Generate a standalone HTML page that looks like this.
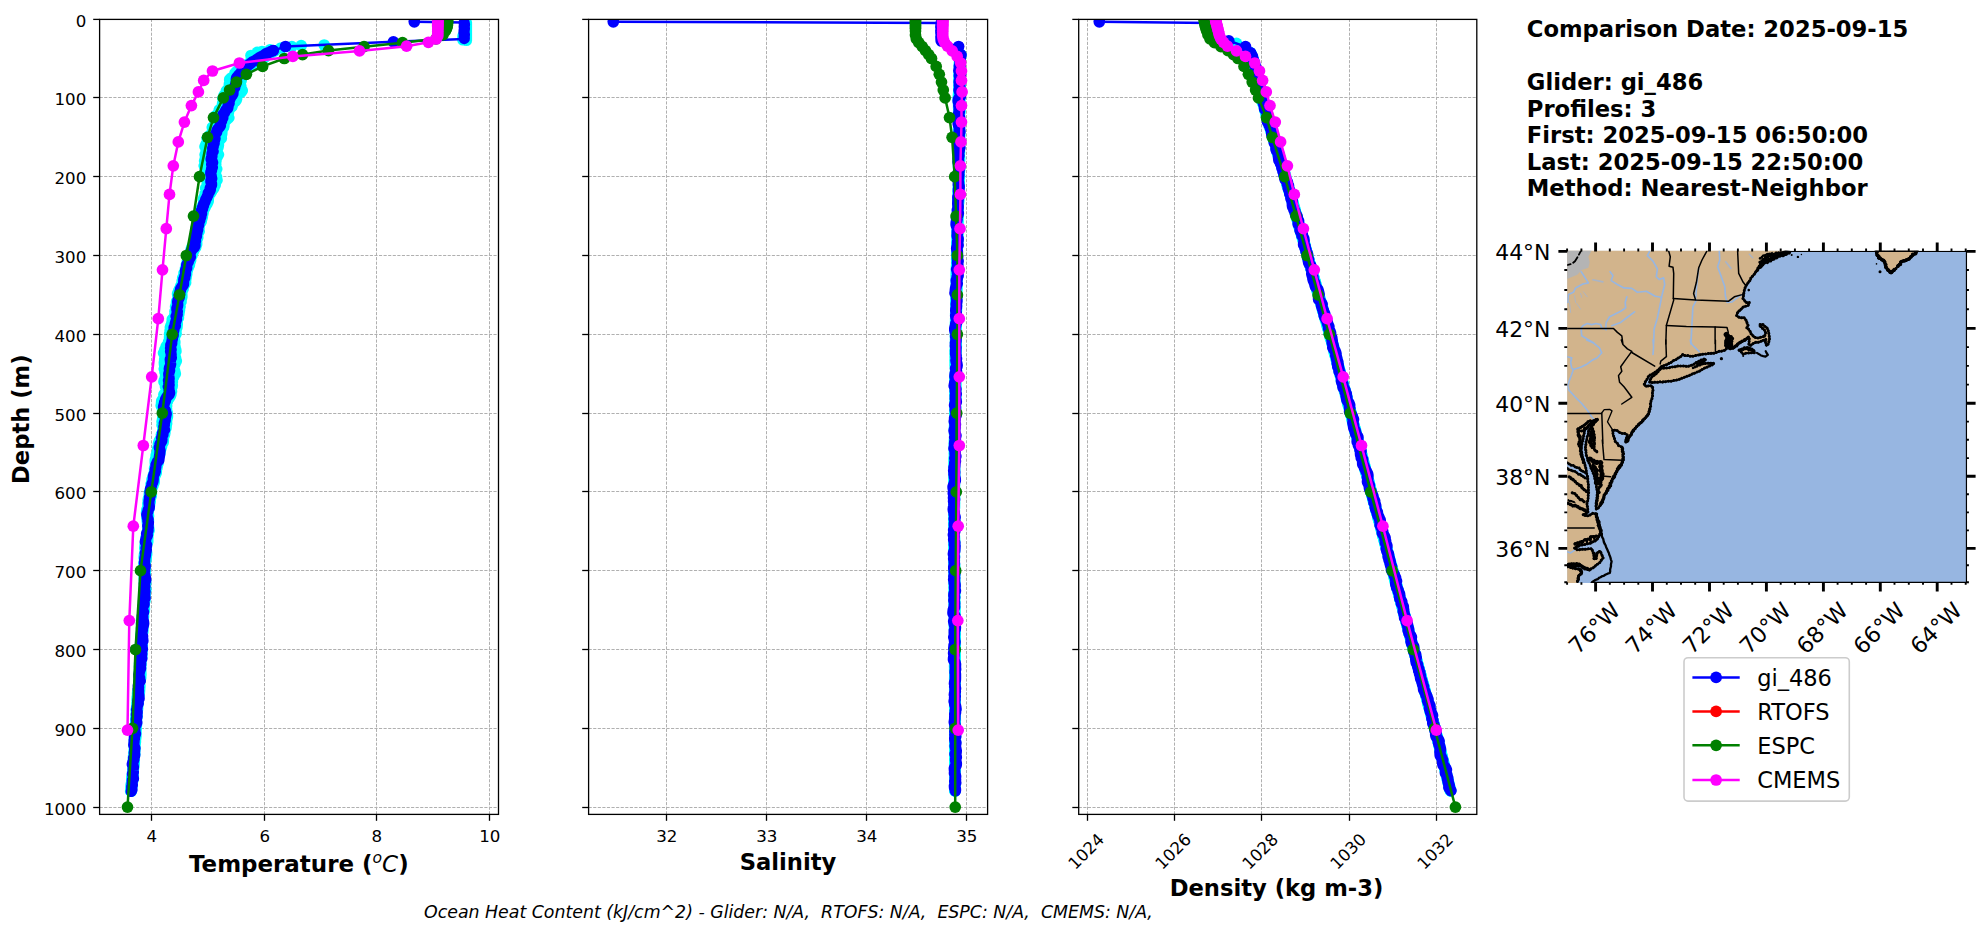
<!DOCTYPE html>
<html lang="en"><head><meta charset="utf-8"><title>Glider vs model profile comparison</title>
<style>html,body{margin:0;padding:0;background:#fff}svg{display:block}text{font-family:'DejaVu Sans','Liberation Sans',sans-serif;fill:#000}</style>
</head><body>
<svg width="1980" height="934" viewBox="0 0 1980 934">
<rect width="1980" height="934" fill="#fff"/>
<defs>
<clipPath id="c0"><rect x="99.6" y="19.4" width="398.9" height="795"/></clipPath>
<clipPath id="c1"><rect x="588.6" y="19.4" width="399" height="795"/></clipPath>
<clipPath id="c2"><rect x="1078.7" y="19.4" width="398.1" height="795"/></clipPath>
<clipPath id="cm"><rect x="1567.2" y="250.7" width="400" height="332.3"/></clipPath>
</defs>
<g stroke="#b0b0b0" stroke-width="1" stroke-dasharray="3.15 1.43" fill="none">
<path d="M99.6 97.5H498.5"/>
<path d="M99.6 176.5H498.5"/>
<path d="M99.6 255.5H498.5"/>
<path d="M99.6 334.5H498.5"/>
<path d="M99.6 413.5H498.5"/>
<path d="M99.6 491.5H498.5"/>
<path d="M99.6 570.5H498.5"/>
<path d="M99.6 649.5H498.5"/>
<path d="M99.6 728.5H498.5"/>
<path d="M99.6 807.5H498.5"/>
<path d="M151.5 814.4V19.4"/>
<path d="M264.5 814.4V19.4"/>
<path d="M376.5 814.4V19.4"/>
<path d="M489.5 814.4V19.4"/>
</g>
<g stroke="#b0b0b0" stroke-width="1" stroke-dasharray="3.15 1.43" fill="none">
<path d="M588.6 97.5H987.6"/>
<path d="M588.6 176.5H987.6"/>
<path d="M588.6 255.5H987.6"/>
<path d="M588.6 334.5H987.6"/>
<path d="M588.6 413.5H987.6"/>
<path d="M588.6 491.5H987.6"/>
<path d="M588.6 570.5H987.6"/>
<path d="M588.6 649.5H987.6"/>
<path d="M588.6 728.5H987.6"/>
<path d="M588.6 807.5H987.6"/>
<path d="M666.5 814.4V19.4"/>
<path d="M766.5 814.4V19.4"/>
<path d="M866.5 814.4V19.4"/>
<path d="M966.5 814.4V19.4"/>
</g>
<g stroke="#b0b0b0" stroke-width="1" stroke-dasharray="3.15 1.43" fill="none">
<path d="M1078.7 97.5H1476.8"/>
<path d="M1078.7 176.5H1476.8"/>
<path d="M1078.7 255.5H1476.8"/>
<path d="M1078.7 334.5H1476.8"/>
<path d="M1078.7 413.5H1476.8"/>
<path d="M1078.7 491.5H1476.8"/>
<path d="M1078.7 570.5H1476.8"/>
<path d="M1078.7 649.5H1476.8"/>
<path d="M1078.7 728.5H1476.8"/>
<path d="M1078.7 807.5H1476.8"/>
<path d="M1087.5 814.4V19.4"/>
<path d="M1174.5 814.4V19.4"/>
<path d="M1261.5 814.4V19.4"/>
<path d="M1349.5 814.4V19.4"/>
<path d="M1436.5 814.4V19.4"/>
</g>
<g clip-path="url(#c0)">
<polyline points="271.9,50.6 267.5,52.2 263.9,53.8 260.2,55.4 259.1,57 255,58.6 252.8,60.2 250.4,61.8 248.6,63.4 245.8,65 243.1,66.6 241.2,68.2 238.2,69.8 236.5,71.4 234.9,73 235.6,74.6 234.1,76.2 231.3,77.8 229.5,79.4 229.6,81 232.1,82.6 229.2,84.2 229.2,85.8 230.4,87.4 228.1,89 226.3,90.6 227.3,92.2 227.2,93.8 223.9,95.4 225.3,97 222.8,98.6 223.6,100.2 223.8,101.8 222.4,103.4 222.3,105 221.9,106.6 221.6,108.2 219.1,109.8 220.1,111.4 219,113 217,114.6 214.8,116.2 216.4,117.8 217.7,119.4 217.9,121 216.8,122.6 216.1,124.2 214.3,125.8 212.1,127.4 213.4,129 213.3,130.6 212.1,132.2 212.3,133.8 209.6,135.4 207.7,137 207,138.6 208.9,140.2 207.9,141.8 206.3,143.4 205.6,145 204.9,146.6 207.1,148.2 208.4,149.8 205.9,151.4 206.4,153 205.1,154.6 206.6,156.2 205.3,157.8 206.3,159.4 204.5,161 205.2,162.6 205.1,164.2 204,165.8 206,167.4 205.6,169 206.3,170.6 204.8,172.2 204.4,173.8 206.1,175.4 205.9,177 207.4,178.6 207.4,180.2 208.3,181.8 207.1,183.4 207,185 207.5,186.6 205.4,188.2 207.1,189.8 205.6,191.4 205.1,193 205.1,194.6 204.5,196.2 203.7,197.8 203.1,199.4 203.6,201 203.8,202.6 203.3,204.2 202.3,205.8 202.1,207.4 200.6,209 200.7,210.6 200.2,212.2 199.8,213.8 199.5,215.4 198.4,217 198.1,218.6 198,220.2 197.5,221.8 197.2,223.4 196.7,225 196.5,226.6 195.9,228.2 196.4,229.8 195.5,231.4 195.7,233 195.3,234.6 195.5,236.2 195.4,237.8 194.7,239.4 195,241 194.8,242.6 193.4,244.2 192.4,245.8 191.6,247.4 191.1,249 190.7,250.6 190.2,252.2 190.2,253.8 189.2,255.4 189.2,257 188.4,258.6 188.1,260.2 187,261.8 187,263.4 186.1,265 186.1,266.6 185.3,268.2 185.3,269.8 185.1,271.4 183.8,273 184,274.6 183.6,276.2 182.5,277.8 182.6,279.4 182,281 182.4,282.6 181.8,284.2 180.6,285.8 180.5,287.4 179.3,289 178.7,290.6 178,292.2 177.4,293.8 177.6,295.4 178.4,297 177.9,298.6 177.2,300.2 176.3,301.8 176.3,303.4 176,305 175.4,306.6 176,308.2 176.1,309.8 174.8,311.4 175,313 174.7,314.6 175.1,316.2 174,317.8 172.1,319.4 172.7,321 171.8,322.6 171.5,324.2 170.7,325.8 170.2,327.4 171,329 169.9,330.6 170.4,332.2 169.4,333.8 169.6,335.4 169.4,337 169.4,338.6 169.2,340.2 168.4,341.8 168.7,343.4 167.2,345 165.9,346.6 166,348.2 164.6,349.8 164.4,351.4 163.4,353 164.5,354.6 164.9,356.2 164.8,357.8 164.5,359.4 164.5,361 164.2,362.6 164.3,364.2 164.6,365.8 166,367.4 164.2,369 165.1,370.6 164.8,372.2 166.1,373.8 166,375.4 165.2,377 165.8,378.6 164.2,380.2 163.8,381.8 164.8,383.4 165.9,385 165.3,386.6 165.8,388.2 166.2,389.8 166.1,391.4 165,393 163.7,394.6 164,396.2 163.9,397.8 162.5,399.4 161.5,401 161.4,402.6 161.3,404.2 161,405.8 162.1,407.4 162.4,409 162.4,410.6 163.7,412.2 164.1,413.8 164.2,415.4 163.4,417 162.5,418.6 162.3,420.2 161.9,421.8 162.7,423.4 161.9,425 162.6,426.6 163.1,428.2 162.6,429.8 162.7,431.4 162.5,433 161.2,434.6 161.1,436.2 160.9,437.8 159.9,439.4 159.1,441 158.5,442.6 158.2,444.2 158.8,445.8 158,447.4 157.5,449 157.6,450.6 157.4,452.2 156.5,453.8 156,455.4 156,457 155.5,458.6 155.1,460.2 155.1,461.8 155.2,463.4 155.4,465 155.1,466.6 154.4,468.2 154.6,469.8 154.4,471.4 154.1,473 153.5,474.6 152.9,476.2 152.8,477.8 151.8,479.4 151.8,481 151.5,482.6 150.9,484.2 151.1,485.8 151,487.4 150.4,489 150.1,490.6 149.4,492.2 149.2,493.8 149.1,495.4 149.1,497 148.3,498.6 148,500.2 148.3,501.8 147.7,503.4 147.8,505 147.9,506.6 147.4,508.2 146.7,509.8 146.5,511.4 146.4,513 146.7,514.6 146.7,516.2 146.7,517.8 146.9,519.4 147.1,521 147.3,522.6 147.5,524.2 147.6,525.8 147.5,527.4 147.7,529 147.5,530.6 147.1,532.2 147.1,533.8 146.4,535.4 146,537 146.2,538.6 146.1,540.2 145.6,541.8 145.3,543.4 145,545 144.8,546.6 144.6,548.2 145,549.8 145.1,551.4 144.7,553 144.3,554.6 144.1,556.2 144,557.8 144.5,559.4 144.2,561 143.9,562.6 143.7,564.2 143.8,565.8 144.1,567.4 144.1,569 143.9,570.6 143.9,572.2 143.9,573.8 143.8,575.4 144.3,577 144,578.6 144.2,580.2 144.4,581.8 144.2,583.4 144.3,585 144.2,586.6 143.9,588.2 144.1,589.8 144,591.4 143.9,593 144.1,594.6 144,596.2 143.7,597.8 143.8,599.4 143.5,601 143.4,602.6 143.5,604.2 143.1,605.8 143,607.4 142.7,609 142.9,610.6 142.6,612.2 142.6,613.8 142.5,615.4 142,617 141.7,618.6 141.4,620.2 141.6,621.8 141.3,623.4 141.6,625 141.7,626.6 141.3,628.2 141.6,629.8 141.4,631.4 141.2,633 140.8,634.6 140.7,636.2 140.6,637.8 141.1,639.4 140.6,641 140.5,642.6 140.4,644.2 140.6,645.8 140.3,647.4 140.7,649 140.8,650.6 140.5,652.2 140,653.8 139.9,655.4 140.1,657 139.9,658.6 140,660.2 139.6,661.8 139.4,663.4 139.5,665 139.3,666.6 139.7,668.2 139.5,669.8 139.4,671.4 139.6,673 139.6,674.6 139.6,676.2 139.2,677.8 139.1,679.4 138.8,681 139,682.6 139,684.2 138.6,685.8 138.7,687.4 138.3,689 138,690.6 137.5,692.2 137.4,693.8 137.5,695.4 137.1,697 137,698.6 136.9,700.2 137.2,701.8 136.7,703.4 136.8,705 136.7,706.6 136.4,708.2 136,709.8 136.2,711.4 136.1,713 136.1,714.6 136,716.2 135.6,717.8 135.8,719.4 135.6,721 135.8,722.6 135.4,724.2 135.1,725.8 135.4,727.4 135.3,729 135.2,730.6 135.1,732.2 135.2,733.8 134.7,735.4 134.6,737 134.4,738.6 134.2,740.2 134.2,741.8 134.3,743.4 134,745 134.2,746.6 134.2,748.2 134.1,749.8 133.9,751.4 133.8,753 133.8,754.6 133.4,756.2 133.3,757.8 133.2,759.4 133.3,761 133,762.6 132.7,764.2 132.5,765.8 132.7,767.4 132.9,769 132.7,770.6 132.4,772.2 132.3,773.8 132,775.4 131.7,777 131.6,778.6 131.6,780.2 131.7,781.8 131.3,783.4 130.9,785 130.9,786.6 131,788.2 130.7,789.8 130.5,791.4" fill="none" stroke="#00ffff" stroke-width="11.2" stroke-linejoin="round" stroke-linecap="round"/>
</g>
<g clip-path="url(#c0)">
<polyline points="275.6,50.6 272.8,52.2 268.3,53.8 267.3,55.4 265.3,57 263.5,58.6 259.3,60.2 255.9,61.8 252.9,63.4 250.6,65 248,66.6 248.2,68.2 246.7,69.8 246.8,71.4 246.5,73 244.6,74.6 242.5,76.2 241.7,77.8 239.8,79.4 241.1,81 239.7,82.6 238.5,84.2 240.8,85.8 240,87.4 241.6,89 242.4,90.6 241.3,92.2 238.7,93.8 236.5,95.4 235.5,97 236.8,98.6 236.4,100.2 234.9,101.8 232.7,103.4 232.5,105 232.1,106.6 230.1,108.2 229.3,109.8 228.7,111.4 228.5,113 228.2,114.6 228,116.2 228.9,117.8 227.1,119.4 225.2,121 224.6,122.6 223.6,124.2 224.1,125.8 223.7,127.4 222.6,129 220.9,130.6 222,132.2 221.9,133.8 221.5,135.4 221.3,137 221.5,138.6 218.7,140.2 217.6,141.8 217.8,143.4 218.6,145 218.3,146.6 217.9,148.2 216.9,149.8 216,151.4 217.5,153 218.6,154.6 217.6,156.2 216.9,157.8 215.3,159.4 216.1,161 215.1,162.6 215.9,164.2 215.2,165.8 215.4,167.4 216.8,169 215.7,170.6 215.8,172.2 215.1,173.8 215.3,175.4 216.7,177 216,178.6 217.1,180.2 215.9,181.8 215.3,183.4 215.4,185 214.4,186.6 214,188.2 212.5,189.8 210.8,191.4 210.4,193 209.2,194.6 208.6,196.2 208.6,197.8 208.4,199.4 208.4,201 207.8,202.6 207,204.2 205.9,205.8 205.2,207.4 204.3,209 203.2,210.6 203.1,212.2 203.1,213.8 202.3,215.4 202.5,217 202,218.6 201.2,220.2 201.4,221.8 200.1,223.4 199.5,225 199.1,226.6 199.2,228.2 198.6,229.8 199.3,231.4 198.2,233 197.9,234.6 197.7,236.2 197.9,237.8 197.1,239.4 196.5,241 196.8,242.6 196.8,244.2 196.1,245.8 195.9,247.4 194.7,249 193.9,250.6 193.2,252.2 192.1,253.8 192.2,255.4 191,257 190.2,258.6 190.8,260.2 190.2,261.8 189.3,263.4 189.6,265 188.6,266.6 188.2,268.2 187.2,269.8 186.6,271.4 186.6,273 186.8,274.6 185.8,276.2 186.1,277.8 185.9,279.4 185.6,281 185.8,282.6 184.9,284.2 183.5,285.8 182.6,287.4 183.3,289 182.2,290.6 181.7,292.2 181.9,293.8 182,295.4 182,297 181.6,298.6 180.8,300.2 181.2,301.8 179.9,303.4 179.4,305 180.2,306.6 179.2,308.2 179.7,309.8 179.4,311.4 179.1,313 178.9,314.6 178.3,316.2 178.6,317.8 177.2,319.4 176.8,321 177.3,322.6 177.4,324.2 177.2,325.8 177.1,327.4 176.2,329 176.2,330.6 176,332.2 176.3,333.8 175.2,335.4 174.7,337 174.5,338.6 174,340.2 175,341.8 174.9,343.4 173.6,345 175.2,346.6 174.9,348.2 175.9,349.8 176.1,351.4 175.1,353 174.2,354.6 174.4,356.2 175.7,357.8 175.9,359.4 176.5,361 175.6,362.6 175,364.2 173.9,365.8 174,367.4 174.1,369 174.7,370.6 175.1,372.2 175.5,373.8 173.8,375.4 173.9,377 172.2,378.6 171.8,380.2 172.5,381.8 171,383.4 172.5,385 172.3,386.6 171.3,388.2 171.2,389.8 171.7,391.4 170.4,393 171.1,394.6 170.4,396.2 169.5,397.8 168,399.4 167.7,401 166.7,402.6 165.9,404.2 166.8,405.8 166.4,407.4 166.7,409 166.6,410.6 167.2,412.2 167.3,413.8 167.6,415.4 167.6,417 167,418.6 166.9,420.2 166.3,421.8 166.8,423.4 166.4,425 166.3,426.6 166.1,428.2 165.3,429.8 164.9,431.4 165,433 164.7,434.6 163.9,436.2 163.2,437.8 163.5,439.4 163.5,441 163.3,442.6 162.2,444.2 161.9,445.8 161.4,447.4 160.9,449 160.4,450.6 160.3,452.2 160,453.8 159,455.4 158.3,457 158,458.6 158.4,460.2 158.5,461.8 158.2,463.4 157.5,465 157.2,466.6 157,468.2 156.2,469.8 156.5,471.4 156.4,473 155.3,474.6 154.7,476.2 154.3,477.8 154.4,479.4 154.4,481 154.3,482.6 153.5,484.2 153.1,485.8 152.3,487.4 151.6,489 151.6,490.6 151.4,492.2 151.5,493.8 151.5,495.4 151.1,497 150.3,498.6 150.2,500.2 150.4,501.8 149.9,503.4 149.7,505 149.4,506.6 149.1,508.2 148.7,509.8 148.3,511.4 148.1,513 148.5,514.6 148.7,516.2 148.2,517.8 148.2,519.4 148,521 148,522.6 148,524.2 148.6,525.8 148.5,527.4 148.9,529 149.2,530.6 148.5,532.2 148.2,533.8 147.7,535.4 147.4,537 147.8,538.6 147.9,540.2 147.9,541.8 147.1,543.4 146.7,545 146.6,546.6 146.1,548.2 146.3,549.8 146.6,551.4 146.8,553 146.8,554.6 146.3,556.2 146.4,557.8 145.9,559.4 145.8,561 145.4,562.6 145.2,564.2 145,565.8 145.1,567.4 145.4,569 145.4,570.6 145.1,572.2 145.1,573.8 145.2,575.4 145,577 145,578.6 145.6,580.2 145.8,581.8 145.8,583.4 145.4,585 145.5,586.6 145.8,588.2 146,589.8 145.6,591.4 145.4,593 145.4,594.6 145,596.2 145.1,597.8 144.6,599.4 144.9,601 144.5,602.6 144.4,604.2 144.5,605.8 144.4,607.4 144.6,609 144.4,610.6 143.9,612.2 143.5,613.8 143.7,615.4 143.7,617 143.2,618.6 143.4,620.2 143.1,621.8 142.8,623.4 142.6,625 142.6,626.6 142.9,628.2 142.8,629.8 142.6,631.4 142.6,633 142.2,634.6 142.4,636.2 142.5,637.8 142.4,639.4 141.9,641 141.9,642.6 142.3,644.2 142.4,645.8 142.4,647.4 142.3,649 142.4,650.6 141.9,652.2 142,653.8 142,655.4 142,657 141.5,658.6 141.4,660.2 140.9,661.8 140.8,663.4 141.1,665 140.7,666.6 140.8,668.2 140.5,669.8 140.9,671.4 141,673 141.1,674.6 140.8,676.2 140.9,677.8 140.3,679.4 140.2,681 139.7,682.6 139.8,684.2 140,685.8 139.9,687.4 139.8,689 139.7,690.6 139.6,692.2 139.3,693.8 139.2,695.4 138.6,697 138.3,698.6 138.4,700.2 138.4,701.8 138.1,703.4 137.9,705 137.7,706.6 137.8,708.2 137.6,709.8 137.3,711.4 137.1,713 137,714.6 137.3,716.2 136.9,717.8 136.5,719.4 136.5,721 136.4,722.6 136.7,724.2 136.5,725.8 136.4,727.4 136.1,729 136,730.6 136,732.2 135.9,733.8 135.8,735.4 136,737 135.8,738.6 135.5,740.2 135.6,741.8 135.2,743.4 134.9,745 134.9,746.6 134.9,748.2 134.9,749.8 134.6,751.4 134.7,753 134.9,754.6 134.5,756.2 134.3,757.8 134.3,759.4 134.3,761 134.4,762.6 134.2,764.2 134,765.8 133.6,767.4 133.6,769 133.2,770.6 133,772.2 132.8,773.8 133.1,775.4 132.9,777 132.7,778.6 132.8,780.2 132.6,781.8 132.1,783.4 132.1,785 132.2,786.6 131.6,788.2 131.7,789.8 131.4,791.4" fill="none" stroke="#00ffff" stroke-width="11.2" stroke-linejoin="round" stroke-linecap="round"/>
</g>
<g clip-path="url(#c0)">
<polyline points="273.2,50.6 270.5,52.2 268.5,53.8 264.9,55.4 262.3,57 259.1,58.6 257.1,60.2 255,61.8 252.8,63.4 251.7,65 249.5,66.6 246.7,68.2 244.6,69.8 243.6,71.4 243,73 240.6,74.6 241.2,76.2 239.7,77.8 240.1,79.4 237.3,81 236.5,82.6 234.5,84.2 234.9,85.8 234.3,87.4 234.2,89 233.4,90.6 235.5,92.2 235.4,93.8 233.9,95.4 233.4,97 231.6,98.6 233.6,100.2 234.3,101.8 233,103.4 230.1,105 231.5,106.6 228.7,108.2 226.1,109.8 225.9,111.4 225.2,113 226.3,114.6 223.9,116.2 222.2,117.8 222.6,119.4 221.1,121 222.3,122.6 221.9,124.2 222.8,125.8 223.2,127.4 220.7,129 220.9,130.6 219.7,132.2 220.4,133.8 217.4,135.4 216.8,137 218.1,138.6 215.5,140.2 214.9,141.8 214.4,143.4 214.2,145 216.2,146.6 214.3,148.2 215.4,149.8 213.9,151.4 215.1,153 213.1,154.6 211.8,156.2 214.2,157.8 212.1,159.4 213.1,161 212.1,162.6 212.8,164.2 212.3,165.8 213,167.4 213.6,169 214.1,170.6 212.2,172.2 213.6,173.8 212.4,175.4 212.9,177 213.8,178.6 214.1,180.2 213.5,181.8 213.1,183.4 211.8,185 212.6,186.6 211.9,188.2 211.7,189.8 211.7,191.4 210.8,193 209.2,194.6 208.4,196.2 207.1,197.8 206.3,199.4 206.6,201 206.2,202.6 204.9,204.2 204.4,205.8 203.8,207.4 203.8,209 203.6,210.6 202.4,212.2 201.2,213.8 200.6,215.4 200.7,217 200.2,218.6 199.2,220.2 199.6,221.8 199.5,223.4 198.8,225 197.7,226.6 197.5,228.2 197.6,229.8 196.8,231.4 196.3,233 195.8,234.6 195.4,236.2 195.9,237.8 196.2,239.4 196.2,241 195.5,242.6 194.9,244.2 193.7,245.8 194,247.4 193.4,249 192.3,250.6 191.3,252.2 190.8,253.8 190.4,255.4 190.5,257 189.4,258.6 189.7,260.2 188.8,261.8 188,263.4 188.1,265 187.2,266.6 187.8,268.2 187.4,269.8 187.1,271.4 186.5,273 186.5,274.6 186.2,276.2 185.5,277.8 184.2,279.4 184.2,281 184.5,282.6 183.3,284.2 183.2,285.8 182,287.4 182.3,289 181.8,290.6 181.4,292.2 181.1,293.8 180.7,295.4 180.6,297 180.3,298.6 179.5,300.2 179.9,301.8 178.8,303.4 179,305 178.5,306.6 177.6,308.2 177.2,309.8 177.3,311.4 176.6,313 176.9,314.6 177.5,316.2 177.3,317.8 176.8,319.4 176.5,321 176,322.6 176.1,324.2 176,325.8 175.4,327.4 175.4,329 175.1,330.6 173.8,332.2 173,333.8 173,335.4 172.7,337 173.3,338.6 173.1,340.2 173.4,341.8 173.5,343.4 174.2,345 173.4,346.6 172,348.2 173.5,349.8 172.3,351.4 172.9,353 171.7,354.6 171.4,356.2 172,357.8 173.1,359.4 173.8,361 174.2,362.6 173,364.2 173,365.8 173,367.4 172.3,369 172.5,370.6 171.6,372.2 171.2,373.8 170.5,375.4 169.6,377 171.2,378.6 171,380.2 170.7,381.8 171,383.4 169.9,385 168.8,386.6 169.5,388.2 168.9,389.8 168.3,391.4 168.7,393 168.2,394.6 168.7,396.2 167.7,397.8 167.8,399.4 167.2,401 166.7,402.6 166.2,404.2 165.2,405.8 165.8,407.4 164.9,409 165.7,410.6 166.8,412.2 167.3,413.8 167.2,415.4 167,417 166.4,418.6 166.4,420.2 166.2,421.8 165.9,423.4 165.5,425 165.4,426.6 165.4,428.2 164.5,429.8 164.4,431.4 164.6,433 163.4,434.6 163.8,436.2 163.6,437.8 162.8,439.4 162.4,441 161.8,442.6 161,444.2 160.6,445.8 160.9,447.4 159.8,449 159.6,450.6 159,452.2 159,453.8 159.2,455.4 158.8,457 157.9,458.6 158.2,460.2 157.5,461.8 157.5,463.4 157.4,465 156.6,466.6 155.8,468.2 156.1,469.8 156,471.4 155.1,473 155.1,474.6 154.9,476.2 154,477.8 153.3,479.4 153.2,481 152.7,482.6 152.2,484.2 151.6,485.8 151.4,487.4 150.8,489 150.4,490.6 150.2,492.2 150.3,493.8 150.3,495.4 150,497 149.6,498.6 149.6,500.2 149.5,501.8 149.2,503.4 149,505 148.8,506.6 149,508.2 148.2,509.8 148.3,511.4 148.2,513 148,514.6 148.1,516.2 148.4,517.8 148.5,519.4 148.6,521 148.1,522.6 148,524.2 147.9,525.8 148.6,527.4 148.4,529 148.3,530.6 148.3,532.2 148.3,533.8 147.7,535.4 147.8,537 147.3,538.6 147.4,540.2 146.7,541.8 146.8,543.4 146.1,545 146.3,546.6 146,548.2 146.1,549.8 146.2,551.4 146.4,553 146.4,554.6 146.3,556.2 145.6,557.8 145.9,559.4 145.6,561 145.2,562.6 145,564.2 145.2,565.8 145.5,567.4 145.3,569 145.5,570.6 145.3,572.2 145.2,573.8 144.8,575.4 145.1,577 145.4,578.6 144.9,580.2 145.1,581.8 145.1,583.4 144.8,585 145.3,586.6 145.4,588.2 145,589.8 145.5,591.4 145,593 145,594.6 144.6,596.2 144.4,597.8 144.8,599.4 144.8,601 144.1,602.6 144.3,604.2 144.2,605.8 144.3,607.4 143.7,609 143.6,610.6 143.1,612.2 143.2,613.8 143,615.4 143.3,617 143,618.6 143.2,620.2 143.3,621.8 143.2,623.4 142.6,625 142.9,626.6 142.9,628.2 142.8,629.8 142.9,631.4 142.6,633 142.3,634.6 142.4,636.2 142.1,637.8 142,639.4 141.6,641 141.9,642.6 141.5,644.2 141.4,645.8 141.5,647.4 141.6,649 141.3,650.6 141.5,652.2 141.6,653.8 141.1,655.4 141.1,657 141.2,658.6 141,660.2 140.8,661.8 140.7,663.4 140.4,665 140.6,666.6 140.5,668.2 140.6,669.8 140.4,671.4 140.3,673 140.4,674.6 139.9,676.2 139.6,677.8 139.9,679.4 139.6,681 139.3,682.6 139.3,684.2 139.5,685.8 139,687.4 139.3,689 139.1,690.6 138.8,692.2 138.4,693.8 138.2,695.4 138.1,697 138.3,698.6 138.2,700.2 138.2,701.8 138,703.4 137.5,705 137.5,706.6 137.1,708.2 137.2,709.8 137,711.4 136.6,713 136.9,714.6 136.5,716.2 136.6,717.8 136.3,719.4 136.6,721 136.4,722.6 136.3,724.2 136.2,725.8 136.4,727.4 136.2,729 135.7,730.6 135.9,732.2 135.8,733.8 135.8,735.4 135.4,737 135.2,738.6 135.2,740.2 134.9,741.8 135.1,743.4 134.9,745 134.8,746.6 134.9,748.2 134.9,749.8 134.4,751.4 134.7,753 134.3,754.6 134,756.2 133.9,757.8 134.1,759.4 134,761 134.1,762.6 134,764.2 133.8,765.8 133.6,767.4 133.5,769 133.1,770.6 133.3,772.2 133.3,773.8 133.4,775.4 133.2,777 133,778.6 132.6,780.2 132.2,781.8 132.2,783.4 131.8,785 131.5,786.6 131.1,788.2 131.3,789.8 131.2,791.4" fill="none" stroke="#00ffff" stroke-width="11.2" stroke-linejoin="round" stroke-linecap="round"/>
</g>
<g clip-path="url(#c0)">
<polyline points="466.5,22.6 466.5,40.5" fill="none" stroke="#00ffff" stroke-width="11.2" stroke-linejoin="round" stroke-linecap="round"/>
</g>
<g clip-path="url(#c0)">
<polyline points="462.8,36 462.8,40" fill="none" stroke="#00ffff" stroke-width="11.2" stroke-linejoin="round" stroke-linecap="round"/>
</g>
<g clip-path="url(#c0)" fill="#00ffff">
<circle cx="324.2" cy="45" r="5.85"/>
<circle cx="301.2" cy="45.6" r="5.85"/>
<circle cx="291.8" cy="46.6" r="5.85"/>
<circle cx="281" cy="48" r="5.85"/>
<circle cx="270" cy="49.8" r="5.85"/>
<circle cx="262" cy="51.5" r="5.85"/>
<circle cx="257.3" cy="52.4" r="5.85"/>
<circle cx="251" cy="55.5" r="5.85"/>
</g>
<g clip-path="url(#c0)">
<polyline points="414.3,21.8 464.3,22.6 464.3,39 393.4,41.8 285.5,46.5 273.2,50.6" fill="none" stroke="#0000ff" stroke-width="2.5" stroke-linejoin="round"/>
<g fill="#0000ff">
<circle cx="414.3" cy="21.8" r="5.85"/>
<circle cx="393.4" cy="41.8" r="5.85"/>
<circle cx="285.5" cy="46.5" r="5.85"/>
<circle cx="273.2" cy="50.6" r="5.85"/>
</g></g>
<g clip-path="url(#c0)">
<polyline points="464.1,22.6 464.5,24.6 464.2,26.6 464.4,28.6 464.1,30.6 464,32.6 464.4,34.6 464.2,36.6 464.3,38.6" fill="none" stroke="#0000ff" stroke-width="11.2" stroke-linejoin="round" stroke-linecap="round"/>
</g>
<g clip-path="url(#c0)">
<polyline points="273.1,50.6 269.6,52.2 265.7,53.8 263.8,55.4 260.3,57 257.8,58.6 255.8,60.2 252.5,61.8 250.6,63.4 248.7,65 245.8,66.6 244.3,68.2 243.2,69.8 241.5,71.4 240.7,73 239.1,74.6 237.8,76.2 236.5,77.8 236.2,79.4 236.6,81 236.1,82.6 235.9,84.2 235,85.8 234.9,87.4 233.6,89 233,90.6 233.1,92.2 233,93.8 232.1,95.4 230.9,97 230.2,98.6 229.5,100.2 228.9,101.8 229.2,103.4 228.1,105 228.1,106.6 227.8,108.2 226,109.8 225.1,111.4 224.4,113 222.9,114.6 222.4,116.2 222.9,117.8 221.8,119.4 221.7,121 220.7,122.6 220.4,124.2 220.5,125.8 219.2,127.4 217.8,129 216.9,130.6 216.8,132.2 215.6,133.8 214.8,135.4 214.7,137 215.1,138.6 214.6,140.2 214.2,141.8 214.2,143.4 213.2,145 213.3,146.6 212.6,148.2 212.7,149.8 213.2,151.4 212,153 211.9,154.6 212,156.2 211.4,157.8 211.1,159.4 212.1,161 212.7,162.6 211.6,164.2 211.9,165.8 212.4,167.4 211.5,169 211.6,170.6 210.7,172.2 210.7,173.8 211.2,175.4 211.4,177 211.8,178.6 210.9,180.2 210.8,181.8 211.6,183.4 211.6,185 210.9,186.6 210.1,188.2 210.4,189.8 209.6,191.4 208.1,193 208.2,194.6 207.3,196.2 206.7,197.8 205.7,199.4 205.3,201 204.6,202.6 203.5,204.2 203.5,205.8 202.4,207.4 202.6,209 201.3,210.6 201.5,212.2 201.6,213.8 201,215.4 200.9,217 199.9,218.6 199.9,220.2 199.2,221.8 198.4,223.4 198.8,225 198.1,226.6 197.4,228.2 197.8,229.8 197.1,231.4 197,233 196.1,234.6 196.5,236.2 195.7,237.8 194.8,239.4 195.6,241 194.8,242.6 195.1,244.2 195.1,245.8 194.2,247.4 192.5,249 191.3,250.6 190.6,252.2 190.2,253.8 190.1,255.4 190.5,257 189.6,258.6 188.5,260.2 188.4,261.8 187.4,263.4 186.6,265 186.7,266.6 186.8,268.2 185.6,269.8 185.4,271.4 185.5,273 185.5,274.6 184.7,276.2 184.9,277.8 183.7,279.4 183.7,281 183.6,282.6 183.6,284.2 182.8,285.8 181.5,287.4 180.5,289 180.5,290.6 179.8,292.2 179.9,293.8 179,295.4 179.5,297 178.8,298.6 177.9,300.2 177.6,301.8 177.7,303.4 177.8,305 177.5,306.6 176.8,308.2 176.8,309.8 177.4,311.4 177,313 177.3,314.6 176,316.2 176.5,317.8 176.6,319.4 176,321 175.5,322.6 175.1,324.2 175.4,325.8 174,327.4 174.1,329 173.8,330.6 173.2,332.2 173.3,333.8 173.3,335.4 172.3,337 172.5,338.6 172.1,340.2 171.8,341.8 171.8,343.4 170.7,345 170.9,346.6 170.5,348.2 171.2,349.8 170.5,351.4 171,353 171.2,354.6 171.1,356.2 171.4,357.8 170.2,359.4 170.4,361 170.5,362.6 170.7,364.2 170.3,365.8 169.5,367.4 169.2,369 169.7,370.6 169.2,372.2 168.7,373.8 168.8,375.4 169,377 169.2,378.6 168.4,380.2 169.1,381.8 168.7,383.4 169.2,385 168.2,386.6 169,388.2 168.9,389.8 169.4,391.4 169.7,393 169.1,394.6 167.3,396.2 166.4,397.8 165.4,399.4 165.4,401 164.5,402.6 164.2,404.2 163.7,405.8 163.4,407.4 164.5,409 165.5,410.6 165.6,412.2 166.3,413.8 165.9,415.4 165.6,417 165.2,418.6 165.3,420.2 164.7,421.8 164.2,423.4 164.4,425 163.8,426.6 163.9,428.2 164.6,429.8 163.3,431.4 162.5,433 163,434.6 162,436.2 161.5,437.8 162,439.4 161.8,441 160.9,442.6 159.9,444.2 159.6,445.8 159.2,447.4 159.7,449 160.1,450.6 159.9,452.2 159.8,453.8 159.6,455.4 159.3,457 159.1,458.6 158.9,460.2 157.3,461.8 156.6,463.4 155.9,465 155.9,466.6 155.6,468.2 155.1,469.8 155.4,471.4 154.8,473 153.9,474.6 153.4,476.2 153.3,477.8 153.3,479.4 153.1,481 152.6,482.6 151.8,484.2 151.5,485.8 151.1,487.4 150.4,489 150.5,490.6 149.9,492.2 150.3,493.8 150.4,495.4 149.5,497 149.6,498.6 149.2,500.2 149,501.8 149,503.4 149.2,505 149.4,506.6 149.2,508.2 148.1,509.8 147.9,511.4 147.3,513 146.7,514.6 147.2,516.2 147.4,517.8 148.2,519.4 147.8,521 148.5,522.6 148.3,524.2 147.7,525.8 148.3,527.4 148,529 148.1,530.6 147.2,532.2 146.5,533.8 147.4,535.4 146.5,537 146,538.6 145.6,540.2 145.2,541.8 146,543.4 146.7,545 146.4,546.6 145.9,548.2 146.4,549.8 146.1,551.4 145.2,553 145.6,554.6 145.3,556.2 144.9,557.8 144.7,559.4 144.7,561 144.3,562.6 144.7,564.2 145.3,565.8 145.2,567.4 144.2,569 144.7,570.6 143.9,572.2 144.2,573.8 145,575.4 145.2,577 145.7,578.6 145.8,580.2 145.1,581.8 144.4,583.4 144.6,585 145,586.6 144.6,588.2 144.5,589.8 145.1,591.4 144.7,593 144.8,594.6 144.7,596.2 145.2,597.8 144,599.4 143.5,601 144.1,602.6 144.2,604.2 143.4,605.8 142.8,607.4 142.6,609 142.9,610.6 143.6,612.2 142.9,613.8 142.4,615.4 142.8,617 142.6,618.6 143.1,620.2 143.6,621.8 143.8,623.4 143.5,625 143,626.6 141.9,628.2 142.5,629.8 142.1,631.4 142,633 142.1,634.6 142.7,636.2 142.4,637.8 142.8,639.4 143,641 141.8,642.6 141.4,644.2 142,645.8 142.1,647.4 142.5,649 141.5,650.6 141.3,652.2 141.9,653.8 141.5,655.4 141.5,657 141.9,658.6 140.9,660.2 140,661.8 140.8,663.4 140.7,665 140.1,666.6 140.7,668.2 140.1,669.8 139.5,671.4 139.3,673 138.8,674.6 139,676.2 139.7,677.8 139.6,679.4 140.3,681 139.1,682.6 138.6,684.2 138.2,685.8 138.6,687.4 138.1,689 138.6,690.6 138.5,692.2 138.5,693.8 138.9,695.4 139,697 139.2,698.6 138,700.2 137.6,701.8 138.3,703.4 137.7,705 137.1,706.6 137,708.2 136.5,709.8 137.2,711.4 137.2,713 136.3,714.6 137.1,716.2 136.8,717.8 136.2,719.4 136.4,721 136.9,722.6 136.3,724.2 135.3,725.8 135,727.4 134.5,729 135,730.6 134.8,732.2 135.6,733.8 135,735.4 134.3,737 134.5,738.6 134.1,740.2 134.1,741.8 133.9,743.4 133.7,745 134.3,746.6 135,748.2 134.6,749.8 134.7,751.4 134.2,753 134.8,754.6 134.6,756.2 133.5,757.8 134,759.4 133.4,761 132.7,762.6 132.2,764.2 133.2,765.8 133.5,767.4 133.1,769 133.2,770.6 133.4,772.2 132.4,773.8 132.9,775.4 133.1,777 133.5,778.6 132.3,780.2 132.3,781.8 132.1,783.4 132.4,785 131.7,786.6 131.7,788.2 132,789.8 131.2,791.4" fill="none" stroke="#0000ff" stroke-width="11.2" stroke-linejoin="round" stroke-linecap="round"/>
</g>
<g clip-path="url(#c0)">
<polyline points="447.6,19.1 447.6,20.7 447.6,22.3 447.5,23.8 447.3,25.4 447,27 446.5,28.6 445.5,30.9 443,34.9 436,38.8 402.5,42.7 364,46.7 328.5,50.6 302.5,54.6 284.3,58.5 262.6,66.4 246.4,74.3 236.4,82.1 229.6,90 223.3,97.9 213.5,117.6 207.5,137.3 199.5,176.7 193.5,216.1 186.3,255.5 179.5,294.9 172.2,334.3 162.3,413.1 151.3,491.9 140.5,570.7 135.5,649.5 132.5,728.3 127.5,807.1" fill="none" stroke="#008000" stroke-width="2.5" stroke-linejoin="round" stroke-linecap="butt"/>
<g fill="#008000">
<circle cx="447.6" cy="19.1" r="5.85"/>
<circle cx="447.6" cy="20.7" r="5.85"/>
<circle cx="447.6" cy="22.3" r="5.85"/>
<circle cx="447.5" cy="23.8" r="5.85"/>
<circle cx="447.3" cy="25.4" r="5.85"/>
<circle cx="447" cy="27" r="5.85"/>
<circle cx="446.5" cy="28.6" r="5.85"/>
<circle cx="445.5" cy="30.9" r="5.85"/>
<circle cx="443" cy="34.9" r="5.85"/>
<circle cx="436" cy="38.8" r="5.85"/>
<circle cx="402.5" cy="42.7" r="5.85"/>
<circle cx="364" cy="46.7" r="5.85"/>
<circle cx="328.5" cy="50.6" r="5.85"/>
<circle cx="302.5" cy="54.6" r="5.85"/>
<circle cx="284.3" cy="58.5" r="5.85"/>
<circle cx="262.6" cy="66.4" r="5.85"/>
<circle cx="246.4" cy="74.3" r="5.85"/>
<circle cx="236.4" cy="82.1" r="5.85"/>
<circle cx="229.6" cy="90" r="5.85"/>
<circle cx="223.3" cy="97.9" r="5.85"/>
<circle cx="213.5" cy="117.6" r="5.85"/>
<circle cx="207.5" cy="137.3" r="5.85"/>
<circle cx="199.5" cy="176.7" r="5.85"/>
<circle cx="193.5" cy="216.1" r="5.85"/>
<circle cx="186.3" cy="255.5" r="5.85"/>
<circle cx="179.5" cy="294.9" r="5.85"/>
<circle cx="172.2" cy="334.3" r="5.85"/>
<circle cx="162.3" cy="413.1" r="5.85"/>
<circle cx="151.3" cy="491.9" r="5.85"/>
<circle cx="140.5" cy="570.7" r="5.85"/>
<circle cx="135.5" cy="649.5" r="5.85"/>
<circle cx="132.5" cy="728.3" r="5.85"/>
<circle cx="127.5" cy="807.1" r="5.85"/>
</g>
</g>
<g clip-path="url(#c0)">
<polyline points="437.8,19.5 437.8,20.3 437.8,21.2 437.8,22.1 437.8,23.1 437.8,24.2 437.8,25.3 437.8,26.6 437.8,28.1 437.8,29.7 437.8,31.6 437.8,33.7 437.8,36.1 436,39 428.4,42.3 406.6,46.2 359.5,50.9 292.8,56.4 239.4,63 212.5,71 203.7,80.4 198.4,91.9 191.4,105.6 184.4,122.1 178.3,141.9 173.3,165.8 169.5,194.4 166.3,228.7 162.5,269.8 158.3,318.7 151.7,376.8 143.3,445.5 133.3,526.2 129.3,620.6 127.5,730.1" fill="none" stroke="#ff00ff" stroke-width="2.5" stroke-linejoin="round" stroke-linecap="butt"/>
<g fill="#ff00ff">
<circle cx="437.8" cy="19.5" r="5.85"/>
<circle cx="437.8" cy="20.3" r="5.85"/>
<circle cx="437.8" cy="21.2" r="5.85"/>
<circle cx="437.8" cy="22.1" r="5.85"/>
<circle cx="437.8" cy="23.1" r="5.85"/>
<circle cx="437.8" cy="24.2" r="5.85"/>
<circle cx="437.8" cy="25.3" r="5.85"/>
<circle cx="437.8" cy="26.6" r="5.85"/>
<circle cx="437.8" cy="28.1" r="5.85"/>
<circle cx="437.8" cy="29.7" r="5.85"/>
<circle cx="437.8" cy="31.6" r="5.85"/>
<circle cx="437.8" cy="33.7" r="5.85"/>
<circle cx="437.8" cy="36.1" r="5.85"/>
<circle cx="436" cy="39" r="5.85"/>
<circle cx="428.4" cy="42.3" r="5.85"/>
<circle cx="406.6" cy="46.2" r="5.85"/>
<circle cx="359.5" cy="50.9" r="5.85"/>
<circle cx="292.8" cy="56.4" r="5.85"/>
<circle cx="239.4" cy="63" r="5.85"/>
<circle cx="212.5" cy="71" r="5.85"/>
<circle cx="203.7" cy="80.4" r="5.85"/>
<circle cx="198.4" cy="91.9" r="5.85"/>
<circle cx="191.4" cy="105.6" r="5.85"/>
<circle cx="184.4" cy="122.1" r="5.85"/>
<circle cx="178.3" cy="141.9" r="5.85"/>
<circle cx="173.3" cy="165.8" r="5.85"/>
<circle cx="169.5" cy="194.4" r="5.85"/>
<circle cx="166.3" cy="228.7" r="5.85"/>
<circle cx="162.5" cy="269.8" r="5.85"/>
<circle cx="158.3" cy="318.7" r="5.85"/>
<circle cx="151.7" cy="376.8" r="5.85"/>
<circle cx="143.3" cy="445.5" r="5.85"/>
<circle cx="133.3" cy="526.2" r="5.85"/>
<circle cx="129.3" cy="620.6" r="5.85"/>
<circle cx="127.5" cy="730.1" r="5.85"/>
</g>
</g>
<g clip-path="url(#c1)">
<polyline points="960.4,54.8 960.3,56.4 960.1,58 960.1,59.6 959.6,61.2 959.5,62.8 959.4,64.4 959.4,66 959.5,67.6 959.7,69.2 959.7,70.8 959.8,72.4 959.3,74 959.1,75.6 959.4,77.2 959.3,78.8 959.1,80.4 959.2,82 959.4,83.6 959.1,85.2 959,86.8 958.9,88.4 959.2,90 958.8,91.6 958.7,93.2 958.5,94.8 958.4,96.4 958.3,98 958.2,99.6 958.5,101.2 958.5,102.8 958.6,104.4 958.7,106 958.6,107.6 958.9,109.2 958.7,110.8 958.7,112.4 958.7,114 958.9,115.6 958.8,117.2 958.7,118.8 959,120.4 959.1,122 958.9,123.6 958.9,125.2 958.9,126.8 958.6,128.4 958.5,130 958.7,131.6 958.5,133.2 958.4,134.8 958.4,136.4 958.6,138 958.4,139.6 958.8,141.2 959,142.8 959.1,144.4 959.1,146 959.2,147.6 959.2,149.2 958.9,150.8 958.6,152.4 958.6,154 958.7,155.6 958.9,157.2 959,158.8 958.6,160.4 958.5,162 958.5,163.6 958.4,165.2 958.5,166.8 958.7,168.4 958.7,170 958.8,171.6 959,173.2 958.8,174.8 958.8,176.4 958.9,178 958.8,179.6 958.8,181.2 958.8,182.8 958.6,184.4 958.4,186 958.4,187.6 958.3,189.2 958.3,190.8 958.1,192.4 958.4,194 958.5,195.6 958.2,197.2 958,198.8 957.9,200.4 957.9,202 957.8,203.6 957.8,205.2 957.9,206.8 957.7,208.4 957.6,210 957.7,211.6 957.6,213.2 957.7,214.8 957.5,216.4 957.7,218 957.4,219.6 957.4,221.2 957.6,222.8 957.6,224.4 957.6,226 957.6,227.6 957.7,229.2 957.4,230.8 957.5,232.4 957.5,234 957.2,235.6 957.2,237.2 957.4,238.8 957.4,240.4 957.5,242 957.2,243.6 957.2,245.2 957.1,246.8 957,248.4 957.1,250 956.9,251.6 956.8,253.2 957,254.8 957,256.4 956.9,258 957,259.6 957.1,261.2 956.9,262.8 956.9,264.4 956.6,266 956.7,267.6 956.4,269.2 956.4,270.8 956.5,272.4 956.4,274 956.5,275.6 956.7,277.2 956.6,278.8 956.5,280.4 956.6,282 956.7,283.6 956.5,285.2 956.5,286.8 956.6,288.4 956.6,290 956.5,291.6 956.4,293.2 956.3,294.8 956.1,296.4 956,298 956.1,299.6 955.9,301.2 956,302.8 955.9,304.4 956.1,306 956.1,307.6 956.2,309.2 956,310.8 955.8,312.4 955.7,314 955.9,315.6 955.9,317.2 955.7,318.8 955.7,320.4 955.6,322 955.5,323.6 955.6,325.2 955.6,326.8 955.8,328.4 955.6,330 955.7,331.6 955.5,333.2 955.4,334.8 955.6,336.4 955.6,338 955.5,339.6 955.7,341.2 955.5,342.8 955.7,344.4 955.5,346 955.6,347.6 955.3,349.2 955.1,350.8 955.3,352.4 955.3,354 955.5,355.6 955.2,357.2 955.5,358.8 955.3,360.4 955.6,362 955.3,363.6 955.3,365.2 955.5,366.8 955.6,368.4 955.6,370 955.7,371.6 955.4,373.2 955.3,374.8 955,376.4 954.9,378 954.8,379.6 955,381.2 955.2,382.8 955.1,384.4 955.3,386 955.3,387.6 955,389.2 955.1,390.8 955.2,392.4 955,394 955,395.6 955.2,397.2 955.2,398.8 955.3,400.4 955.1,402 955,403.6 954.8,405.2 955.1,406.8 955,408.4 954.9,410 955,411.6 955.1,413.2 954.9,414.8 954.9,416.4 955,418 954.9,419.6 954.8,421.2 954.6,422.8 954.7,424.4 954.6,426 954.5,427.6 954.4,429.2 954.7,430.8 954.8,432.4 954.6,434 954.8,435.6 954.8,437.2 954.7,438.8 954.5,440.4 954.4,442 954.4,443.6 954.4,445.2 954.6,446.8 954.5,448.4 954.5,450 954.5,451.6 954.4,453.2 954.6,454.8 954.5,456.4 954.4,458 954.3,459.6 954.4,461.2 954.4,462.8 954.2,464.4 954.2,466 954.4,467.6 954.4,469.2 954.3,470.8 954.2,472.4 954.3,474 954.2,475.6 954,477.2 954,478.8 954.1,480.4 954.1,482 954,483.6 953.9,485.2 953.9,486.8 953.9,488.4 954.1,490 954.1,491.6 954.3,493.2 954.3,494.8 954.3,496.4 954.1,498 954.1,499.6 954.2,501.2 954,502.8 953.9,504.4 953.9,506 953.9,507.6 954.2,509.2 954.3,510.8 954.3,512.4 954.1,514 954.3,515.6 954.3,517.2 954.2,518.8 954.1,520.4 954,522 954.3,523.6 954.1,525.2 954.1,526.8 954.2,528.4 954.1,530 954.3,531.6 954.2,533.2 954.1,534.8 954,536.4 954,538 954.1,539.6 954.1,541.2 954,542.8 954,544.4 954,546 954,547.6 954,549.2 954,550.8 954.1,552.4 954.2,554 954.3,555.6 954.2,557.2 954.2,558.8 954.2,560.4 954.1,562 954.3,563.6 954.3,565.2 954.2,566.8 954.3,568.4 954.2,570 954.4,571.6 954.5,573.2 954.6,574.8 954.4,576.4 954.4,578 954.4,579.6 954.3,581.2 954.5,582.8 954.6,584.4 954.6,586 954.6,587.6 954.6,589.2 954.6,590.8 954.5,592.4 954.3,594 954.3,595.6 954.2,597.2 954.3,598.8 954.2,600.4 954.4,602 954.4,603.6 954.3,605.2 954.6,606.8 954.7,608.4 954.6,610 954.6,611.6 954.5,613.2 954.5,614.8 954.7,616.4 954.8,618 954.7,619.6 954.6,621.2 954.8,622.8 954.7,624.4 954.6,626 954.7,627.6 954.7,629.2 954.8,630.8 954.7,632.4 954.6,634 954.7,635.6 954.7,637.2 954.9,638.8 954.8,640.4 954.8,642 954.9,643.6 955,645.2 954.8,646.8 955,648.4 955,650 955.1,651.6 954.8,653.2 955,654.8 955.1,656.4 955,658 955.1,659.6 954.8,661.2 954.7,662.8 954.8,664.4 954.6,666 954.7,667.6 954.7,669.2 954.7,670.8 955,672.4 955,674 954.9,675.6 954.8,677.2 954.7,678.8 954.8,680.4 955.1,682 954.8,683.6 954.9,685.2 954.7,686.8 954.8,688.4 954.7,690 954.9,691.6 954.8,693.2 954.9,694.8 955.1,696.4 954.9,698 954.8,699.6 954.8,701.2 954.7,702.8 954.7,704.4 954.8,706 954.7,707.6 955,709.2 954.8,710.8 955.1,712.4 955,714 954.8,715.6 954.8,717.2 954.7,718.8 955,720.4 955.1,722 955.1,723.6 955.2,725.2 955.1,726.8 955.1,728.4 955,730 955.1,731.6 954.9,733.2 955.2,734.8 955.2,736.4 955.2,738 955,739.6 954.9,741.2 954.8,742.8 954.8,744.4 954.7,746 955,747.6 955.1,749.2 955.2,750.8 955.3,752.4 955.1,754 955.1,755.6 955.2,757.2 955,758.8 954.9,760.4 955.1,762 955,763.6 955,765.2 955,766.8 954.9,768.4 955.1,770 955,771.6 955.1,773.2 954.9,774.8 954.8,776.4 954.8,778 955,779.6 955.1,781.2 955,782.8 955,784.4 955,786 955,787.6 955.1,789.2 954.9,790.8" fill="none" stroke="#00ffff" stroke-width="11.6" stroke-linejoin="round" stroke-linecap="round"/>
</g>
<g clip-path="url(#c1)">
<polyline points="960.9,54.8 960.6,56.4 960.4,58 960.1,59.6 960.1,61.2 959.7,62.8 959.7,64.4 959.9,66 959.9,67.6 960.1,69.2 959.8,70.8 959.7,72.4 959.7,74 959.5,75.6 959.4,77.2 959.6,78.8 959.6,80.4 959.7,82 960,83.6 960.2,85.2 960.1,86.8 959.9,88.4 959.7,90 959.9,91.6 959.7,93.2 959.9,94.8 959.6,96.4 959.6,98 959.7,99.6 959.9,101.2 959.9,102.8 960,104.4 959.7,106 959.6,107.6 959.8,109.2 959.8,110.8 959.8,112.4 959.5,114 959.2,115.6 959.3,117.2 959.3,118.8 959.3,120.4 959.5,122 959.7,123.6 959.5,125.2 959.3,126.8 959.2,128.4 959.1,130 959.4,131.6 959.4,133.2 959.7,134.8 959.3,136.4 959.4,138 959.2,139.6 959.5,141.2 959.4,142.8 959.2,144.4 959.4,146 959.6,147.6 959.2,149.2 959.1,150.8 959.5,152.4 959.4,154 959.1,155.6 959.5,157.2 959.6,158.8 959.5,160.4 959.2,162 959,163.6 959.3,165.2 959.4,166.8 959.5,168.4 959.5,170 959.3,171.6 959.2,173.2 959.3,174.8 959.4,176.4 959.3,178 959.2,179.6 959,181.2 959.2,182.8 959.3,184.4 958.9,186 959.1,187.6 959.1,189.2 958.8,190.8 958.6,192.4 958.6,194 958.6,195.6 958.5,197.2 958.7,198.8 958.7,200.4 958.6,202 958.4,203.6 958.1,205.2 957.9,206.8 958.1,208.4 957.9,210 958,211.6 957.9,213.2 957.7,214.8 957.8,216.4 957.6,218 957.5,219.6 957.8,221.2 957.7,222.8 957.6,224.4 957.7,226 957.5,227.6 957.6,229.2 957.4,230.8 957.5,232.4 957.6,234 957.3,235.6 957.3,237.2 957.5,238.8 957.4,240.4 957.3,242 957.1,243.6 957,245.2 957.3,246.8 957.4,248.4 957.3,250 957.3,251.6 957,253.2 957.2,254.8 957.2,256.4 957.2,258 957.3,259.6 957,261.2 957,262.8 957,264.4 956.8,266 956.7,267.6 956.8,269.2 956.7,270.8 956.6,272.4 956.6,274 956.6,275.6 956.6,277.2 956.5,278.8 956.8,280.4 956.5,282 956.7,283.6 956.7,285.2 956.6,286.8 956.5,288.4 956.6,290 956.6,291.6 956.4,293.2 956.6,294.8 956.5,296.4 956.3,298 956.5,299.6 956.3,301.2 956.2,302.8 956.4,304.4 956.4,306 956.3,307.6 956.3,309.2 956.3,310.8 956.2,312.4 956,314 956.2,315.6 956.1,317.2 956,318.8 956,320.4 956,322 955.8,323.6 955.9,325.2 955.9,326.8 955.8,328.4 955.9,330 955.8,331.6 955.9,333.2 955.9,334.8 955.8,336.4 956,338 956.1,339.6 955.9,341.2 955.7,342.8 955.9,344.4 955.9,346 955.8,347.6 955.8,349.2 955.7,350.8 955.7,352.4 955.6,354 955.7,355.6 956,357.2 955.7,358.8 955.5,360.4 955.5,362 955.7,363.6 955.7,365.2 955.8,366.8 955.9,368.4 956,370 955.9,371.6 956,373.2 956.1,374.8 955.8,376.4 955.7,378 955.9,379.6 955.9,381.2 955.7,382.8 955.8,384.4 955.6,386 955.8,387.6 955.5,389.2 955.3,390.8 955.5,392.4 955.5,394 955.6,395.6 955.7,397.2 955.7,398.8 955.6,400.4 955.4,402 955.4,403.6 955.2,405.2 955.4,406.8 955.5,408.4 955.2,410 955.2,411.6 955.3,413.2 955.5,414.8 955.3,416.4 955.2,418 955.1,419.6 954.9,421.2 954.8,422.8 955.1,424.4 955.2,426 955.3,427.6 955.2,429.2 954.9,430.8 954.9,432.4 955.1,434 955,435.6 955.1,437.2 954.8,438.8 954.7,440.4 954.8,442 954.8,443.6 954.7,445.2 954.8,446.8 954.9,448.4 955,450 954.8,451.6 954.6,453.2 954.6,454.8 954.8,456.4 954.6,458 954.5,459.6 954.4,461.2 954.4,462.8 954.3,464.4 954.5,466 954.3,467.6 954.5,469.2 954.7,470.8 954.7,472.4 954.7,474 954.6,475.6 954.7,477.2 954.6,478.8 954.5,480.4 954.2,482 954.3,483.6 954.5,485.2 954.2,486.8 954.2,488.4 954.4,490 954.3,491.6 954.4,493.2 954.4,494.8 954.3,496.4 954.4,498 954.3,499.6 954.4,501.2 954.4,502.8 954.5,504.4 954.5,506 954.5,507.6 954.2,509.2 954.3,510.8 954.1,512.4 954.1,514 954.3,515.6 954.2,517.2 954.1,518.8 954.3,520.4 954.5,522 954.2,523.6 954.1,525.2 954.2,526.8 954.4,528.4 954.2,530 954.3,531.6 954.1,533.2 954.1,534.8 954,536.4 954.1,538 954.2,539.6 954.4,541.2 954.4,542.8 954.4,544.4 954.3,546 954.2,547.6 954.3,549.2 954.4,550.8 954.4,552.4 954.3,554 954.4,555.6 954.2,557.2 954.1,558.8 954.2,560.4 954.2,562 954.2,563.6 954.5,565.2 954.5,566.8 954.4,568.4 954.4,570 954.3,571.6 954.4,573.2 954.5,574.8 954.4,576.4 954.4,578 954.4,579.6 954.5,581.2 954.3,582.8 954.3,584.4 954.2,586 954.4,587.6 954.4,589.2 954.5,590.8 954.3,592.4 954.3,594 954.4,595.6 954.5,597.2 954.5,598.8 954.5,600.4 954.7,602 954.5,603.6 954.6,605.2 954.7,606.8 954.8,608.4 954.6,610 954.6,611.6 954.6,613.2 954.4,614.8 954.6,616.4 954.8,618 954.8,619.6 954.9,621.2 954.7,622.8 954.8,624.4 954.7,626 954.7,627.6 954.5,629.2 954.8,630.8 954.9,632.4 954.9,634 954.8,635.6 955,637.2 955.1,638.8 955.2,640.4 954.9,642 954.8,643.6 954.7,645.2 954.7,646.8 954.8,648.4 954.7,650 954.6,651.6 954.8,653.2 954.7,654.8 954.9,656.4 954.9,658 954.9,659.6 955.1,661.2 955.1,662.8 954.9,664.4 954.8,666 954.9,667.6 954.9,669.2 955.1,670.8 955,672.4 955.1,674 955.1,675.6 955.1,677.2 954.9,678.8 954.9,680.4 954.9,682 954.9,683.6 954.9,685.2 955,686.8 955.1,688.4 955,690 954.9,691.6 955,693.2 955.1,694.8 955.1,696.4 955,698 954.9,699.6 955.2,701.2 954.9,702.8 955.1,704.4 954.9,706 955.1,707.6 955,709.2 955.2,710.8 955,712.4 955,714 954.9,715.6 955.1,717.2 955.2,718.8 955.3,720.4 955.1,722 955,723.6 955,725.2 955.1,726.8 954.9,728.4 954.9,730 955.1,731.6 955.1,733.2 955.2,734.8 955.3,736.4 955.3,738 955.3,739.6 955.4,741.2 955.4,742.8 955.3,744.4 955.2,746 955.2,747.6 955.1,749.2 954.9,750.8 954.9,752.4 954.8,754 955.1,755.6 955,757.2 955,758.8 955.2,760.4 955.1,762 955,763.6 955,765.2 955,766.8 955.1,768.4 955.1,770 955.2,771.6 955,773.2 955,774.8 955.2,776.4 955.1,778 955.1,779.6 955.1,781.2 955.1,782.8 955.3,784.4 955.2,786 955.2,787.6 955.1,789.2 955,790.8" fill="none" stroke="#00ffff" stroke-width="11.6" stroke-linejoin="round" stroke-linecap="round"/>
</g>
<g clip-path="url(#c1)">
<polyline points="960.6,54.8 960.4,56.4 960.2,58 960.2,59.6 960.1,61.2 960,62.8 959.9,64.4 959.6,66 959.8,67.6 959.7,69.2 959.7,70.8 959.4,72.4 959.4,74 959.7,75.6 959.4,77.2 959.2,78.8 959.3,80.4 959.3,82 959.4,83.6 959.4,85.2 959.3,86.8 959.1,88.4 959.2,90 959.2,91.6 959.3,93.2 959.4,94.8 959.6,96.4 959.5,98 959.4,99.6 959.5,101.2 959.7,102.8 959.7,104.4 959.3,106 959.2,107.6 959.5,109.2 959.7,110.8 959.4,112.4 959.2,114 959,115.6 958.9,117.2 958.9,118.8 959.3,120.4 959.6,122 959.4,123.6 959.1,125.2 959.4,126.8 959.4,128.4 959.6,130 959.3,131.6 959.5,133.2 959.6,134.8 959.5,136.4 959.5,138 959.5,139.6 959.3,141.2 959.5,142.8 959.2,144.4 959.1,146 959.1,147.6 959.1,149.2 959.3,150.8 959,152.4 959.1,154 959.1,155.6 959,157.2 959.2,158.8 959.3,160.4 959.3,162 959.2,163.6 959.1,165.2 959.4,166.8 959.4,168.4 959.4,170 959,171.6 959,173.2 959.1,174.8 958.9,176.4 958.9,178 958.9,179.6 958.7,181.2 958.9,182.8 959,184.4 958.8,186 958.5,187.6 958.4,189.2 958.6,190.8 958.4,192.4 958.5,194 958.6,195.6 958.3,197.2 958.4,198.8 958.4,200.4 958.3,202 958.3,203.6 958.1,205.2 957.9,206.8 958.1,208.4 957.9,210 958,211.6 958.1,213.2 957.9,214.8 957.8,216.4 957.6,218 957.5,219.6 957.7,221.2 957.4,222.8 957.3,224.4 957.6,226 957.5,227.6 957.5,229.2 957.5,230.8 957.5,232.4 957.6,234 957.6,235.6 957.4,237.2 957.3,238.8 957.5,240.4 957.5,242 957.3,243.6 957.2,245.2 957.1,246.8 957.2,248.4 957.1,250 956.9,251.6 956.8,253.2 956.7,254.8 957,256.4 956.8,258 956.7,259.6 956.9,261.2 957,262.8 957.1,264.4 957.2,266 957.2,267.6 957.1,269.2 957.1,270.8 956.9,272.4 957,274 956.6,275.6 956.5,277.2 956.7,278.8 956.6,280.4 956.6,282 956.6,283.6 956.5,285.2 956.3,286.8 956.5,288.4 956.3,290 956.5,291.6 956.4,293.2 956.4,294.8 956.5,296.4 956.3,298 956.4,299.6 956.2,301.2 956.3,302.8 956.2,304.4 956.3,306 956.2,307.6 956.3,309.2 956.4,310.8 956.2,312.4 956.1,314 956.3,315.6 956.2,317.2 955.9,318.8 955.9,320.4 955.9,322 955.9,323.6 956,325.2 956.1,326.8 955.9,328.4 955.7,330 955.7,331.6 956,333.2 955.8,334.8 956,336.4 956.1,338 955.9,339.6 956.1,341.2 956.2,342.8 956.2,344.4 956.3,346 956.1,347.6 955.7,349.2 956,350.8 955.7,352.4 955.5,354 955.6,355.6 955.6,357.2 955.7,358.8 955.5,360.4 955.5,362 955.7,363.6 955.5,365.2 955.5,366.8 955.7,368.4 955.7,370 955.8,371.6 956,373.2 955.6,374.8 955.4,376.4 955.7,378 955.6,379.6 955.6,381.2 955.3,382.8 955.6,384.4 955.6,386 955.5,387.6 955.6,389.2 955.6,390.8 955.3,392.4 955.5,394 955.6,395.6 955.6,397.2 955.6,398.8 955.7,400.4 955.4,402 955.5,403.6 955.3,405.2 955.4,406.8 955.4,408.4 955.4,410 955.3,411.6 955.1,413.2 955,414.8 954.9,416.4 954.9,418 954.9,419.6 955.1,421.2 955,422.8 954.9,424.4 955,426 955,427.6 954.9,429.2 955.1,430.8 955.1,432.4 955,434 954.8,435.6 954.8,437.2 954.7,438.8 954.8,440.4 954.9,442 954.8,443.6 954.6,445.2 954.7,446.8 954.8,448.4 954.6,450 954.7,451.6 954.9,453.2 954.9,454.8 954.7,456.4 954.4,458 954.6,459.6 954.5,461.2 954.7,462.8 954.5,464.4 954.6,466 954.7,467.6 954.6,469.2 954.6,470.8 954.4,472.4 954.5,474 954.6,475.6 954.6,477.2 954.6,478.8 954.3,480.4 954.3,482 954.1,483.6 954.3,485.2 954.3,486.8 954.4,488.4 954.2,490 954.4,491.6 954.5,493.2 954.4,494.8 954.5,496.4 954.5,498 954.3,499.6 954.3,501.2 954.4,502.8 954.2,504.4 954.1,506 954.2,507.6 954.2,509.2 954.2,510.8 954,512.4 954,514 954.2,515.6 954.3,517.2 954.3,518.8 954.3,520.4 954.4,522 954.2,523.6 954.4,525.2 954.1,526.8 954.1,528.4 954.3,530 954.1,531.6 954.1,533.2 954.2,534.8 954.4,536.4 954.5,538 954.6,539.6 954.5,541.2 954.5,542.8 954.4,544.4 954.4,546 954.4,547.6 954.3,549.2 954.3,550.8 954.1,552.4 954.2,554 954.3,555.6 954.4,557.2 954.2,558.8 954.4,560.4 954.2,562 954.3,563.6 954.4,565.2 954.5,566.8 954.4,568.4 954.4,570 954.4,571.6 954.3,573.2 954.4,574.8 954.4,576.4 954.4,578 954.5,579.6 954.4,581.2 954.6,582.8 954.6,584.4 954.6,586 954.5,587.6 954.4,589.2 954.3,590.8 954.5,592.4 954.6,594 954.7,595.6 954.7,597.2 954.5,598.8 954.4,600.4 954.5,602 954.5,603.6 954.4,605.2 954.4,606.8 954.6,608.4 954.5,610 954.7,611.6 954.7,613.2 954.5,614.8 954.6,616.4 954.5,618 954.6,619.6 954.5,621.2 954.5,622.8 954.5,624.4 954.5,626 954.7,627.6 954.9,629.2 954.8,630.8 954.9,632.4 955,634 954.9,635.6 955,637.2 955.1,638.8 955,640.4 954.9,642 954.9,643.6 954.9,645.2 954.8,646.8 954.9,648.4 954.8,650 954.8,651.6 954.8,653.2 954.8,654.8 955,656.4 955,658 954.9,659.6 954.8,661.2 954.9,662.8 954.8,664.4 954.9,666 954.8,667.6 954.9,669.2 954.9,670.8 954.8,672.4 955,674 954.9,675.6 955,677.2 954.9,678.8 955,680.4 955,682 955.1,683.6 955.1,685.2 954.9,686.8 955,688.4 955.1,690 955.1,691.6 955.1,693.2 954.9,694.8 955.1,696.4 955,698 955,699.6 955.1,701.2 954.9,702.8 954.9,704.4 955,706 954.9,707.6 954.9,709.2 955.1,710.8 955,712.4 955.1,714 954.9,715.6 955,717.2 955,718.8 955.2,720.4 955,722 955.2,723.6 955.1,725.2 955.1,726.8 955,728.4 955,730 954.9,731.6 954.9,733.2 954.8,734.8 955,736.4 954.9,738 955.1,739.6 955,741.2 955,742.8 955.1,744.4 955,746 955,747.6 955,749.2 955,750.8 955.1,752.4 955.1,754 955.2,755.6 955,757.2 955,758.8 955.2,760.4 955,762 955.1,763.6 955.2,765.2 955,766.8 955.2,768.4 955.3,770 955.1,771.6 955,773.2 954.9,774.8 955,776.4 954.9,778 955.1,779.6 955.1,781.2 955,782.8 955.2,784.4 955.1,786 955.2,787.6 955.1,789.2 954.9,790.8" fill="none" stroke="#00ffff" stroke-width="11.6" stroke-linejoin="round" stroke-linecap="round"/>
</g>
<g clip-path="url(#c1)" fill="#00ffff">
</g>
<g clip-path="url(#c1)">
<polyline points="613.3,21.8 941.2,23 941.2,42 958.6,46.5 960.7,54.8" fill="none" stroke="#0000ff" stroke-width="2.5" stroke-linejoin="round"/>
<g fill="#0000ff">
<circle cx="613.3" cy="21.8" r="5.85"/>
<circle cx="958.6" cy="46.5" r="5.85"/>
<circle cx="960.7" cy="54.8" r="5.85"/>
</g></g>
<g clip-path="url(#c1)">
<polyline points="941.2,23 941.1,25 940.9,27 941.3,29 940.9,31 941,33 941.4,35 941,37 941.1,39 941.2,41" fill="none" stroke="#0000ff" stroke-width="11.6" stroke-linejoin="round" stroke-linecap="round"/>
</g>
<g clip-path="url(#c1)">
<polyline points="960.8,54.8 960.4,56.4 960.3,58 959.6,59.6 960,61.2 960.3,62.8 960.2,64.4 959.4,66 959.5,67.6 959.2,69.2 958.9,70.8 959.9,72.4 960.5,74 959.4,75.6 960,77.2 959.9,78.8 959.5,80.4 959.2,82 959.5,83.6 959.4,85.2 959.7,86.8 959.8,88.4 959.1,90 959.6,91.6 960.3,93.2 960.6,94.8 960.3,96.4 959.2,98 958.4,99.6 958.2,101.2 959.3,102.8 959,104.4 958.9,106 959.7,107.6 959.2,109.2 959.3,110.8 959.2,112.4 958.5,114 958.9,115.6 959.6,117.2 958.9,118.8 958.6,120.4 958.7,122 958.2,123.6 958.6,125.2 959.3,126.8 959.5,128.4 959.4,130 959.9,131.6 959,133.2 959.2,134.8 959,136.4 959.2,138 958.6,139.6 959.2,141.2 958.5,142.8 958.2,144.4 959.1,146 959.8,147.6 959.4,149.2 959.1,150.8 958.7,152.4 958.5,154 958.9,155.6 958.5,157.2 958.1,158.8 958.4,160.4 958.1,162 958.7,163.6 959.4,165.2 959.7,166.8 959.4,168.4 959,170 958.9,171.6 958.1,173.2 958.8,174.8 958.6,176.4 958.4,178 957.9,179.6 958.2,181.2 958.5,182.8 958.4,184.4 959.1,186 959.1,187.6 958.5,189.2 958.5,190.8 959.1,192.4 958.8,194 958.8,195.6 957.9,197.2 958,198.8 958,200.4 957.9,202 957.8,203.6 958,205.2 958.1,206.8 958,208.4 957.4,210 957.5,211.6 958.3,213.2 957.9,214.8 957.1,216.4 956.5,218 957,219.6 956.5,221.2 956.2,222.8 956.1,224.4 956.6,226 957.7,227.6 957.6,229.2 957.4,230.8 957.3,232.4 957.3,234 957.2,235.6 957.6,237.2 958.1,238.8 958,240.4 957.6,242 957.6,243.6 958.1,245.2 957.1,246.8 956.7,248.4 957,250 957.3,251.6 957.4,253.2 957.4,254.8 957.7,256.4 957.4,258 957.6,259.6 958.1,261.2 957.5,262.8 957.8,264.4 957.7,266 957.9,267.6 956.7,269.2 957.4,270.8 957.5,272.4 957.9,274 958.1,275.6 957.2,277.2 957.2,278.8 956.3,280.4 956.5,282 957.2,283.6 956.4,285.2 956.1,286.8 955.6,288.4 955.4,290 955.3,291.6 955,293.2 956.3,294.8 956.9,296.4 956.6,298 956.8,299.6 956.9,301.2 956.6,302.8 956.3,304.4 956.5,306 956.4,307.6 955.9,309.2 955.8,310.8 956.1,312.4 956.3,314 955.7,315.6 956,317.2 956.6,318.8 957,320.4 956.8,322 955.8,323.6 955.7,325.2 955.2,326.8 954.8,328.4 954.8,330 955.2,331.6 955.9,333.2 956.1,334.8 955.6,336.4 956,338 956,339.6 955.9,341.2 955.5,342.8 955.5,344.4 955.4,346 955.9,347.6 955.8,349.2 955.7,350.8 955.7,352.4 955.7,354 956,355.6 956.2,357.2 956.5,358.8 956,360.4 956.3,362 956.8,363.6 957.1,365.2 956.9,366.8 955.6,368.4 956.2,370 956.5,371.6 955.3,373.2 955.1,374.8 955,376.4 955.6,378 955.7,379.6 955.3,381.2 954.8,382.8 954.5,384.4 954.2,386 955.2,387.6 955.9,389.2 955.3,390.8 955.7,392.4 956.2,394 955.4,395.6 955.4,397.2 955.3,398.8 956,400.4 956.3,402 955.1,403.6 954.6,405.2 955.4,406.8 955.4,408.4 955.3,410 955.7,411.6 955.9,413.2 956.3,414.8 955.5,416.4 954.6,418 955.1,419.6 954.3,421.2 954.7,422.8 955.4,424.4 955,426 955.1,427.6 954.5,429.2 954.1,430.8 954.6,432.4 955.3,434 955.9,435.6 954.7,437.2 955.4,438.8 955.2,440.4 954.8,442 954.6,443.6 954.8,445.2 954.5,446.8 954,448.4 954.8,450 955.1,451.6 955.1,453.2 955.2,454.8 955.8,456.4 954.8,458 955.2,459.6 955.4,461.2 954.8,462.8 954.8,464.4 954.6,466 954,467.6 954.1,469.2 953.7,470.8 954.6,472.4 954,474 954.4,475.6 954.5,477.2 955.2,478.8 955.3,480.4 954.7,482 954.3,483.6 953.6,485.2 953.1,486.8 953.2,488.4 954.3,490 953.6,491.6 953.3,493.2 953.9,494.8 953.8,496.4 953.5,498 954.5,499.6 953.6,501.2 954,502.8 954,504.4 953.8,506 953.5,507.6 953.3,509.2 953.5,510.8 954.2,512.4 954.2,514 954.6,515.6 955.1,517.2 954.2,518.8 954.8,520.4 954.7,522 954.4,523.6 954.4,525.2 954.9,526.8 954.5,528.4 953.7,530 954.7,531.6 953.9,533.2 953.4,534.8 954.1,536.4 953.9,538 953.7,539.6 954.2,541.2 954.8,542.8 954.4,544.4 955,546 954.9,547.6 954.8,549.2 954.7,550.8 953.7,552.4 953.4,554 954,555.6 954.4,557.2 953.7,558.8 954.2,560.4 954.2,562 954.4,563.6 954.2,565.2 953.8,566.8 953.8,568.4 954.7,570 954.1,571.6 954.8,573.2 954.6,574.8 953.9,576.4 954.6,578 953.7,579.6 954.5,581.2 954.2,582.8 955,584.4 955.1,586 954.6,587.6 954.8,589.2 955.4,590.8 954.5,592.4 954,594 953.9,595.6 954.6,597.2 954.2,598.8 953.9,600.4 954.4,602 954.6,603.6 954.4,605.2 954.6,606.8 953.8,608.4 953.3,610 953.1,611.6 953,613.2 954.1,614.8 955.1,616.4 954.3,618 954.3,619.6 953.7,621.2 954,622.8 954.5,624.4 954.8,626 955.4,627.6 955.2,629.2 954.3,630.8 954.3,632.4 954.4,634 954.3,635.6 953.8,637.2 954.4,638.8 954.5,640.4 955,642 954.7,643.6 954.1,645.2 954,646.8 953.8,648.4 954.2,650 953.9,651.6 953.6,653.2 954.1,654.8 953.9,656.4 953.6,658 953.5,659.6 954.4,661.2 955.1,662.8 955.5,664.4 955.4,666 955.4,667.6 955.6,669.2 955.2,670.8 955.1,672.4 955.4,674 955.4,675.6 955.4,677.2 955.4,678.8 955.3,680.4 954.7,682 954.5,683.6 955,685.2 954.8,686.8 955.5,688.4 955.1,690 955.3,691.6 954.6,693.2 954.4,694.8 955.2,696.4 954.6,698 955,699.6 954.2,701.2 954.7,702.8 954.8,704.4 955.5,706 955.8,707.6 956,709.2 955.3,710.8 955.5,712.4 954.8,714 954.9,715.6 954.8,717.2 954.8,718.8 954.6,720.4 954.3,722 954.7,723.6 955.1,725.2 955.2,726.8 955.9,728.4 955.7,730 954.9,731.6 955.2,733.2 954.9,734.8 955.7,736.4 954.8,738 954.9,739.6 955.2,741.2 955.9,742.8 955.6,744.4 955.2,746 955.6,747.6 955.9,749.2 956.2,750.8 956.1,752.4 955.1,754 955.9,755.6 956.3,757.2 955.7,758.8 955.7,760.4 956,762 956.3,763.6 956.2,765.2 955.1,766.8 954.4,768.4 954.5,770 954.7,771.6 954.5,773.2 955.2,774.8 955.6,776.4 955.2,778 955.5,779.6 954.8,781.2 955.7,782.8 955,784.4 954.5,786 954.6,787.6 955.4,789.2 955.4,790.8" fill="none" stroke="#0000ff" stroke-width="11.6" stroke-linejoin="round" stroke-linecap="round"/>
</g>
<g clip-path="url(#c1)">
<polyline points="915.5,19.1 915.5,20.7 915.5,22.3 915.5,23.8 915.5,25.4 915.5,27 915.5,28.6 915.5,30.9 915.5,34.9 916.3,38.8 918.8,42.7 922.3,46.7 925.5,50.6 928.7,54.6 931.5,58.5 936.2,66.4 939.3,74.3 941.5,82.1 943.3,90 945.1,97.9 949.5,117.6 952.1,137.3 954.7,176.7 956.1,216.1 957.4,255.5 957.4,294.9 957.4,334.3 956.7,413.1 956.3,491.9 955.7,570.7 955.2,649.5 955.2,728.3 955.2,807.1" fill="none" stroke="#008000" stroke-width="2.5" stroke-linejoin="round" stroke-linecap="butt"/>
<g fill="#008000">
<circle cx="915.5" cy="19.1" r="5.85"/>
<circle cx="915.5" cy="20.7" r="5.85"/>
<circle cx="915.5" cy="22.3" r="5.85"/>
<circle cx="915.5" cy="23.8" r="5.85"/>
<circle cx="915.5" cy="25.4" r="5.85"/>
<circle cx="915.5" cy="27" r="5.85"/>
<circle cx="915.5" cy="28.6" r="5.85"/>
<circle cx="915.5" cy="30.9" r="5.85"/>
<circle cx="915.5" cy="34.9" r="5.85"/>
<circle cx="916.3" cy="38.8" r="5.85"/>
<circle cx="918.8" cy="42.7" r="5.85"/>
<circle cx="922.3" cy="46.7" r="5.85"/>
<circle cx="925.5" cy="50.6" r="5.85"/>
<circle cx="928.7" cy="54.6" r="5.85"/>
<circle cx="931.5" cy="58.5" r="5.85"/>
<circle cx="936.2" cy="66.4" r="5.85"/>
<circle cx="939.3" cy="74.3" r="5.85"/>
<circle cx="941.5" cy="82.1" r="5.85"/>
<circle cx="943.3" cy="90" r="5.85"/>
<circle cx="945.1" cy="97.9" r="5.85"/>
<circle cx="949.5" cy="117.6" r="5.85"/>
<circle cx="952.1" cy="137.3" r="5.85"/>
<circle cx="954.7" cy="176.7" r="5.85"/>
<circle cx="956.1" cy="216.1" r="5.85"/>
<circle cx="957.4" cy="255.5" r="5.85"/>
<circle cx="957.4" cy="294.9" r="5.85"/>
<circle cx="957.4" cy="334.3" r="5.85"/>
<circle cx="956.7" cy="413.1" r="5.85"/>
<circle cx="956.3" cy="491.9" r="5.85"/>
<circle cx="955.7" cy="570.7" r="5.85"/>
<circle cx="955.2" cy="649.5" r="5.85"/>
<circle cx="955.2" cy="728.3" r="5.85"/>
<circle cx="955.2" cy="807.1" r="5.85"/>
</g>
</g>
<g clip-path="url(#c1)">
<polyline points="942.7,19.5 942.7,20.3 942.7,21.2 942.7,22.1 942.7,23.1 942.7,24.2 942.7,25.3 942.7,26.6 942.7,28.1 942.7,29.7 942.7,31.6 942.7,33.7 942.7,36.1 943.2,39 944.5,42.3 947.5,46.2 952.2,50.9 957.2,56.4 960.7,63 961.5,71 961.5,80.4 962.1,91.9 961.5,105.6 961.5,122.1 961,141.9 960.4,165.8 960.4,194.4 960,228.7 959.3,269.8 959.3,318.7 959.3,376.8 959.3,445.5 958.2,526.2 957.8,620.6 958.2,730.1" fill="none" stroke="#ff00ff" stroke-width="2.5" stroke-linejoin="round" stroke-linecap="butt"/>
<g fill="#ff00ff">
<circle cx="942.7" cy="19.5" r="5.85"/>
<circle cx="942.7" cy="20.3" r="5.85"/>
<circle cx="942.7" cy="21.2" r="5.85"/>
<circle cx="942.7" cy="22.1" r="5.85"/>
<circle cx="942.7" cy="23.1" r="5.85"/>
<circle cx="942.7" cy="24.2" r="5.85"/>
<circle cx="942.7" cy="25.3" r="5.85"/>
<circle cx="942.7" cy="26.6" r="5.85"/>
<circle cx="942.7" cy="28.1" r="5.85"/>
<circle cx="942.7" cy="29.7" r="5.85"/>
<circle cx="942.7" cy="31.6" r="5.85"/>
<circle cx="942.7" cy="33.7" r="5.85"/>
<circle cx="942.7" cy="36.1" r="5.85"/>
<circle cx="943.2" cy="39" r="5.85"/>
<circle cx="944.5" cy="42.3" r="5.85"/>
<circle cx="947.5" cy="46.2" r="5.85"/>
<circle cx="952.2" cy="50.9" r="5.85"/>
<circle cx="957.2" cy="56.4" r="5.85"/>
<circle cx="960.7" cy="63" r="5.85"/>
<circle cx="961.5" cy="71" r="5.85"/>
<circle cx="961.5" cy="80.4" r="5.85"/>
<circle cx="962.1" cy="91.9" r="5.85"/>
<circle cx="961.5" cy="105.6" r="5.85"/>
<circle cx="961.5" cy="122.1" r="5.85"/>
<circle cx="961" cy="141.9" r="5.85"/>
<circle cx="960.4" cy="165.8" r="5.85"/>
<circle cx="960.4" cy="194.4" r="5.85"/>
<circle cx="960" cy="228.7" r="5.85"/>
<circle cx="959.3" cy="269.8" r="5.85"/>
<circle cx="959.3" cy="318.7" r="5.85"/>
<circle cx="959.3" cy="376.8" r="5.85"/>
<circle cx="959.3" cy="445.5" r="5.85"/>
<circle cx="958.2" cy="526.2" r="5.85"/>
<circle cx="957.8" cy="620.6" r="5.85"/>
<circle cx="958.2" cy="730.1" r="5.85"/>
</g>
</g>
<g clip-path="url(#c2)">
<polyline points="1250.3,53 1250.7,54.6 1251.5,56.2 1252.1,57.8 1252.7,59.4 1253.1,61 1253.6,62.6 1254.3,64.2 1254.8,65.8 1255.1,67.4 1255.4,69 1255.6,70.6 1256.3,72.2 1256.4,73.8 1257.1,75.4 1257.7,77 1258.2,78.6 1258.4,80.2 1258.8,81.8 1258.8,83.4 1259.3,85 1259.4,86.6 1259.9,88.2 1259.9,89.8 1260.2,91.4 1260.8,93 1260.9,94.6 1261,96.2 1261.4,97.8 1261.5,99.4 1261.8,101 1262.5,102.6 1263.3,104.2 1264,105.8 1264.4,107.4 1264.6,109 1265.1,110.6 1265.6,112.2 1266.1,113.8 1266.3,115.4 1266.9,117 1267.1,118.6 1267.5,120.2 1267.9,121.8 1268.4,123.4 1268.9,125 1269.4,126.6 1270.2,128.2 1270.6,129.8 1271,131.4 1271.8,133 1272.3,134.6 1272.4,136.2 1272.9,137.8 1273.5,139.4 1273.9,141 1274.7,142.6 1275.2,144.2 1275.8,145.8 1276.2,147.4 1276.4,149 1276.6,150.6 1277.2,152.2 1277.6,153.8 1278.2,155.4 1278.9,157 1279.4,158.6 1280,160.2 1280.2,161.8 1281,163.4 1281.7,165 1281.9,166.6 1282.4,168.2 1282.9,169.8 1283.4,171.4 1283.7,173 1284.1,174.6 1284.6,176.2 1285,177.8 1285.7,179.4 1286.3,181 1286.7,182.6 1286.9,184.2 1287.2,185.8 1287.8,187.4 1288.6,189 1289,190.6 1289.6,192.2 1289.9,193.8 1290.5,195.4 1291.1,197 1291.7,198.6 1292.1,200.2 1292.3,201.8 1292.7,203.4 1293.1,205 1293.4,206.6 1293.9,208.2 1294.7,209.8 1295.1,211.4 1295.6,213 1295.9,214.6 1296.3,216.2 1296.6,217.8 1297.1,219.4 1297.8,221 1298.3,222.6 1298.6,224.2 1299,225.8 1299.4,227.4 1299.9,229 1300.4,230.6 1301,232.2 1301.2,233.8 1301.8,235.4 1302.2,237 1302.7,238.6 1303.3,240.2 1303.6,241.8 1304,243.4 1304.7,245 1305.1,246.6 1305.5,248.2 1305.8,249.8 1306.3,251.4 1306.8,253 1307.2,254.6 1307.5,256.2 1308,257.8 1308.3,259.4 1308.8,261 1309.4,262.6 1310,264.2 1310.3,265.8 1310.7,267.4 1311.3,269 1311.8,270.6 1312.1,272.2 1312.8,273.8 1312.9,275.4 1313.6,277 1313.8,278.6 1314.3,280.2 1314.7,281.8 1315.3,283.4 1315.6,285 1316.1,286.6 1316.4,288.2 1316.8,289.8 1317.3,291.4 1317.9,293 1318.3,294.6 1319,296.2 1319.2,297.8 1319.8,299.4 1320,301 1320.6,302.6 1321.1,304.2 1321.7,305.8 1322,307.4 1322.4,309 1322.7,310.6 1323.4,312.2 1324,313.8 1324.3,315.4 1324.8,317 1325.2,318.6 1325.5,320.2 1326.2,321.8 1326.6,323.4 1326.9,325 1327.5,326.6 1328,328.2 1328.5,329.8 1329.1,331.4 1329.2,333 1329.6,334.6 1329.9,336.2 1330.3,337.8 1330.9,339.4 1331.5,341 1332,342.6 1332.3,344.2 1332.7,345.8 1333.2,347.4 1333.7,349 1334,350.6 1334.1,352.2 1334.7,353.8 1335.2,355.4 1335.7,357 1336.1,358.6 1336.7,360.2 1337.1,361.8 1337.4,363.4 1337.6,365 1337.9,366.6 1338.6,368.2 1338.9,369.8 1339.2,371.4 1339.7,373 1340,374.6 1340.6,376.2 1340.9,377.8 1341.2,379.4 1341.6,381 1342.2,382.6 1342.9,384.2 1343,385.8 1343.7,387.4 1343.9,389 1344.4,390.6 1345,392.2 1345.3,393.8 1345.6,395.4 1346.3,397 1346.9,398.6 1347.1,400.2 1347.4,401.8 1347.8,403.4 1348.1,405 1348.7,406.6 1349.4,408.2 1349.8,409.8 1350.3,411.4 1350.7,413 1350.8,414.6 1351.4,416.2 1351.8,417.8 1352.1,419.4 1352.4,421 1352.9,422.6 1353.2,424.2 1353.8,425.8 1354.5,427.4 1354.6,429 1354.9,430.6 1355.2,432.2 1355.8,433.8 1356.3,435.4 1356.8,437 1357.4,438.6 1357.6,440.2 1358.2,441.8 1358.7,443.4 1358.9,445 1359.4,446.6 1359.9,448.2 1360.2,449.8 1360.6,451.4 1360.9,453 1361.6,454.6 1361.7,456.2 1362.2,457.8 1362.7,459.4 1363.3,461 1363.5,462.6 1364,464.2 1364.5,465.8 1364.7,467.4 1365.1,469 1365.3,470.6 1365.8,472.2 1366.5,473.8 1366.9,475.4 1367.2,477 1367.8,478.6 1368.4,480.2 1368.5,481.8 1369,483.4 1369.5,485 1370,486.6 1370.1,488.2 1370.7,489.8 1371,491.4 1371.4,493 1371.8,494.6 1372.3,496.2 1372.7,497.8 1373,499.4 1373.4,501 1374,502.6 1374.5,504.2 1375,505.8 1375.5,507.4 1376,509 1376.2,510.6 1376.8,512.2 1377.3,513.8 1377.7,515.4 1378.1,517 1378.3,518.6 1378.7,520.2 1379.4,521.8 1379.6,523.4 1380.2,525 1380.7,526.6 1381.1,528.2 1381.4,529.8 1382,531.4 1382.3,533 1382.6,534.6 1383,536.2 1383.6,537.8 1384,539.4 1384.4,541 1384.8,542.6 1385.1,544.2 1385.8,545.8 1386.3,547.4 1386.8,549 1387.3,550.6 1387.7,552.2 1388,553.8 1388.5,555.4 1389,557 1389.4,558.6 1389.7,560.2 1390.1,561.8 1390.4,563.4 1390.8,565 1391.3,566.6 1391.8,568.2 1392.2,569.8 1392.8,571.4 1393.3,573 1393.7,574.6 1393.9,576.2 1394.3,577.8 1394.8,579.4 1395.1,581 1395.4,582.6 1395.9,584.2 1396.6,585.8 1396.9,587.4 1397.4,589 1397.7,590.6 1398.3,592.2 1398.6,593.8 1399.2,595.4 1399.5,597 1399.8,598.6 1400.4,600.2 1400.9,601.8 1401.3,603.4 1401.9,605 1402.4,606.6 1402.6,608.2 1403.1,609.8 1403.6,611.4 1403.8,613 1404.2,614.6 1404.9,616.2 1405.2,617.8 1405.6,619.4 1406,621 1406.5,622.6 1406.9,624.2 1407.3,625.8 1407.8,627.4 1408.1,629 1408.7,630.6 1409,632.2 1409.2,633.8 1409.9,635.4 1410.4,637 1410.6,638.6 1411.2,640.2 1411.7,641.8 1411.9,643.4 1412.3,645 1412.7,646.6 1413.1,648.2 1413.7,649.8 1414.2,651.4 1414.6,653 1415,654.6 1415.5,656.2 1415.8,657.8 1416.3,659.4 1416.6,661 1417,662.6 1417.7,664.2 1418.2,665.8 1418.4,667.4 1418.8,669 1419.2,670.6 1419.9,672.2 1420.4,673.8 1420.9,675.4 1421.3,677 1421.6,678.6 1421.8,680.2 1422.4,681.8 1422.7,683.4 1423.1,685 1423.6,686.6 1423.9,688.2 1424.6,689.8 1424.9,691.4 1425.4,693 1425.7,694.6 1426.3,696.2 1426.8,697.8 1427,699.4 1427.4,701 1427.7,702.6 1428.2,704.2 1428.5,705.8 1429.2,707.4 1429.8,709 1430.1,710.6 1430.4,712.2 1431,713.8 1431.3,715.4 1431.7,717 1432.2,718.6 1432.8,720.2 1433.3,721.8 1433.5,723.4 1433.9,725 1434.5,726.6 1434.7,728.2 1435.3,729.8 1435.6,731.4 1436.1,733 1436.4,734.6 1437,736.2 1437.2,737.8 1437.7,739.4 1438.1,741 1438.6,742.6 1438.9,744.2 1439.2,745.8 1439.7,747.4 1440,749 1440.3,750.6 1440.7,752.2 1441.2,753.8 1441.6,755.4 1442.2,757 1442.3,758.6 1442.7,760.2 1443.3,761.8 1443.7,763.4 1444.2,765 1444.4,766.6 1444.8,768.2 1445.3,769.8 1445.7,771.4 1445.9,773 1446.3,774.6 1446.7,776.2 1447.1,777.8 1447.4,779.4 1447.9,781 1448.3,782.6 1448.6,784.2 1449,785.8 1449.3,787.4 1449.7,789 1450.3,790.6" fill="none" stroke="#00ffff" stroke-width="11.6" stroke-linejoin="round" stroke-linecap="round"/>
</g>
<g clip-path="url(#c2)">
<polyline points="1250.6,53 1251.1,54.6 1251.8,56.2 1252.2,57.8 1253.1,59.4 1253.7,61 1254.3,62.6 1254.6,64.2 1255.2,65.8 1255.5,67.4 1256,69 1256.4,70.6 1256.8,72.2 1257.5,73.8 1257.6,75.4 1258.2,77 1258.7,78.6 1258.8,80.2 1259.4,81.8 1259.6,83.4 1259.9,85 1260.1,86.6 1260.5,88.2 1261.1,89.8 1261.2,91.4 1261.6,93 1262,94.6 1262.5,96.2 1262.7,97.8 1262.9,99.4 1263.1,101 1263.5,102.6 1263.9,104.2 1264.6,105.8 1265.1,107.4 1265.2,109 1265.5,110.6 1265.7,112.2 1266.6,113.8 1266.7,115.4 1267.2,117 1267.5,118.6 1268,120.2 1268.8,121.8 1269.3,123.4 1269.8,125 1270.5,126.6 1270.8,128.2 1271.5,129.8 1272,131.4 1272.4,133 1272.8,134.6 1273.4,136.2 1273.9,137.8 1274.2,139.4 1274.9,141 1275.4,142.6 1276,144.2 1276.4,145.8 1276.7,147.4 1277,149 1277.6,150.6 1277.9,152.2 1278.5,153.8 1279.1,155.4 1279.8,157 1280,158.6 1280.5,160.2 1281,161.8 1281.5,163.4 1281.9,165 1282.1,166.6 1283,168.2 1283.6,169.8 1283.8,171.4 1284.5,173 1285,174.6 1285.1,176.2 1285.7,177.8 1286.1,179.4 1286.5,181 1286.8,182.6 1287.6,184.2 1288.1,185.8 1288.4,187.4 1288.9,189 1289.3,190.6 1290,192.2 1290.2,193.8 1290.8,195.4 1291.3,197 1291.9,198.6 1292.1,200.2 1292.7,201.8 1292.9,203.4 1293.3,205 1293.8,206.6 1294.5,208.2 1294.9,209.8 1295.2,211.4 1295.5,213 1296,214.6 1296.7,216.2 1297.2,217.8 1297.6,219.4 1298,221 1298.3,222.6 1298.7,224.2 1299.1,225.8 1299.8,227.4 1300.3,229 1300.5,230.6 1301,232.2 1301.7,233.8 1301.9,235.4 1302.2,237 1303,238.6 1303.4,240.2 1304,241.8 1304.5,243.4 1304.8,245 1305.4,246.6 1305.6,248.2 1306,249.8 1306.3,251.4 1306.9,253 1307.2,254.6 1307.7,256.2 1308.3,257.8 1308.8,259.4 1309.1,261 1309.4,262.6 1310.1,264.2 1310.7,265.8 1311.1,267.4 1311.5,269 1311.8,270.6 1312.2,272.2 1312.6,273.8 1313.1,275.4 1313.5,277 1314.1,278.6 1314.5,280.2 1315.2,281.8 1315.5,283.4 1315.7,285 1316.1,286.6 1316.5,288.2 1317.2,289.8 1317.7,291.4 1318.2,293 1318.7,294.6 1319.2,296.2 1319.5,297.8 1319.8,299.4 1320.5,301 1321,302.6 1321.4,304.2 1321.9,305.8 1322.4,307.4 1322.6,309 1323.1,310.6 1323.7,312.2 1324.3,313.8 1324.7,315.4 1325,317 1325.6,318.6 1326,320.2 1326.7,321.8 1327.2,323.4 1327.7,325 1327.8,326.6 1328.4,328.2 1328.7,329.8 1329,331.4 1329.5,333 1330.1,334.6 1330.4,336.2 1331.1,337.8 1331.2,339.4 1331.9,341 1332.4,342.6 1332.9,344.2 1333.2,345.8 1333.8,347.4 1334,349 1334.4,350.6 1335,352.2 1335.5,353.8 1335.6,355.4 1336.1,357 1336.7,358.6 1336.9,360.2 1337.2,361.8 1337.7,363.4 1338.3,365 1338.5,366.6 1339.1,368.2 1339.3,369.8 1340,371.4 1340.2,373 1340.5,374.6 1341.2,376.2 1341.5,377.8 1341.7,379.4 1342.2,381 1342.9,382.6 1343.4,384.2 1343.7,385.8 1343.9,387.4 1344.5,389 1344.7,390.6 1345.3,392.2 1345.8,393.8 1346.4,395.4 1346.5,397 1347.1,398.6 1347.3,400.2 1347.8,401.8 1348.2,403.4 1348.7,405 1349,406.6 1349.6,408.2 1350,409.8 1350.5,411.4 1350.8,413 1351.3,414.6 1351.8,416.2 1352,417.8 1352.6,419.4 1352.8,421 1353.3,422.6 1353.6,424.2 1354,425.8 1354.6,427.4 1355.1,429 1355.6,430.6 1356,432.2 1356.3,433.8 1356.6,435.4 1357,437 1357.5,438.6 1357.8,440.2 1358.1,441.8 1358.6,443.4 1359,445 1359.5,446.6 1360,448.2 1360.6,449.8 1360.7,451.4 1361.2,453 1361.7,454.6 1361.9,456.2 1362.4,457.8 1362.7,459.4 1363.2,461 1363.7,462.6 1364.1,464.2 1364.4,465.8 1364.8,467.4 1365.2,469 1365.8,470.6 1366.1,472.2 1366.4,473.8 1367.1,475.4 1367.5,477 1367.9,478.6 1368.4,480.2 1368.8,481.8 1369.3,483.4 1369.5,485 1369.9,486.6 1370.2,488.2 1370.8,489.8 1371.1,491.4 1371.4,493 1371.8,494.6 1372.5,496.2 1372.8,497.8 1373.4,499.4 1373.8,501 1374.1,502.6 1374.6,504.2 1375.2,505.8 1375.5,507.4 1376.1,509 1376.5,510.6 1376.9,512.2 1377.4,513.8 1377.8,515.4 1378.3,517 1378.5,518.6 1379.1,520.2 1379.6,521.8 1379.9,523.4 1380.3,525 1380.7,526.6 1381,528.2 1381.4,529.8 1382.1,531.4 1382.6,533 1383,534.6 1383.2,536.2 1383.8,537.8 1384.1,539.4 1384.7,541 1385.1,542.6 1385.4,544.2 1385.9,545.8 1386.1,547.4 1386.8,549 1387.3,550.6 1387.7,552.2 1388.2,553.8 1388.7,555.4 1388.8,557 1389.3,558.6 1389.9,560.2 1390.4,561.8 1390.8,563.4 1391.3,565 1391.6,566.6 1392.1,568.2 1392.6,569.8 1392.9,571.4 1393.5,573 1393.9,574.6 1394.4,576.2 1394.8,577.8 1394.9,579.4 1395.6,581 1396,582.6 1396.5,584.2 1396.8,585.8 1397,587.4 1397.6,589 1398.2,590.6 1398.5,592.2 1398.9,593.8 1399.3,595.4 1399.6,597 1399.9,598.6 1400.5,600.2 1400.9,601.8 1401.2,603.4 1401.8,605 1402.1,606.6 1402.8,608.2 1403.3,609.8 1403.5,611.4 1404,613 1404.5,614.6 1405,616.2 1405.3,617.8 1405.7,619.4 1406.2,621 1406.4,622.6 1406.8,624.2 1407.1,625.8 1407.9,627.4 1408.2,629 1408.5,630.6 1408.8,632.2 1409.3,633.8 1409.7,635.4 1410.3,637 1410.7,638.6 1411.1,640.2 1411.4,641.8 1411.8,643.4 1412.5,645 1412.7,646.6 1413.2,648.2 1413.6,649.8 1414,651.4 1414.5,653 1415.1,654.6 1415.5,656.2 1416.1,657.8 1416.3,659.4 1417,661 1417.2,662.6 1417.5,664.2 1417.9,665.8 1418.4,667.4 1418.8,669 1419.2,670.6 1419.8,672.2 1420.2,673.8 1420.8,675.4 1421.2,677 1421.4,678.6 1421.8,680.2 1422.2,681.8 1422.8,683.4 1423.2,685 1423.8,686.6 1424.4,688.2 1424.7,689.8 1425.1,691.4 1425.4,693 1426.1,694.6 1426.6,696.2 1427,697.8 1427.4,699.4 1427.7,701 1427.9,702.6 1428.3,704.2 1428.9,705.8 1429.4,707.4 1430,709 1430.2,710.6 1430.6,712.2 1431.1,713.8 1431.4,715.4 1431.8,717 1432.2,718.6 1432.8,720.2 1433.2,721.8 1433.6,723.4 1434.2,725 1434.5,726.6 1434.8,728.2 1435.4,729.8 1435.6,731.4 1435.9,733 1436.2,734.6 1436.8,736.2 1437.3,737.8 1437.6,739.4 1438.2,741 1438.5,742.6 1439,744.2 1439.2,745.8 1439.7,747.4 1440,749 1440.5,750.6 1441,752.2 1441.4,753.8 1441.8,755.4 1442.2,757 1442.5,758.6 1443.1,760.2 1443.5,761.8 1443.7,763.4 1444.1,765 1444.5,766.6 1444.9,768.2 1445.2,769.8 1445.5,771.4 1446,773 1446.3,774.6 1446.7,776.2 1447.1,777.8 1447.4,779.4 1448,781 1448.3,782.6 1448.7,784.2 1449.2,785.8 1449.5,787.4 1450.1,789 1450.5,790.6" fill="none" stroke="#00ffff" stroke-width="11.6" stroke-linejoin="round" stroke-linecap="round"/>
</g>
<g clip-path="url(#c2)">
<polyline points="1250.6,53 1251.2,54.6 1251.8,56.2 1252.4,57.8 1253.1,59.4 1253.7,61 1254.1,62.6 1254.6,64.2 1255,65.8 1255.4,67.4 1256,69 1256.6,70.6 1256.9,72.2 1257.3,73.8 1257.3,75.4 1258,77 1258.4,78.6 1258.8,80.2 1258.9,81.8 1259.3,83.4 1259.7,85 1259.8,86.6 1260.1,88.2 1260.6,89.8 1261.1,91.4 1261.5,93 1261.8,94.6 1262.3,96.2 1262.6,97.8 1262.5,99.4 1262.8,101 1263,102.6 1263.8,104.2 1264.3,105.8 1264.5,107.4 1264.8,109 1265.2,110.6 1265.8,112.2 1266.2,113.8 1266.4,115.4 1267.1,117 1267.4,118.6 1267.9,120.2 1268.7,121.8 1269.4,123.4 1269.9,125 1270.5,126.6 1270.8,128.2 1270.9,129.8 1271.4,131.4 1272,133 1272.7,134.6 1273,136.2 1273.2,137.8 1274.1,139.4 1274.6,141 1275.2,142.6 1275.6,144.2 1275.9,145.8 1276.3,147.4 1276.6,149 1277.1,150.6 1277.7,152.2 1278.5,153.8 1279.2,155.4 1279.5,157 1279.7,158.6 1280.5,160.2 1280.6,161.8 1280.9,163.4 1281.7,165 1282.2,166.6 1283,168.2 1283.4,169.8 1284,171.4 1284.5,173 1285.1,174.6 1285.6,176.2 1285.9,177.8 1286.3,179.4 1286.8,181 1286.9,182.6 1287.4,184.2 1287.8,185.8 1288.4,187.4 1288.7,189 1289.4,190.6 1289.6,192.2 1290.1,193.8 1290.6,195.4 1291,197 1291.6,198.6 1292.1,200.2 1292.7,201.8 1293,203.4 1293.6,205 1294,206.6 1294.5,208.2 1294.7,209.8 1295.2,211.4 1295.8,213 1296.2,214.6 1296.5,216.2 1297,217.8 1297.6,219.4 1298.1,221 1298.3,222.6 1298.6,224.2 1299,225.8 1299.4,227.4 1300.1,229 1300.7,230.6 1301.2,232.2 1301.6,233.8 1301.9,235.4 1302.4,237 1302.6,238.6 1303.3,240.2 1303.6,241.8 1304.2,243.4 1304.6,245 1304.9,246.6 1305.4,248.2 1305.8,249.8 1306.5,251.4 1306.7,253 1307.1,254.6 1307.6,256.2 1308.1,257.8 1308.4,259.4 1309.1,261 1309.5,262.6 1310,264.2 1310.3,265.8 1310.7,267.4 1311.2,269 1311.6,270.6 1312.3,272.2 1312.6,273.8 1312.9,275.4 1313.6,277 1313.9,278.6 1314.6,280.2 1315.1,281.8 1315.6,283.4 1316,285 1316.3,286.6 1316.9,288.2 1317.3,289.8 1317.7,291.4 1317.9,293 1318.5,294.6 1318.9,296.2 1319.6,297.8 1319.9,299.4 1320.5,301 1321,302.6 1321.5,304.2 1322,305.8 1322.5,307.4 1322.7,309 1323.1,310.6 1323.7,312.2 1324.1,313.8 1324.3,315.4 1324.8,317 1325.4,318.6 1325.7,320.2 1326.4,321.8 1326.6,323.4 1327.2,325 1327.5,326.6 1327.8,328.2 1328.6,329.8 1329.2,331.4 1329.4,333 1329.8,334.6 1330.2,336.2 1330.8,337.8 1331.4,339.4 1331.9,341 1332.1,342.6 1332.4,344.2 1332.9,345.8 1333.6,347.4 1333.8,349 1334.3,350.6 1334.6,352.2 1334.9,353.8 1335.4,355.4 1335.7,357 1336.2,358.6 1336.5,360.2 1336.9,361.8 1337.3,363.4 1338,365 1338.5,366.6 1339.1,368.2 1339.4,369.8 1340,371.4 1340.2,373 1340.7,374.6 1341.2,376.2 1341.6,377.8 1341.9,379.4 1342.4,381 1342.8,382.6 1343.2,384.2 1343.6,385.8 1344,387.4 1344.6,389 1345,390.6 1345.5,392.2 1345.9,393.8 1346.3,395.4 1346.8,397 1346.9,398.6 1347.4,400.2 1347.7,401.8 1348,403.4 1348.6,405 1349,406.6 1349.5,408.2 1350,409.8 1350.5,411.4 1351,413 1351.2,414.6 1351.4,416.2 1351.8,417.8 1352.2,419.4 1352.9,421 1353.1,422.6 1353.5,424.2 1354.1,425.8 1354.5,427.4 1354.7,429 1355.1,430.6 1355.5,432.2 1356,433.8 1356.7,435.4 1357.2,437 1357.7,438.6 1357.9,440.2 1358.3,441.8 1358.8,443.4 1359,445 1359.4,446.6 1360,448.2 1360.4,449.8 1361,451.4 1361.1,453 1361.4,454.6 1361.9,456.2 1362.5,457.8 1363,459.4 1363.3,461 1363.7,462.6 1364.2,464.2 1364.7,465.8 1364.9,467.4 1365.2,469 1365.5,470.6 1366,472.2 1366.5,473.8 1367.1,475.4 1367.4,477 1367.9,478.6 1368.1,480.2 1368.5,481.8 1369.1,483.4 1369.6,485 1369.9,486.6 1370.2,488.2 1370.7,489.8 1371.2,491.4 1371.5,493 1371.8,494.6 1372.3,496.2 1372.7,497.8 1373.3,499.4 1373.6,501 1374.2,502.6 1374.7,504.2 1374.9,505.8 1375.3,507.4 1375.9,509 1376.2,510.6 1376.6,512.2 1377.2,513.8 1377.6,515.4 1378,517 1378.4,518.6 1378.9,520.2 1379.5,521.8 1380,523.4 1380.2,525 1380.8,526.6 1381.3,528.2 1381.7,529.8 1382.2,531.4 1382.3,533 1382.7,534.6 1383.1,536.2 1383.7,537.8 1384.1,539.4 1384.4,541 1385,542.6 1385.4,544.2 1385.9,545.8 1386.4,547.4 1386.7,549 1387.1,550.6 1387.4,552.2 1387.9,553.8 1388.2,555.4 1388.7,557 1389.3,558.6 1389.6,560.2 1390,561.8 1390.5,563.4 1391.2,565 1391.5,566.6 1391.8,568.2 1392.2,569.8 1392.6,571.4 1393.2,573 1393.6,574.6 1394,576.2 1394.4,577.8 1395,579.4 1395.4,581 1395.8,582.6 1396.2,584.2 1396.6,585.8 1396.9,587.4 1397.4,589 1397.8,590.6 1398.3,592.2 1398.6,593.8 1399.1,595.4 1399.7,597 1400.2,598.6 1400.4,600.2 1400.9,601.8 1401.4,603.4 1401.8,605 1402.3,606.6 1402.8,608.2 1403,609.8 1403.3,611.4 1403.8,613 1404.2,614.6 1404.7,616.2 1405.1,617.8 1405.8,619.4 1406,621 1406.3,622.6 1406.8,624.2 1407.3,625.8 1407.8,627.4 1408.2,629 1408.6,630.6 1409,632.2 1409.3,633.8 1410,635.4 1410.5,637 1410.8,638.6 1411.1,640.2 1411.5,641.8 1412.1,643.4 1412.4,645 1412.9,646.6 1413.5,648.2 1414,649.8 1414.3,651.4 1414.7,653 1415,654.6 1415.5,656.2 1415.9,657.8 1416.4,659.4 1416.7,661 1417.2,662.6 1417.8,664.2 1418,665.8 1418.5,667.4 1419.1,669 1419.3,670.6 1419.8,672.2 1420.1,673.8 1420.6,675.4 1421,677 1421.5,678.6 1422.1,680.2 1422.5,681.8 1422.9,683.4 1423.5,685 1423.9,686.6 1424.2,688.2 1424.5,689.8 1425.1,691.4 1425.3,693 1425.8,694.6 1426.1,696.2 1426.6,697.8 1426.9,699.4 1427.6,701 1427.9,702.6 1428.2,704.2 1428.8,705.8 1429.2,707.4 1429.6,709 1430.1,710.6 1430.6,712.2 1431,713.8 1431.5,715.4 1431.9,717 1432.2,718.6 1432.8,720.2 1433,721.8 1433.7,723.4 1434.1,725 1434.4,726.6 1434.9,728.2 1435.2,729.8 1435.7,731.4 1436.1,733 1436.4,734.6 1436.9,736.2 1437.4,737.8 1437.7,739.4 1438.1,741 1438.4,742.6 1438.7,744.2 1439.3,745.8 1439.7,747.4 1440,749 1440.2,750.6 1440.9,752.2 1441.2,753.8 1441.5,755.4 1441.8,757 1442.4,758.6 1442.8,760.2 1443.2,761.8 1443.5,763.4 1444.1,765 1444.6,766.6 1444.9,768.2 1445.2,769.8 1445.7,771.4 1446.2,773 1446.6,774.6 1447,776.2 1447.5,777.8 1447.8,779.4 1448.3,781 1448.5,782.6 1449,784.2 1449.4,785.8 1449.7,787.4 1450,789 1450.6,790.6" fill="none" stroke="#00ffff" stroke-width="11.6" stroke-linejoin="round" stroke-linecap="round"/>
</g>
<g clip-path="url(#c2)" fill="#00ffff">
<circle cx="1236.5" cy="43.4" r="5.85"/>
</g>
<g clip-path="url(#c2)">
<polyline points="1099.3,21.8 1211,23 1213.5,40 1228.8,40.8 1245.5,46.6 1250.6,53" fill="none" stroke="#0000ff" stroke-width="2.5" stroke-linejoin="round"/>
<g fill="#0000ff">
<circle cx="1099.3" cy="21.8" r="5.85"/>
<circle cx="1228.8" cy="40.8" r="5.85"/>
<circle cx="1245.5" cy="46.6" r="5.85"/>
<circle cx="1250.6" cy="53" r="5.85"/>
</g></g>
<g clip-path="url(#c2)">
<polyline points="1211,23 1211.3,25 1211.6,27 1211.7,29 1212.3,31 1212.7,33 1213,35 1213,37 1213.3,39" fill="none" stroke="#0000ff" stroke-width="11.6" stroke-linejoin="round" stroke-linecap="round"/>
</g>
<g clip-path="url(#c2)">
<polyline points="1250.5,53 1251.2,54.6 1252.4,56.2 1252.6,57.8 1253,59.4 1253.6,61 1253.4,62.6 1254.1,64.2 1254.8,65.8 1255.7,67.4 1255.4,69 1255.6,70.6 1255.6,72.2 1256.9,73.8 1257.6,75.4 1257.2,77 1258.6,78.6 1259.5,80.2 1259.7,81.8 1259.9,83.4 1259.4,85 1259,86.6 1259.7,88.2 1259.5,89.8 1259.7,91.4 1260,93 1260,94.6 1260.8,96.2 1261.4,97.8 1262.5,99.4 1262.9,101 1263.5,102.6 1263.8,104.2 1264.4,105.8 1264.6,107.4 1264.6,109 1266,110.6 1266.9,112.2 1267.4,113.8 1267.7,115.4 1267.4,117 1267.3,118.6 1267.5,120.2 1267.5,121.8 1268.8,123.4 1269.2,125 1270.3,126.6 1270.5,128.2 1271.7,129.8 1272.4,131.4 1271.7,133 1271.8,134.6 1273.2,136.2 1273.5,137.8 1274.7,139.4 1274.7,141 1274.3,142.6 1275.2,144.2 1276.2,145.8 1276.1,147.4 1276,149 1276.5,150.6 1278.1,152.2 1278.8,153.8 1278.5,155.4 1278.6,157 1278.7,158.6 1278.9,160.2 1280.4,161.8 1280.5,163.4 1281.3,165 1281.8,166.6 1282,168.2 1283.1,169.8 1283,171.4 1283.9,173 1283.9,174.6 1284.5,176.2 1284.7,177.8 1285.1,179.4 1286.7,181 1287.5,182.6 1287.4,184.2 1288.5,185.8 1288.2,187.4 1288.5,189 1289.6,190.6 1290.1,192.2 1289.8,193.8 1291.1,195.4 1290.9,197 1291,198.6 1292.1,200.2 1292.2,201.8 1292.4,203.4 1292.4,205 1292.6,206.6 1293.6,208.2 1293.9,209.8 1294.9,211.4 1295.2,213 1295.8,214.6 1297.1,216.2 1297.3,217.8 1297.7,219.4 1298.6,221 1298.3,222.6 1298.2,224.2 1299.5,225.8 1300.3,227.4 1300.1,229 1300.1,230.6 1301.1,232.2 1302.2,233.8 1301.9,235.4 1303,237 1303.8,238.6 1304,240.2 1304,241.8 1303.7,243.4 1303.6,245 1305.2,246.6 1305.1,248.2 1306,249.8 1306,251.4 1307.1,253 1307.6,254.6 1307.6,256.2 1307.6,257.8 1308.6,259.4 1308.4,261 1308.7,262.6 1309.5,264.2 1310.7,265.8 1311.2,267.4 1311.2,269 1312.3,270.6 1312.1,272.2 1311.8,273.8 1312.2,275.4 1312.9,277 1312.9,278.6 1313.3,280.2 1314,281.8 1314.9,283.4 1315,285 1315.5,286.6 1316.9,288.2 1318,289.8 1318.4,291.4 1318.8,293 1319.1,294.6 1318.8,296.2 1318.6,297.8 1318.6,299.4 1320.2,301 1321,302.6 1322.1,304.2 1321.5,305.8 1322.2,307.4 1322.6,309 1323.4,310.6 1323.5,312.2 1324.7,313.8 1324.2,315.4 1324.8,317 1325.7,318.6 1326.6,320.2 1327.1,321.8 1327.6,323.4 1328.1,325 1328.9,326.6 1328.6,328.2 1329.1,329.8 1330,331.4 1330.6,333 1330.5,334.6 1331.1,336.2 1331.8,337.8 1331.9,339.4 1332.2,341 1332.2,342.6 1332.7,344.2 1333.2,345.8 1332.8,347.4 1333.6,349 1334.9,350.6 1335.6,352.2 1336,353.8 1335.8,355.4 1336.4,357 1336.8,358.6 1336.9,360.2 1337.8,361.8 1337.3,363.4 1338.2,365 1337.8,366.6 1338.6,368.2 1339.1,369.8 1339.1,371.4 1340.1,373 1340.5,374.6 1341.1,376.2 1342.1,377.8 1341.8,379.4 1341.5,381 1341.9,382.6 1342.9,384.2 1342.9,385.8 1343,387.4 1344.4,389 1345.1,390.6 1345.3,392.2 1346.3,393.8 1346.1,395.4 1346.8,397 1346.6,398.6 1347,400.2 1348,401.8 1349,403.4 1349.7,405 1349.5,406.6 1349.8,408.2 1349.8,409.8 1349.6,411.4 1350.3,413 1351.4,414.6 1352.3,416.2 1352.7,417.8 1353.5,419.4 1353.1,421 1352.9,422.6 1353.3,424.2 1353.5,425.8 1353.7,427.4 1354.2,429 1355.1,430.6 1355.6,432.2 1355.7,433.8 1356.8,435.4 1357.9,437 1357.8,438.6 1357.4,440.2 1357.2,441.8 1358.6,443.4 1358.3,445 1359.3,446.6 1359.9,448.2 1360,449.8 1361,451.4 1360.5,453 1360.6,454.6 1361.3,456.2 1361.2,457.8 1362.6,459.4 1362.6,461 1362.7,462.6 1362.7,464.2 1363.9,465.8 1364.4,467.4 1365.2,469 1365.9,470.6 1366.7,472.2 1367.6,473.8 1367.9,475.4 1367.4,477 1367.8,478.6 1367.7,480.2 1367.5,481.8 1368.3,483.4 1369.3,485 1369.3,486.6 1369.5,488.2 1370,489.8 1371,491.4 1371.5,493 1372.1,494.6 1372.9,496.2 1372.9,497.8 1373.8,499.4 1374.7,501 1374,502.6 1375.2,504.2 1375.7,505.8 1375.3,507.4 1375.7,509 1376.4,510.6 1377.4,512.2 1377.4,513.8 1377.8,515.4 1378.8,517 1379.4,518.6 1380.2,520.2 1380,521.8 1380.4,523.4 1380.1,525 1380.9,526.6 1381.8,528.2 1382.1,529.8 1382.7,531.4 1382.3,533 1383.4,534.6 1384.4,536.2 1385.1,537.8 1385,539.4 1385.6,541 1385.3,542.6 1386.3,544.2 1386.9,545.8 1386.7,547.4 1386.3,549 1386.8,550.6 1387.4,552.2 1388.4,553.8 1388.6,555.4 1388.2,557 1389.4,558.6 1389.1,560.2 1390.3,561.8 1390.2,563.4 1390.5,565 1391.6,566.6 1391.4,568.2 1391.5,569.8 1392.3,571.4 1393.3,573 1394.2,574.6 1394.7,576.2 1395.6,577.8 1395.6,579.4 1396.5,581 1395.8,582.6 1395.8,584.2 1396.4,585.8 1396.6,587.4 1397.6,589 1398.2,590.6 1398.6,592.2 1399.5,593.8 1399.7,595.4 1399.6,597 1399.9,598.6 1400.9,600.2 1401.8,601.8 1401.4,603.4 1402.4,605 1403.3,606.6 1403.3,608.2 1403.6,609.8 1403.3,611.4 1403.9,613 1404.3,614.6 1404.9,616.2 1404.6,617.8 1406,619.4 1406.3,621 1406.5,622.6 1407.4,624.2 1407.7,625.8 1408,627.4 1408.6,629 1408.2,630.6 1408.9,632.2 1409.2,633.8 1410.5,635.4 1411.4,637 1411,638.6 1411.3,640.2 1411.1,641.8 1411.6,643.4 1412.7,645 1413.7,646.6 1413.8,648.2 1413.8,649.8 1413.7,651.4 1414.5,653 1415.7,654.6 1415.3,656.2 1416.2,657.8 1415.8,659.4 1416,661 1416.3,662.6 1417.4,664.2 1417.6,665.8 1418,667.4 1418.8,669 1418.7,670.6 1419.8,672.2 1419.6,673.8 1420.3,675.4 1420.5,677 1420.7,678.6 1421.5,680.2 1422,681.8 1422.4,683.4 1422.9,685 1423.5,686.6 1423.5,688.2 1423.7,689.8 1424.7,691.4 1425.4,693 1425.9,694.6 1426.9,696.2 1427.2,697.8 1428,699.4 1427.7,701 1428.4,702.6 1429.2,704.2 1430,705.8 1429.6,707.4 1429.6,709 1430.8,710.6 1430.5,712.2 1431.8,713.8 1432.5,715.4 1431.9,717 1431.9,718.6 1432.9,720.2 1432.8,721.8 1432.8,723.4 1434,725 1434.3,726.6 1435.3,728.2 1434.9,729.8 1435.3,731.4 1436.1,733 1435.7,734.6 1436,736.2 1437,737.8 1438.2,739.4 1439.1,741 1438.5,742.6 1438.9,744.2 1439.7,745.8 1439.9,747.4 1440.5,749 1440.2,750.6 1440,752.2 1440.1,753.8 1440.2,755.4 1441.3,757 1442,758.6 1442.7,760.2 1442.6,761.8 1442.7,763.4 1443,765 1444.4,766.6 1445.6,768.2 1446.4,769.8 1445.7,771.4 1445.4,773 1446.8,774.6 1447,776.2 1447.7,777.8 1447.7,779.4 1448,781 1448.4,782.6 1448.7,784.2 1449.3,785.8 1448.9,787.4 1449.9,789 1450.9,790.6" fill="none" stroke="#0000ff" stroke-width="11.6" stroke-linejoin="round" stroke-linecap="round"/>
</g>
<g clip-path="url(#c2)">
<polyline points="1204.1,19.1 1204.3,20.7 1204.6,22.3 1204.9,23.8 1205.2,25.4 1205.6,27 1206,28.6 1206.7,30.9 1208,34.9 1210,38.8 1214.5,42.7 1221,46.7 1228,50.6 1233.5,54.6 1238,58.5 1244,66.4 1248.4,74.3 1252.2,82.1 1255.6,90 1258.5,97.9 1266.5,117.6 1272.3,137.3 1284.7,176.7 1296,216.1 1307,255.5 1318.1,294.9 1329.3,334.3 1350.2,413.1 1370.7,491.9 1392.1,570.7 1413.2,649.5 1434.6,728.3 1455.4,807.1" fill="none" stroke="#008000" stroke-width="2.5" stroke-linejoin="round" stroke-linecap="butt"/>
<g fill="#008000">
<circle cx="1204.1" cy="19.1" r="5.85"/>
<circle cx="1204.3" cy="20.7" r="5.85"/>
<circle cx="1204.6" cy="22.3" r="5.85"/>
<circle cx="1204.9" cy="23.8" r="5.85"/>
<circle cx="1205.2" cy="25.4" r="5.85"/>
<circle cx="1205.6" cy="27" r="5.85"/>
<circle cx="1206" cy="28.6" r="5.85"/>
<circle cx="1206.7" cy="30.9" r="5.85"/>
<circle cx="1208" cy="34.9" r="5.85"/>
<circle cx="1210" cy="38.8" r="5.85"/>
<circle cx="1214.5" cy="42.7" r="5.85"/>
<circle cx="1221" cy="46.7" r="5.85"/>
<circle cx="1228" cy="50.6" r="5.85"/>
<circle cx="1233.5" cy="54.6" r="5.85"/>
<circle cx="1238" cy="58.5" r="5.85"/>
<circle cx="1244" cy="66.4" r="5.85"/>
<circle cx="1248.4" cy="74.3" r="5.85"/>
<circle cx="1252.2" cy="82.1" r="5.85"/>
<circle cx="1255.6" cy="90" r="5.85"/>
<circle cx="1258.5" cy="97.9" r="5.85"/>
<circle cx="1266.5" cy="117.6" r="5.85"/>
<circle cx="1272.3" cy="137.3" r="5.85"/>
<circle cx="1284.7" cy="176.7" r="5.85"/>
<circle cx="1296" cy="216.1" r="5.85"/>
<circle cx="1307" cy="255.5" r="5.85"/>
<circle cx="1318.1" cy="294.9" r="5.85"/>
<circle cx="1329.3" cy="334.3" r="5.85"/>
<circle cx="1350.2" cy="413.1" r="5.85"/>
<circle cx="1370.7" cy="491.9" r="5.85"/>
<circle cx="1392.1" cy="570.7" r="5.85"/>
<circle cx="1413.2" cy="649.5" r="5.85"/>
<circle cx="1434.6" cy="728.3" r="5.85"/>
<circle cx="1455.4" cy="807.1" r="5.85"/>
</g>
</g>
<g clip-path="url(#c2)">
<polyline points="1215.6,19.5 1215.7,20.3 1215.9,21.2 1216.1,22.1 1216.3,23.1 1216.6,24.2 1216.9,25.3 1217.2,26.6 1217.6,28.1 1218,29.7 1218.5,31.6 1219,33.7 1219.6,36.1 1221,39 1223.5,42.3 1227.5,46.2 1236.5,50.9 1245.5,56.4 1254.7,63 1259.5,71 1262.6,80.4 1266.3,91.9 1270,105.6 1275.3,122.1 1280.6,141.9 1287.4,165.8 1294.3,194.4 1303.4,228.7 1314.3,269.8 1327.1,318.7 1343.2,376.8 1361.5,445.5 1382.9,526.2 1407.1,620.6 1436.3,730.1" fill="none" stroke="#ff00ff" stroke-width="2.5" stroke-linejoin="round" stroke-linecap="butt"/>
<g fill="#ff00ff">
<circle cx="1215.6" cy="19.5" r="5.85"/>
<circle cx="1215.7" cy="20.3" r="5.85"/>
<circle cx="1215.9" cy="21.2" r="5.85"/>
<circle cx="1216.1" cy="22.1" r="5.85"/>
<circle cx="1216.3" cy="23.1" r="5.85"/>
<circle cx="1216.6" cy="24.2" r="5.85"/>
<circle cx="1216.9" cy="25.3" r="5.85"/>
<circle cx="1217.2" cy="26.6" r="5.85"/>
<circle cx="1217.6" cy="28.1" r="5.85"/>
<circle cx="1218" cy="29.7" r="5.85"/>
<circle cx="1218.5" cy="31.6" r="5.85"/>
<circle cx="1219" cy="33.7" r="5.85"/>
<circle cx="1219.6" cy="36.1" r="5.85"/>
<circle cx="1221" cy="39" r="5.85"/>
<circle cx="1223.5" cy="42.3" r="5.85"/>
<circle cx="1227.5" cy="46.2" r="5.85"/>
<circle cx="1236.5" cy="50.9" r="5.85"/>
<circle cx="1245.5" cy="56.4" r="5.85"/>
<circle cx="1254.7" cy="63" r="5.85"/>
<circle cx="1259.5" cy="71" r="5.85"/>
<circle cx="1262.6" cy="80.4" r="5.85"/>
<circle cx="1266.3" cy="91.9" r="5.85"/>
<circle cx="1270" cy="105.6" r="5.85"/>
<circle cx="1275.3" cy="122.1" r="5.85"/>
<circle cx="1280.6" cy="141.9" r="5.85"/>
<circle cx="1287.4" cy="165.8" r="5.85"/>
<circle cx="1294.3" cy="194.4" r="5.85"/>
<circle cx="1303.4" cy="228.7" r="5.85"/>
<circle cx="1314.3" cy="269.8" r="5.85"/>
<circle cx="1327.1" cy="318.7" r="5.85"/>
<circle cx="1343.2" cy="376.8" r="5.85"/>
<circle cx="1361.5" cy="445.5" r="5.85"/>
<circle cx="1382.9" cy="526.2" r="5.85"/>
<circle cx="1407.1" cy="620.6" r="5.85"/>
<circle cx="1436.3" cy="730.1" r="5.85"/>
</g>
</g>
<rect x="99.6" y="19.4" width="398.9" height="795" fill="none" stroke="#000" stroke-width="1.3"/>
<g stroke="#000" stroke-width="1.3">
<path d="M99.6 19.4h-6.4"/>
<path d="M99.6 97.5h-6.4"/>
<path d="M99.6 176.5h-6.4"/>
<path d="M99.6 255.5h-6.4"/>
<path d="M99.6 334.5h-6.4"/>
<path d="M99.6 413.5h-6.4"/>
<path d="M99.6 491.5h-6.4"/>
<path d="M99.6 570.5h-6.4"/>
<path d="M99.6 649.5h-6.4"/>
<path d="M99.6 728.5h-6.4"/>
<path d="M99.6 807.5h-6.4"/>
<path d="M151.5 814.4v6.4"/>
<path d="M264.5 814.4v6.4"/>
<path d="M376.5 814.4v6.4"/>
<path d="M489.5 814.4v6.4"/>
</g>
<rect x="588.6" y="19.4" width="399" height="795" fill="none" stroke="#000" stroke-width="1.3"/>
<g stroke="#000" stroke-width="1.3">
<path d="M588.6 19.4h-6.4"/>
<path d="M588.6 97.5h-6.4"/>
<path d="M588.6 176.5h-6.4"/>
<path d="M588.6 255.5h-6.4"/>
<path d="M588.6 334.5h-6.4"/>
<path d="M588.6 413.5h-6.4"/>
<path d="M588.6 491.5h-6.4"/>
<path d="M588.6 570.5h-6.4"/>
<path d="M588.6 649.5h-6.4"/>
<path d="M588.6 728.5h-6.4"/>
<path d="M588.6 807.5h-6.4"/>
<path d="M666.5 814.4v6.4"/>
<path d="M766.5 814.4v6.4"/>
<path d="M866.5 814.4v6.4"/>
<path d="M966.5 814.4v6.4"/>
</g>
<rect x="1078.7" y="19.4" width="398.1" height="795" fill="none" stroke="#000" stroke-width="1.3"/>
<g stroke="#000" stroke-width="1.3">
<path d="M1078.7 19.4h-6.4"/>
<path d="M1078.7 97.5h-6.4"/>
<path d="M1078.7 176.5h-6.4"/>
<path d="M1078.7 255.5h-6.4"/>
<path d="M1078.7 334.5h-6.4"/>
<path d="M1078.7 413.5h-6.4"/>
<path d="M1078.7 491.5h-6.4"/>
<path d="M1078.7 570.5h-6.4"/>
<path d="M1078.7 649.5h-6.4"/>
<path d="M1078.7 728.5h-6.4"/>
<path d="M1078.7 807.5h-6.4"/>
<path d="M1087.5 814.4v6.4"/>
<path d="M1174.5 814.4v6.4"/>
<path d="M1261.5 814.4v6.4"/>
<path d="M1349.5 814.4v6.4"/>
<path d="M1436.5 814.4v6.4"/>
</g>
<g font-size="16.67">
<text x="86.3" y="26.6" font-size="16.67" font-weight="normal" font-style="normal" text-anchor="end">0</text>
<text x="86.3" y="104.7" font-size="16.67" font-weight="normal" font-style="normal" text-anchor="end">100</text>
<text x="86.3" y="183.7" font-size="16.67" font-weight="normal" font-style="normal" text-anchor="end">200</text>
<text x="86.3" y="262.7" font-size="16.67" font-weight="normal" font-style="normal" text-anchor="end">300</text>
<text x="86.3" y="341.7" font-size="16.67" font-weight="normal" font-style="normal" text-anchor="end">400</text>
<text x="86.3" y="420.7" font-size="16.67" font-weight="normal" font-style="normal" text-anchor="end">500</text>
<text x="86.3" y="498.7" font-size="16.67" font-weight="normal" font-style="normal" text-anchor="end">600</text>
<text x="86.3" y="577.7" font-size="16.67" font-weight="normal" font-style="normal" text-anchor="end">700</text>
<text x="86.3" y="656.7" font-size="16.67" font-weight="normal" font-style="normal" text-anchor="end">800</text>
<text x="86.3" y="735.7" font-size="16.67" font-weight="normal" font-style="normal" text-anchor="end">900</text>
<text x="86.3" y="814.7" font-size="16.67" font-weight="normal" font-style="normal" text-anchor="end">1000</text>
<text x="151.8" y="842" font-size="16.67" font-weight="normal" font-style="normal" text-anchor="middle">4</text>
<text x="264.8" y="842" font-size="16.67" font-weight="normal" font-style="normal" text-anchor="middle">6</text>
<text x="376.8" y="842" font-size="16.67" font-weight="normal" font-style="normal" text-anchor="middle">8</text>
<text x="489.8" y="842" font-size="16.67" font-weight="normal" font-style="normal" text-anchor="middle">10</text>
<text x="666.8" y="842" font-size="16.67" font-weight="normal" font-style="normal" text-anchor="middle">32</text>
<text x="766.8" y="842" font-size="16.67" font-weight="normal" font-style="normal" text-anchor="middle">33</text>
<text x="866.8" y="842" font-size="16.67" font-weight="normal" font-style="normal" text-anchor="middle">34</text>
<text x="966.8" y="842" font-size="16.67" font-weight="normal" font-style="normal" text-anchor="middle">35</text>
<text x="1090.3" y="855.4" font-size="16.67" font-weight="normal" font-style="normal" text-anchor="middle" transform="rotate(-45 1090.3 855.4)">1024</text>
<text x="1177.3" y="855.4" font-size="16.67" font-weight="normal" font-style="normal" text-anchor="middle" transform="rotate(-45 1177.3 855.4)">1026</text>
<text x="1264.3" y="855.4" font-size="16.67" font-weight="normal" font-style="normal" text-anchor="middle" transform="rotate(-45 1264.3 855.4)">1028</text>
<text x="1352.3" y="855.4" font-size="16.67" font-weight="normal" font-style="normal" text-anchor="middle" transform="rotate(-45 1352.3 855.4)">1030</text>
<text x="1439.3" y="855.4" font-size="16.67" font-weight="normal" font-style="normal" text-anchor="middle" transform="rotate(-45 1439.3 855.4)">1032</text>
</g>
<text x="29.4" y="419.2" font-size="22.66" font-weight="bold" font-style="normal" text-anchor="middle" transform="rotate(-90 29.4 419.2)">Depth (m)</text>
<text x="298.8" y="871.5" font-size="22.96" font-weight="bold" text-anchor="middle">Temperature (<tspan font-size="15.6" dy="-8.5" font-style="italic" font-weight="normal">o</tspan><tspan dy="8.5" font-style="italic" font-weight="normal">C</tspan>)</text>
<text x="788" y="870.3" font-size="22.66" font-weight="bold" font-style="normal" text-anchor="middle">Salinity</text>
<text x="1276.5" y="895.6" font-size="22.66" font-weight="bold" font-style="normal" text-anchor="middle">Density (kg m-3)</text>
<text x="424" y="918" font-size="17.38" font-weight="normal" font-style="italic" text-anchor="start">Ocean Heat Content (kJ/cm^2) - Glider: N/A,&#160; RTOFS: N/A,&#160; ESPC: N/A,&#160; CMEMS: N/A,</text>
<text x="1526.8" y="36.6" font-size="22.66" font-weight="bold" font-style="normal" text-anchor="start">Comparison Date: 2025-09-15</text>
<text x="1526.8" y="90.1" font-size="22.66" font-weight="bold" font-style="normal" text-anchor="start">Glider: gi_486</text>
<text x="1526.8" y="116.8" font-size="22.66" font-weight="bold" font-style="normal" text-anchor="start">Profiles: 3</text>
<text x="1526.8" y="143.2" font-size="22.66" font-weight="bold" font-style="normal" text-anchor="start">First: 2025-09-15 06:50:00</text>
<text x="1526.8" y="169.6" font-size="22.66" font-weight="bold" font-style="normal" text-anchor="start">Last: 2025-09-15 22:50:00</text>
<text x="1526.8" y="196" font-size="22.66" font-weight="bold" font-style="normal" text-anchor="start">Method: Nearest-Neighbor</text>
<g clip-path="url(#cm)">
<rect x="1567.2" y="250.7" width="400" height="332.3" fill="#97b6e1"/>
<polygon points="1564.2,247.7 1786.2,247.7 1786.2,250.7 1784.5,251.6 1783.2,252.5 1781.9,252.9 1779.9,254.5 1778.9,255 1777,255.5 1776,256.4 1774.2,257.1 1772.2,257.8 1770.7,258.2 1769,259.5 1767.3,260.1 1765.6,260.6 1764.3,261 1763,262.4 1761.2,262.7 1760,263.9 1761,262.8 1760.6,264.5 1759.7,266.5 1758.8,267.8 1757.9,269.7 1756.5,271.1 1755.4,272.3 1754.3,274.2 1753.6,274.9 1752.1,276.7 1750.8,278 1750.7,279.7 1749.3,281.2 1748.3,282.5 1747.1,284.1 1746,285.7 1745,288 1744.3,290.1 1744.1,292.2 1743.7,293.6 1743.4,296.3 1742.8,298.2 1744,300 1744.7,300.6 1745.5,302.3 1747.7,302.8 1749.3,302.6 1748.2,305.5 1746.3,306.1 1743.7,306.6 1742.5,307.7 1741,309.3 1740.1,310.5 1738.5,311.2 1737.5,312.8 1736.6,315.7 1738.4,317 1739.6,317.5 1741.4,317.8 1743.9,317.5 1745.2,319 1746.6,321.1 1747.2,323.6 1748.2,325.5 1746.6,328.2 1748.3,328.8 1749.3,330.2 1750.3,331.6 1751.1,333.9 1752.7,335.3 1753.9,337 1756,337.7 1757.5,338 1759.3,337.9 1761,337.1 1763.1,336.6 1764.8,336.6 1765,334.8 1765.7,333.2 1765.1,331.2 1764.2,329.8 1762.7,328.8 1761.9,327.1 1759.5,326 1760.1,324.5 1763,324.6 1764.4,326.2 1766.1,327 1767.6,328.8 1768.3,331 1768.6,332.6 1769,334.3 1769.2,336 1769.4,337.5 1769.5,339.6 1768.8,341.8 1768.5,343.7 1766.6,345.7 1765.5,342.8 1765.5,340.9 1765.9,339.3 1764.7,340 1762.7,340.3 1760.9,341.4 1759.3,342.1 1757.1,342.5 1755.8,342.3 1753.9,343 1752.2,344.3 1750.2,345.7 1748.7,343.9 1749.1,341.9 1749.3,340.3 1749.3,338.2 1746.6,338.4 1744.8,339.3 1743.4,340.7 1741.5,341.1 1740.2,342.1 1738.8,343.1 1737.1,344.3 1735.7,345.7 1734.2,347.1 1732.9,348.4 1732.3,346.7 1732.2,344.8 1731.4,343.7 1731.9,342.1 1732.1,339.8 1732.8,338.2 1731.2,336.6 1729.1,335.5 1727.5,336.8 1726.4,338.2 1726.3,339.7 1725.8,341.7 1725.7,343.7 1726.2,345.5 1726.5,347 1726.4,349.2 1724.8,350.2 1722.8,350.9 1721.5,351.2 1719.1,351.4 1717.5,352 1715.7,352.8 1714.1,353.3 1711.7,353 1710.5,353.6 1708.7,353.5 1706.6,353.9 1704.4,353.9 1703.2,354.1 1701,354.5 1699.3,354.8 1699.8,355.1 1698,355.1 1696.8,355.1 1694.3,356 1693.4,356.2 1691.4,356 1689.6,356.2 1688.3,355.4 1686.3,355.9 1684.3,355.4 1682.9,354.3 1681.1,356.3 1679.6,357.4 1677.5,358.3 1676,359.6 1674.3,359.9 1673.2,360.9 1672,361.5 1670.7,362.8 1668.9,363.4 1667.8,364.4 1666.2,364.8 1663.9,365.6 1662.5,365.9 1661.2,366.7 1659.9,368.2 1658.2,370 1656.8,371 1655.6,371.7 1654,373.1 1652.9,373.7 1651.4,374.8 1649.8,375.1 1648.5,376.3 1647.6,378.4 1646.6,380 1645.4,381.7 1645.2,383.3 1644,384.5 1646.4,386.5 1649,385.7 1650.9,385.8 1652.5,386.5 1652.8,388.7 1653,390.3 1652.4,391.9 1652.5,393.9 1652.6,395.7 1652.1,397.3 1652,398.6 1651,400.4 1651,402.4 1650.4,403.6 1650.9,406 1649.8,407.4 1649.9,409 1649.2,411.1 1648.8,413.5 1647.5,415.1 1646.6,416.3 1645.4,418 1643.7,419.3 1642.1,421 1641,422.4 1639.8,423.7 1637.8,424.9 1636.7,426.7 1635.4,428 1634.5,429.4 1633.4,431.1 1632.1,432.4 1631.2,433.7 1630.4,435.4 1629.5,436.8 1628.7,438 1628.2,439.7 1627.8,441.8 1625.3,441.5 1625.9,440.1 1626,438.3 1626.9,437.2 1627.5,435.3 1625.7,433.8 1624.3,433.4 1622.4,433.5 1620.2,432.9 1618.2,431.5 1616.6,430.2 1614.3,430.3 1612.6,429.8 1612.9,432.5 1613,434.6 1613.8,436.5 1614.4,438.3 1614.8,440 1615.3,441.5 1616.2,442.4 1617.8,443.7 1618.4,445.5 1619.9,446 1622.1,447.3 1622.7,448.8 1622.2,451.2 1623,452.8 1622.8,454.9 1623.4,456.7 1623.4,458.2 1623.4,460.1 1622.8,461.4 1622.1,463.7 1621.4,465.1 1620.4,466.1 1619.6,468.2 1618.4,469.1 1617.1,470.3 1616.7,472.2 1615.5,472.9 1614.8,474.6 1613.8,476.2 1613.5,477.4 1612.5,478.9 1611.7,480.3 1611.1,481.9 1610,483.3 1610.1,484.7 1609.2,485.9 1608.4,487.9 1607.5,489.2 1606.9,490.6 1606,492.2 1605.7,493.2 1604.2,495.2 1603.9,496.4 1603.7,498.2 1602.7,500.1 1601.9,501.4 1601.4,503.4 1601.1,505 1599.4,506.2 1598.2,508.2 1596.4,509.3 1596,507.3 1595.9,505 1596.4,501.9 1596.6,500.4 1596.9,498 1596.9,496 1597.3,494.5 1597.6,492.8 1597,490.8 1596.9,489.4 1596.4,487.8 1596.5,485.6 1596.2,483.7 1595.7,482.2 1595.6,480.1 1594.8,478.4 1594.4,476.4 1594,474.5 1593.2,473.2 1592.3,470.7 1591.7,469.1 1590.7,467.7 1590.5,466.4 1589.9,464.1 1588.9,462.8 1588.1,461 1587.5,459.8 1587.6,458.3 1586.7,456.4 1586.2,454.9 1586,452.7 1586.2,450.6 1585.3,449.4 1585.5,447.3 1585.6,445.3 1586.2,443.8 1586,441.7 1586.7,440 1587.1,438.2 1587.2,436.6 1588.3,434.8 1588.2,432.9 1588.4,431.8 1588.9,430 1589.7,428.9 1591.5,426.7 1592.7,425.4 1593.7,424.3 1594.4,422.7 1595.7,421.1 1597.9,419.6 1595.3,419.3 1593.7,420.9 1592.5,422.5 1590.9,423.7 1590.3,425 1588.6,425.8 1587.3,427.3 1586.2,428.9 1584.7,430 1584.5,431.4 1584.2,433.4 1583.5,435.3 1583.6,436.2 1583.1,438.2 1583.1,439.7 1582.2,442 1582,443.7 1581.6,445.4 1581.1,447.3 1581.1,448.8 1581.1,451.1 1581.9,452.8 1582.1,454.5 1582,456.4 1582.4,457.9 1583.5,459.2 1583.7,460.9 1584.3,462.8 1585,464.2 1585.1,465.9 1585.7,467.8 1586.1,469.1 1586.3,471.3 1586.4,472.6 1586.8,474.2 1587.5,476.4 1587.9,478.4 1587.6,479.8 1588,482.1 1588.2,483.7 1588.6,485.7 1588.4,487 1588.3,488.9 1588.5,491 1588.6,492.8 1588,494.4 1588.3,496 1588.1,498.6 1588,500 1587.3,501.9 1586.8,505 1587.5,506.8 1587.7,508.7 1587.9,511 1588,512.4 1586.4,513 1584.9,514 1582.8,514.8 1584.8,515.4 1586.1,515.8 1588.4,515.9 1590,515 1591.4,514.1 1592.9,513.2 1594.4,513.6 1596.4,514.1 1596.4,515.7 1597.3,517.2 1597.6,519.3 1598.3,520.2 1598.5,522.2 1598.7,523.7 1598.7,525.4 1599.3,526.8 1600,529.3 1600.3,531 1600.9,532.4 1599.5,534.5 1599.1,535.8 1598.2,537.8 1597.2,539.1 1595.9,540.4 1594.2,541.4 1592.5,542 1590.6,543.3 1588.4,543.6 1587.1,543.9 1585.3,544.4 1583,544.4 1581.7,545.2 1579.5,545.4 1577.7,546.2 1576.2,546.7 1574.6,548.1 1576.1,549 1577.3,549.8 1578.9,549.8 1580.5,549.5 1582.7,549.3 1584.2,549.2 1585.8,549.4 1588.2,548.8 1589.7,548.9 1591.7,548.7 1592.4,550 1592.5,551.6 1593.5,553.4 1593.9,554.9 1593.8,556.8 1594,559 1596.4,558.4 1596.5,556.2 1597.1,554.2 1597.5,552.5 1598.7,551.6 1600.7,551.4 1601,553 1601.5,554.2 1602.4,556.2 1603.1,557.9 1602.2,559 1600.8,560.9 1599.8,562.5 1597.9,564.1 1596.7,564.4 1595.6,565.6 1594.2,567 1592.8,568 1590.9,568.8 1589.7,570.3 1588.3,569.3 1586.7,568.6 1585.1,567.6 1583.1,567 1581.4,565.7 1580.4,564.9 1578.6,563.7 1576.8,563.4 1575.4,564.3 1573.6,563.5 1571.4,563.7 1569.8,563.7 1568,564.4 1566.7,564.3 1566.7,566.8 1568.8,566.9 1570.6,567.5 1572.3,568.3 1574.1,567.8 1575.3,568.7 1577.3,569 1579.9,569.3 1581.7,570.3 1581.7,572.3 1581.9,573.7 1579.9,574.7 1578.6,575.9 1578,578.1 1578.1,579.6 1577.3,581.9 1577.3,586 1564.2,586" fill="#d2b48c" stroke="none" stroke-width="0" stroke-linejoin="round"/>
<polygon points="1661.2,368.2 1663.5,368.2 1665.7,367.9 1667.6,368 1669.3,367.7 1670.8,367.1 1672.2,366.9 1674.6,366.8 1676,366.5 1678,366 1679.4,366 1681.1,366 1683.1,366.1 1684.6,365.9 1686.8,366.5 1688.8,366.2 1691,365.4 1692.7,365.1 1694.6,363.7 1696.2,362.5 1697.8,361.6 1699.1,361.2 1700.9,360 1703,359.7 1704.3,358.8 1705.7,359.6 1703.6,361.2 1701.8,362.1 1700.6,363.3 1699,364.6 1698,365.3 1700,365 1701.8,364 1704,363.7 1705.5,363.4 1707.5,363.4 1709.2,363 1711.2,363.2 1713.3,363 1714,364 1712,364.9 1710.6,365.3 1709.3,366.2 1707.5,366.9 1705.7,367.7 1704.4,368.2 1703,369 1701.1,370.1 1699.6,371.1 1697.5,371.8 1696.1,372.5 1694.6,373.2 1692.7,373.5 1691.2,374.8 1689.6,375.3 1688.5,376.1 1686.5,376.3 1685,377 1683.2,377.9 1681.1,378.5 1679.8,379.2 1677.5,379.9 1676,380.2 1674,380.4 1672.6,381 1670.7,381.2 1669.2,381.1 1667.3,381.2 1665.7,381.7 1663.6,381.6 1662.2,382.3 1660.1,381.8 1658.8,382.3 1656.7,382.4 1654.9,382.2 1653.2,382.7 1651.4,382.4 1649.6,382.4 1650,380.5 1651.1,377.9 1652.2,376.7 1654.2,375.2 1655.6,374.5 1656.8,372.9" fill="#d2b48c" stroke="none" stroke-width="0" stroke-linejoin="round"/>
<polygon points="1739.1,350.2 1741,349.5 1743,348.7 1744.6,347.5 1746.6,347.7 1748.2,347.3 1749.7,348.2 1752.2,349.3 1753.7,350.1 1754.8,352.8 1753.4,352.6 1751.5,352.7 1749.9,353 1748.2,353 1746.1,353.1 1744.4,353.9 1742.8,353.9" fill="#d2b48c" stroke="none" stroke-width="0" stroke-linejoin="round"/>
<polygon points="1875.8,250 1877.5,250.2 1879.3,250.3 1880.9,250.3 1882,250 1884.3,250.1 1885.9,249.8 1887.2,249.8 1888.9,250.1 1890.1,249.8 1891.9,250.3 1893.9,249.8 1895.6,249.8 1897.1,249.8 1898.2,250.3 1900,249.8 1902.2,250.3 1903.3,250.3 1905.1,250.1 1906.5,250.3 1908.5,250.3 1910.3,249.9 1911.5,249.8 1913,249.7 1914.7,250.1 1916.2,250.1 1918.1,250 1916.6,251.4 1915.5,253.1 1913.9,254.7 1912.4,255.8 1911.3,256.6 1910.1,257.7 1908.3,259.2 1906.8,260 1904.7,260.5 1903.2,260.9 1901.6,261.4 1900.2,262.5 1899.2,264.7 1898.3,265.8 1896.6,267.5 1895.6,269.1 1893.9,270.3 1892.3,271.7 1891,273.4 1889.7,272.2 1888.2,270.8 1887.2,269.2 1886.7,267.6 1885.5,265.9 1884.9,263.7 1884.6,262.3 1883.8,260.3 1881.9,259.8 1880.2,258.7 1878.3,258" fill="#d2b48c" stroke="none" stroke-width="0" stroke-linejoin="round"/>
<polygon points="1563.9,248.9 1592.3,248.9 1588.4,256.7 1589.7,262.3 1588.4,267.8 1581.7,270.1 1577.3,274.7 1563.9,280.3" fill="#b4b4b4" stroke="none" stroke-width="0" stroke-linejoin="round"/>
<polyline points="1649.7,251.1 1647.4,255.6 1653,261.2 1657.4,269 1656.3,276.7 1659.1,279.5 1663.6,277.9 1664.7,284.5 1661.9,295.7 1659.7,306.8 1657.4,318 1654.1,329.1 1653.6,344 1653,340 1653.6,346.7 1653,354.5" fill="none" stroke="#97b6e1" stroke-width="1.65" stroke-linejoin="round" stroke-linecap="round"/>
<polyline points="1610.1,271.7 1612.9,275.6 1611.2,280.6 1617.4,284.5 1624,287.9 1631.8,288.4 1637.4,292.3 1646.3,291.2 1655.2,296.2 1661.3,297.3" fill="none" stroke="#97b6e1" stroke-width="1.65" stroke-linejoin="round" stroke-linecap="round"/>
<polyline points="1719.3,251.1 1719.8,260 1717.6,266.7 1720.9,275.6 1724.8,286.8 1725.4,295.7 1727,302.4 1732.1,301.9 1739.9,295.7 1742.6,294.6" fill="none" stroke="#97b6e1" stroke-width="1.65" stroke-linejoin="round" stroke-linecap="round"/>
<polyline points="1696.4,300.1 1692.9,306.8 1692,323.5 1691.4,334.7 1690.9,344 1690.3,340 1692,344.5 1699.2,351.7" fill="none" stroke="#97b6e1" stroke-width="1.65" stroke-linejoin="round" stroke-linecap="round"/>
<polyline points="1698.7,267.8 1697,282.3 1695.5,299.6" fill="none" stroke="#97b6e1" stroke-width="1.65" stroke-linejoin="round" stroke-linecap="round"/>
<polyline points="1581.2,271.7 1588.4,282.9 1582.8,284 1575.6,287.9 1573.4,292.3 1568.4,294.6 1567.8,302.4" fill="none" stroke="#97b6e1" stroke-width="1.65" stroke-linejoin="round" stroke-linecap="round"/>
<polyline points="1626.8,296.8 1625.2,302.4 1625.7,307.9 1620.7,311.3 1609.6,316.8 1606.2,322.4 1605.7,328" fill="none" stroke="#97b6e1" stroke-width="1.65" stroke-linejoin="round" stroke-linecap="round"/>
<polyline points="1634.6,311.8 1626.3,318 1620.7,322.4 1611.8,325.7" fill="none" stroke="#97b6e1" stroke-width="1.65" stroke-linejoin="round" stroke-linecap="round"/>
<polyline points="1581.2,328 1582.8,325.7 1587.3,323.5 1591.7,324.6 1596.2,323.5 1600.7,324.6 1601.8,328 1606.2,329.6" fill="none" stroke="#97b6e1" stroke-width="1.65" stroke-linejoin="round" stroke-linecap="round"/>
<polyline points="1581.2,329.1 1581.7,335.8 1587.3,339.1 1594,343 1586.7,340 1594,343.3 1599.5,347.8 1601.8,352.8 1597.3,357.8 1591.7,360.6 1587.3,363.9 1580.6,367.3 1573.4,369.5 1571.7,374.5 1569.5,380.1 1567.8,385.7 1568.9,390.1 1575,396.8 1581.7,403.5 1587.3,410.2 1591.7,416.8 1594.2,419.7" fill="none" stroke="#97b6e1" stroke-width="1.65" stroke-linejoin="round" stroke-linecap="round"/>
<polyline points="1566.7,356.7 1571.7,357.8 1570.6,362.3 1571.7,367.8 1573.4,369.5" fill="none" stroke="#97b6e1" stroke-width="1.65" stroke-linejoin="round" stroke-linecap="round"/>
<polyline points="1567.2,551.7 1570.6,552.9 1575,549.8" fill="none" stroke="#97b6e1" stroke-width="1.65" stroke-linejoin="round" stroke-linecap="round"/>
<polyline points="1567.7,465.3 1576.4,469.9 1586.4,475.9" fill="none" stroke="#97b6e1" stroke-width="1.65" stroke-linejoin="round" stroke-linecap="round"/>
<polyline points="1567.7,465.3 1576.4,469.9 1586.4,475.9" fill="none" stroke="#97b6e1" stroke-width="3.2" stroke-linejoin="round" stroke-linecap="round"/>
<polyline points="1592.9,279.8 1602.9,281.9" fill="none" stroke="#a9b4c6" stroke-width="1.6" stroke-linejoin="round" stroke-linecap="round"/>
<polyline points="1580.6,293.5 1581.7,297.3" fill="none" stroke="#a9b4c6" stroke-width="0.9" stroke-linejoin="round" stroke-linecap="round"/>
<polyline points="1583.4,291.8 1587.3,296.8" fill="none" stroke="#a9b4c6" stroke-width="0.9" stroke-linejoin="round" stroke-linecap="round"/>
<polyline points="1574.5,295.7 1575.6,302.4" fill="none" stroke="#a9b4c6" stroke-width="0.9" stroke-linejoin="round" stroke-linecap="round"/>
<polyline points="1576.7,303.5 1580.6,309" fill="none" stroke="#a9b4c6" stroke-width="0.9" stroke-linejoin="round" stroke-linecap="round"/>
<polyline points="1569.5,302.4 1570.6,312.4" fill="none" stroke="#a9b4c6" stroke-width="0.9" stroke-linejoin="round" stroke-linecap="round"/>
<polyline points="1725.9,262 1730.9,268.4" fill="none" stroke="#a9b4c6" stroke-width="1.8" stroke-linejoin="round" stroke-linecap="round"/>
<polyline points="1749.3,254.3 1752.7,257.8" fill="none" stroke="#a9b4c6" stroke-width="1.4" stroke-linejoin="round" stroke-linecap="round"/>
<polyline points="1668.6,250.8 1670.3,256.7 1669.1,266.2 1673,267.3 1673.7,273.4 1673.3,297.9 1673.7,300.1 1666.4,325.3 1665.8,344" fill="none" stroke="#000" stroke-width="1.5" stroke-linejoin="round" stroke-linecap="round"/>
<polyline points="1665.8,340 1666.4,356.7 1660.8,361.2 1660.2,363.9" fill="none" stroke="#000" stroke-width="1.5" stroke-linejoin="round" stroke-linecap="round"/>
<polyline points="1707,250.8 1702,260 1698.7,267.8 1696.4,282.3 1693.6,293.5 1695.5,299.6" fill="none" stroke="#000" stroke-width="1.5" stroke-linejoin="round" stroke-linecap="round"/>
<polyline points="1673.3,298.6 1695.5,300.1 1728.7,301.2 1734.3,296.8 1742.1,294.6 1744.3,293.7" fill="none" stroke="#000" stroke-width="1.5" stroke-linejoin="round" stroke-linecap="round"/>
<polyline points="1737.6,250.8 1738.7,273.4 1743.2,282.3 1746,285.7" fill="none" stroke="#000" stroke-width="1.5" stroke-linejoin="round" stroke-linecap="round"/>
<polyline points="1666.4,325.5 1686.4,326.4 1715.4,327 1727,327.5 1728.3,332.4" fill="none" stroke="#000" stroke-width="1.5" stroke-linejoin="round" stroke-linecap="round"/>
<polyline points="1715.1,327 1715.1,344 1715.4,340 1715.4,352.5" fill="none" stroke="#000" stroke-width="1.5" stroke-linejoin="round" stroke-linecap="round"/>
<polyline points="1566.7,328.5 1613.5,328.5 1617.4,332.4 1621.8,335.8 1622.9,344 1621.3,340 1622.9,344.5 1627.4,348.9 1631.8,351.4 1626.3,358.9 1620.7,366.7 1621.8,371.2 1618.5,375.6 1619.6,382.3 1624,386.8 1627.4,391.2 1631.8,397.3 1621.8,404" fill="none" stroke="#000" stroke-width="1.5" stroke-linejoin="round" stroke-linecap="round"/>
<polyline points="1631.8,352.5 1654.7,366.2" fill="none" stroke="#000" stroke-width="1.5" stroke-linejoin="round" stroke-linecap="round"/>
<polyline points="1566.7,413.5 1601.2,413.5" fill="none" stroke="#000" stroke-width="1.5" stroke-linejoin="round" stroke-linecap="round"/>
<polyline points="1601.8,413.5 1602.9,444 1602.3,440 1604,459.6 1622.3,460.2" fill="none" stroke="#000" stroke-width="1.5" stroke-linejoin="round" stroke-linecap="round"/>
<polyline points="1602,475.9 1610.7,476.7" fill="none" stroke="#000" stroke-width="1.5" stroke-linejoin="round" stroke-linecap="round"/>
<polyline points="1566.7,528 1594.2,528" fill="none" stroke="#000" stroke-width="1.5" stroke-linejoin="round" stroke-linecap="round"/>
<polyline points="1580.8,251.1 1577.8,256.7 1575,261.2 1571.7,263.9 1566.7,265.2" fill="none" stroke="#000" stroke-width="1.8" stroke-linejoin="round" stroke-linecap="round" stroke-dasharray="7 3" stroke-dashoffset="3" stroke-linecap="butt"/>
<polyline points="1786.2,250.7 1784.5,251.6 1783.2,252.5 1781.9,252.9 1779.9,254.5 1778.9,255 1777,255.5 1776,256.4 1774.2,257.1 1772.2,257.8 1770.7,258.2 1769,259.5 1767.3,260.1 1765.6,260.6 1764.3,261 1763,262.4 1761.2,262.7 1760,263.9 1761,262.8 1760.6,264.5 1759.7,266.5 1758.8,267.8 1757.9,269.7 1756.5,271.1 1755.4,272.3 1754.3,274.2 1753.6,274.9 1752.1,276.7 1750.8,278 1750.7,279.7 1749.3,281.2 1748.3,282.5 1747.1,284.1 1746,285.7 1745,288 1744.3,290.1 1744.1,292.2 1743.7,293.6 1743.4,296.3 1742.8,298.2 1744,300 1744.7,300.6 1745.5,302.3 1747.7,302.8 1749.3,302.6 1748.2,305.5 1746.3,306.1 1743.7,306.6 1742.5,307.7 1741,309.3 1740.1,310.5 1738.5,311.2 1737.5,312.8 1736.6,315.7 1738.4,317 1739.6,317.5 1741.4,317.8 1743.9,317.5 1745.2,319 1746.6,321.1 1747.2,323.6 1748.2,325.5 1746.6,328.2 1748.3,328.8 1749.3,330.2 1750.3,331.6 1751.1,333.9 1752.7,335.3 1753.9,337 1756,337.7 1757.5,338 1759.3,337.9 1761,337.1 1763.1,336.6 1764.8,336.6 1765,334.8 1765.7,333.2 1765.1,331.2 1764.2,329.8 1762.7,328.8 1761.9,327.1 1759.5,326 1760.1,324.5 1763,324.6 1764.4,326.2 1766.1,327 1767.6,328.8 1768.3,331 1768.6,332.6 1769,334.3 1769.2,336 1769.4,337.5 1769.5,339.6 1768.8,341.8 1768.5,343.7 1766.6,345.7 1765.5,342.8 1765.5,340.9 1765.9,339.3 1764.7,340 1762.7,340.3 1760.9,341.4 1759.3,342.1 1757.1,342.5 1755.8,342.3 1753.9,343 1752.2,344.3 1750.2,345.7 1748.7,343.9 1749.1,341.9 1749.3,340.3 1749.3,338.2 1746.6,338.4 1744.8,339.3 1743.4,340.7 1741.5,341.1 1740.2,342.1 1738.8,343.1 1737.1,344.3 1735.7,345.7 1734.2,347.1 1732.9,348.4 1732.3,346.7 1732.2,344.8 1731.4,343.7 1731.9,342.1 1732.1,339.8 1732.8,338.2 1731.2,336.6 1729.1,335.5 1727.5,336.8 1726.4,338.2 1726.3,339.7 1725.8,341.7 1725.7,343.7 1726.2,345.5 1726.5,347 1726.4,349.2 1724.8,350.2 1722.8,350.9 1721.5,351.2 1719.1,351.4 1717.5,352 1715.7,352.8 1714.1,353.3 1711.7,353 1710.5,353.6 1708.7,353.5 1706.6,353.9 1704.4,353.9 1703.2,354.1 1701,354.5 1699.3,354.8 1699.8,355.1 1698,355.1 1696.8,355.1 1694.3,356 1693.4,356.2 1691.4,356 1689.6,356.2 1688.3,355.4 1686.3,355.9 1684.3,355.4 1682.9,354.3 1681.1,356.3 1679.6,357.4 1677.5,358.3 1676,359.6 1674.3,359.9 1673.2,360.9 1672,361.5 1670.7,362.8 1668.9,363.4 1667.8,364.4 1666.2,364.8 1663.9,365.6 1662.5,365.9 1661.2,366.7 1659.9,368.2 1658.2,370 1656.8,371 1655.6,371.7 1654,373.1 1652.9,373.7 1651.4,374.8 1649.8,375.1 1648.5,376.3 1647.6,378.4 1646.6,380 1645.4,381.7 1645.2,383.3 1644,384.5 1646.4,386.5 1649,385.7 1650.9,385.8 1652.5,386.5 1652.8,388.7 1653,390.3 1652.4,391.9 1652.5,393.9 1652.6,395.7 1652.1,397.3 1652,398.6 1651,400.4 1651,402.4 1650.4,403.6 1650.9,406 1649.8,407.4 1649.9,409 1649.2,411.1 1648.8,413.5 1647.5,415.1 1646.6,416.3 1645.4,418 1643.7,419.3 1642.1,421 1641,422.4 1639.8,423.7 1637.8,424.9 1636.7,426.7 1635.4,428 1634.5,429.4 1633.4,431.1 1632.1,432.4 1631.2,433.7 1630.4,435.4 1629.5,436.8 1628.7,438 1628.2,439.7 1627.8,441.8 1625.3,441.5 1625.9,440.1 1626,438.3 1626.9,437.2 1627.5,435.3 1625.7,433.8 1624.3,433.4 1622.4,433.5 1620.2,432.9 1618.2,431.5 1616.6,430.2 1614.3,430.3 1612.6,429.8 1612.9,432.5 1613,434.6 1613.8,436.5 1614.4,438.3 1614.8,440 1615.3,441.5 1616.2,442.4 1617.8,443.7 1618.4,445.5 1619.9,446 1622.1,447.3 1622.7,448.8 1622.2,451.2 1623,452.8 1622.8,454.9 1623.4,456.7 1623.4,458.2 1623.4,460.1 1622.8,461.4 1622.1,463.7 1621.4,465.1 1620.4,466.1 1619.6,468.2 1618.4,469.1 1617.1,470.3 1616.7,472.2 1615.5,472.9 1614.8,474.6 1613.8,476.2 1613.5,477.4 1612.5,478.9 1611.7,480.3 1611.1,481.9 1610,483.3 1610.1,484.7 1609.2,485.9 1608.4,487.9 1607.5,489.2 1606.9,490.6 1606,492.2 1605.7,493.2 1604.2,495.2 1603.9,496.4 1603.7,498.2 1602.7,500.1 1601.9,501.4 1601.4,503.4 1601.1,505 1599.4,506.2 1598.2,508.2 1596.4,509.3 1596,507.3 1595.9,505 1596.4,501.9 1596.6,500.4 1596.9,498 1596.9,496 1597.3,494.5 1597.6,492.8 1597,490.8 1596.9,489.4 1596.4,487.8 1596.5,485.6 1596.2,483.7 1595.7,482.2 1595.6,480.1 1594.8,478.4 1594.4,476.4 1594,474.5 1593.2,473.2 1592.3,470.7 1591.7,469.1 1590.7,467.7 1590.5,466.4 1589.9,464.1 1588.9,462.8 1588.1,461 1587.5,459.8 1587.6,458.3 1586.7,456.4 1586.2,454.9 1586,452.7 1586.2,450.6 1585.3,449.4 1585.5,447.3 1585.6,445.3 1586.2,443.8 1586,441.7 1586.7,440 1587.1,438.2 1587.2,436.6 1588.3,434.8 1588.2,432.9 1588.4,431.8 1588.9,430 1589.7,428.9 1591.5,426.7 1592.7,425.4 1593.7,424.3 1594.4,422.7 1595.7,421.1 1597.9,419.6 1595.3,419.3 1593.7,420.9 1592.5,422.5 1590.9,423.7 1590.3,425 1588.6,425.8 1587.3,427.3 1586.2,428.9 1584.7,430 1584.5,431.4 1584.2,433.4 1583.5,435.3 1583.6,436.2 1583.1,438.2 1583.1,439.7 1582.2,442 1582,443.7 1581.6,445.4 1581.1,447.3 1581.1,448.8 1581.1,451.1 1581.9,452.8 1582.1,454.5 1582,456.4 1582.4,457.9 1583.5,459.2 1583.7,460.9 1584.3,462.8 1585,464.2 1585.1,465.9 1585.7,467.8 1586.1,469.1 1586.3,471.3 1586.4,472.6 1586.8,474.2 1587.5,476.4 1587.9,478.4 1587.6,479.8 1588,482.1 1588.2,483.7 1588.6,485.7 1588.4,487 1588.3,488.9 1588.5,491 1588.6,492.8 1588,494.4 1588.3,496 1588.1,498.6 1588,500 1587.3,501.9 1586.8,505 1587.5,506.8 1587.7,508.7 1587.9,511 1588,512.4 1586.4,513 1584.9,514 1582.8,514.8 1584.8,515.4 1586.1,515.8 1588.4,515.9 1590,515 1591.4,514.1 1592.9,513.2 1594.4,513.6 1596.4,514.1 1596.4,515.7 1597.3,517.2 1597.6,519.3 1598.3,520.2 1598.5,522.2 1598.7,523.7 1598.7,525.4 1599.3,526.8 1600,529.3 1600.3,531 1600.9,532.4 1599.5,534.5 1599.1,535.8 1598.2,537.8 1597.2,539.1 1595.9,540.4 1594.2,541.4 1592.5,542 1590.6,543.3 1588.4,543.6 1587.1,543.9 1585.3,544.4 1583,544.4 1581.7,545.2 1579.5,545.4 1577.7,546.2 1576.2,546.7 1574.6,548.1 1576.1,549 1577.3,549.8 1578.9,549.8 1580.5,549.5 1582.7,549.3 1584.2,549.2 1585.8,549.4 1588.2,548.8 1589.7,548.9 1591.7,548.7 1592.4,550 1592.5,551.6 1593.5,553.4 1593.9,554.9 1593.8,556.8 1594,559 1596.4,558.4 1596.5,556.2 1597.1,554.2 1597.5,552.5 1598.7,551.6 1600.7,551.4 1601,553 1601.5,554.2 1602.4,556.2 1603.1,557.9 1602.2,559 1600.8,560.9 1599.8,562.5 1597.9,564.1 1596.7,564.4 1595.6,565.6 1594.2,567 1592.8,568 1590.9,568.8 1589.7,570.3 1588.3,569.3 1586.7,568.6 1585.1,567.6 1583.1,567 1581.4,565.7 1580.4,564.9 1578.6,563.7 1576.8,563.4 1575.4,564.3 1573.6,563.5 1571.4,563.7 1569.8,563.7 1568,564.4 1566.7,564.3 1566.7,566.8 1568.8,566.9 1570.6,567.5 1572.3,568.3 1574.1,567.8 1575.3,568.7 1577.3,569 1579.9,569.3 1581.7,570.3 1581.7,572.3 1581.9,573.7 1579.9,574.7 1578.6,575.9 1578,578.1 1578.1,579.6 1577.3,581.9" fill="none" stroke="#000" stroke-width="1.9" stroke-linejoin="round" stroke-linecap="round"/>
<polyline points="1786.2,250.7 1784.5,251.6 1783.2,252.5 1781.9,252.9 1779.9,254.5 1778.9,255 1777,255.5 1776,256.4 1774.2,257.1 1772.2,257.8 1770.7,258.2 1769,259.5 1767.3,260.1 1765.6,260.6 1764.3,261 1763,262.4 1761.2,262.7 1760,263.9 1761,262.8 1760.6,264.5 1759.7,266.5 1758.8,267.8 1757.9,269.7 1756.5,271.1 1755.4,272.3 1754.3,274.2 1753.6,274.9 1752.1,276.7 1750.8,278 1750.7,279.7 1749.3,281.2 1748.3,282.5 1747.1,284.1 1746,285.7 1745,288 1744.3,290.1 1744.1,292.2 1743.7,293.6 1743.4,296.3 1742.8,298.2 1744,300 1744.7,300.6 1745.5,302.3 1747.7,302.8 1749.3,302.6 1748.2,305.5 1746.3,306.1 1743.7,306.6 1742.5,307.7 1741,309.3 1740.1,310.5 1738.5,311.2 1737.5,312.8 1736.6,315.7 1738.4,317 1739.6,317.5 1741.4,317.8 1743.9,317.5 1745.2,319 1746.6,321.1 1747.2,323.6 1748.2,325.5 1746.6,328.2 1748.3,328.8 1749.3,330.2 1750.3,331.6 1751.1,333.9 1752.7,335.3 1753.9,337 1756,337.7 1757.5,338 1759.3,337.9 1761,337.1 1763.1,336.6 1764.8,336.6 1765,334.8 1765.7,333.2 1765.1,331.2 1764.2,329.8 1762.7,328.8 1761.9,327.1 1759.5,326 1760.1,324.5 1763,324.6 1764.4,326.2 1766.1,327 1767.6,328.8 1768.3,331 1768.6,332.6 1769,334.3 1769.2,336 1769.4,337.5 1769.5,339.6 1768.8,341.8 1768.5,343.7 1766.6,345.7 1765.5,342.8 1765.5,340.9 1765.9,339.3 1764.7,340 1762.7,340.3 1760.9,341.4 1759.3,342.1 1757.1,342.5 1755.8,342.3 1753.9,343 1752.2,344.3 1750.2,345.7 1748.7,343.9 1749.1,341.9 1749.3,340.3 1749.3,338.2 1746.6,338.4 1744.8,339.3 1743.4,340.7 1741.5,341.1 1740.2,342.1 1738.8,343.1 1737.1,344.3 1735.7,345.7 1734.2,347.1 1732.9,348.4 1732.3,346.7 1732.2,344.8 1731.4,343.7 1731.9,342.1 1732.1,339.8 1732.8,338.2 1731.2,336.6 1729.1,335.5 1727.5,336.8 1726.4,338.2 1726.3,339.7 1725.8,341.7 1725.7,343.7 1726.2,345.5 1726.5,347 1726.4,349.2 1724.8,350.2 1722.8,350.9 1721.5,351.2 1719.1,351.4 1717.5,352 1715.7,352.8 1714.1,353.3 1711.7,353 1710.5,353.6 1708.7,353.5 1706.6,353.9 1704.4,353.9 1703.2,354.1 1701,354.5 1699.3,354.8 1699.8,355.1 1698,355.1 1696.8,355.1 1694.3,356 1693.4,356.2 1691.4,356 1689.6,356.2 1688.3,355.4 1686.3,355.9 1684.3,355.4 1682.9,354.3 1681.1,356.3 1679.6,357.4 1677.5,358.3 1676,359.6 1674.3,359.9 1673.2,360.9 1672,361.5 1670.7,362.8 1668.9,363.4 1667.8,364.4 1666.2,364.8 1663.9,365.6 1662.5,365.9 1661.2,366.7 1659.9,368.2 1658.2,370 1656.8,371 1655.6,371.7 1654,373.1 1652.9,373.7 1651.4,374.8 1649.8,375.1 1648.5,376.3 1647.6,378.4 1646.6,380 1645.4,381.7 1645.2,383.3 1644,384.5 1646.4,386.5 1649,385.7 1650.9,385.8 1652.5,386.5 1652.8,388.7 1653,390.3 1652.4,391.9 1652.5,393.9 1652.6,395.7 1652.1,397.3 1652,398.6 1651,400.4 1651,402.4 1650.4,403.6 1650.9,406 1649.8,407.4 1649.9,409 1649.2,411.1 1648.8,413.5 1647.5,415.1 1646.6,416.3 1645.4,418 1643.7,419.3 1642.1,421 1641,422.4 1639.8,423.7 1637.8,424.9 1636.7,426.7 1635.4,428 1634.5,429.4 1633.4,431.1 1632.1,432.4 1631.2,433.7 1630.4,435.4 1629.5,436.8 1628.7,438 1628.2,439.7 1627.8,441.8 1625.3,441.5 1625.9,440.1 1626,438.3 1626.9,437.2 1627.5,435.3 1625.7,433.8 1624.3,433.4 1622.4,433.5 1620.2,432.9 1618.2,431.5 1616.6,430.2 1614.3,430.3 1612.6,429.8 1612.9,432.5 1613,434.6 1613.8,436.5 1614.4,438.3 1614.8,440 1615.3,441.5 1616.2,442.4 1617.8,443.7 1618.4,445.5 1619.9,446 1622.1,447.3 1622.7,448.8 1622.2,451.2 1623,452.8 1622.8,454.9 1623.4,456.7 1623.4,458.2 1623.4,460.1 1622.8,461.4 1622.1,463.7 1621.4,465.1 1620.4,466.1 1619.6,468.2 1618.4,469.1 1617.1,470.3 1616.7,472.2 1615.5,472.9 1614.8,474.6 1613.8,476.2 1613.5,477.4 1612.5,478.9 1611.7,480.3 1611.1,481.9 1610,483.3 1610.1,484.7 1609.2,485.9 1608.4,487.9 1607.5,489.2 1606.9,490.6 1606,492.2 1605.7,493.2 1604.2,495.2 1603.9,496.4 1603.7,498.2 1602.7,500.1 1601.9,501.4 1601.4,503.4 1601.1,505 1599.4,506.2 1598.2,508.2 1596.4,509.3 1596,507.3 1595.9,505 1596.4,501.9 1596.6,500.4 1596.9,498 1596.9,496 1597.3,494.5 1597.6,492.8 1597,490.8 1596.9,489.4 1596.4,487.8 1596.5,485.6 1596.2,483.7 1595.7,482.2 1595.6,480.1 1594.8,478.4 1594.4,476.4 1594,474.5 1593.2,473.2 1592.3,470.7 1591.7,469.1 1590.7,467.7 1590.5,466.4 1589.9,464.1 1588.9,462.8 1588.1,461 1587.5,459.8 1587.6,458.3 1586.7,456.4 1586.2,454.9 1586,452.7 1586.2,450.6 1585.3,449.4 1585.5,447.3 1585.6,445.3 1586.2,443.8 1586,441.7 1586.7,440 1587.1,438.2 1587.2,436.6 1588.3,434.8 1588.2,432.9 1588.4,431.8 1588.9,430 1589.7,428.9 1591.5,426.7 1592.7,425.4 1593.7,424.3 1594.4,422.7 1595.7,421.1 1597.9,419.6 1595.3,419.3 1593.7,420.9 1592.5,422.5 1590.9,423.7 1590.3,425 1588.6,425.8 1587.3,427.3 1586.2,428.9 1584.7,430 1584.5,431.4 1584.2,433.4 1583.5,435.3 1583.6,436.2 1583.1,438.2 1583.1,439.7 1582.2,442 1582,443.7 1581.6,445.4 1581.1,447.3 1581.1,448.8 1581.1,451.1 1581.9,452.8 1582.1,454.5 1582,456.4 1582.4,457.9 1583.5,459.2 1583.7,460.9 1584.3,462.8 1585,464.2 1585.1,465.9 1585.7,467.8 1586.1,469.1 1586.3,471.3 1586.4,472.6 1586.8,474.2 1587.5,476.4 1587.9,478.4 1587.6,479.8 1588,482.1 1588.2,483.7 1588.6,485.7 1588.4,487 1588.3,488.9 1588.5,491 1588.6,492.8 1588,494.4 1588.3,496 1588.1,498.6 1588,500 1587.3,501.9 1586.8,505 1587.5,506.8 1587.7,508.7 1587.9,511 1588,512.4 1586.4,513 1584.9,514 1582.8,514.8 1584.8,515.4 1586.1,515.8 1588.4,515.9 1590,515 1591.4,514.1 1592.9,513.2 1594.4,513.6 1596.4,514.1 1596.4,515.7 1597.3,517.2 1597.6,519.3 1598.3,520.2 1598.5,522.2 1598.7,523.7 1598.7,525.4 1599.3,526.8 1600,529.3 1600.3,531 1600.9,532.4 1599.5,534.5 1599.1,535.8 1598.2,537.8 1597.2,539.1 1595.9,540.4 1594.2,541.4 1592.5,542 1590.6,543.3 1588.4,543.6 1587.1,543.9 1585.3,544.4 1583,544.4 1581.7,545.2 1579.5,545.4 1577.7,546.2 1576.2,546.7 1574.6,548.1 1576.1,549 1577.3,549.8 1578.9,549.8 1580.5,549.5 1582.7,549.3 1584.2,549.2 1585.8,549.4 1588.2,548.8 1589.7,548.9 1591.7,548.7 1592.4,550 1592.5,551.6 1593.5,553.4 1593.9,554.9 1593.8,556.8 1594,559 1596.4,558.4 1596.5,556.2 1597.1,554.2 1597.5,552.5 1598.7,551.6 1600.7,551.4 1601,553 1601.5,554.2 1602.4,556.2 1603.1,557.9 1602.2,559 1600.8,560.9 1599.8,562.5 1597.9,564.1 1596.7,564.4 1595.6,565.6 1594.2,567 1592.8,568 1590.9,568.8 1589.7,570.3 1588.3,569.3 1586.7,568.6 1585.1,567.6 1583.1,567 1581.4,565.7 1580.4,564.9 1578.6,563.7 1576.8,563.4 1575.4,564.3 1573.6,563.5 1571.4,563.7 1569.8,563.7 1568,564.4 1566.7,564.3 1566.7,566.8 1568.8,566.9 1570.6,567.5 1572.3,568.3 1574.1,567.8 1575.3,568.7 1577.3,569 1579.9,569.3 1581.7,570.3 1581.7,572.3 1581.9,573.7 1579.9,574.7 1578.6,575.9 1578,578.1 1578.1,579.6 1577.3,581.9" fill="none" stroke="#000" stroke-width="3.0" stroke-linejoin="round" stroke-linecap="round" stroke-dasharray="0.1 2.7"/>
<polyline points="1661.2,368.2 1663.5,368.2 1665.7,367.9 1667.6,368 1669.3,367.7 1670.8,367.1 1672.2,366.9 1674.6,366.8 1676,366.5 1678,366 1679.4,366 1681.1,366 1683.1,366.1 1684.6,365.9 1686.8,366.5 1688.8,366.2 1691,365.4 1692.7,365.1 1694.6,363.7 1696.2,362.5 1697.8,361.6 1699.1,361.2 1700.9,360 1703,359.7 1704.3,358.8 1705.7,359.6 1703.6,361.2 1701.8,362.1 1700.6,363.3 1699,364.6 1698,365.3 1700,365 1701.8,364 1704,363.7 1705.5,363.4 1707.5,363.4 1709.2,363 1711.2,363.2 1713.3,363 1714,364 1712,364.9 1710.6,365.3 1709.3,366.2 1707.5,366.9 1705.7,367.7 1704.4,368.2 1703,369 1701.1,370.1 1699.6,371.1 1697.5,371.8 1696.1,372.5 1694.6,373.2 1692.7,373.5 1691.2,374.8 1689.6,375.3 1688.5,376.1 1686.5,376.3 1685,377 1683.2,377.9 1681.1,378.5 1679.8,379.2 1677.5,379.9 1676,380.2 1674,380.4 1672.6,381 1670.7,381.2 1669.2,381.1 1667.3,381.2 1665.7,381.7 1663.6,381.6 1662.2,382.3 1660.1,381.8 1658.8,382.3 1656.7,382.4 1654.9,382.2 1653.2,382.7 1651.4,382.4 1649.6,382.4 1650,380.5 1651.1,377.9 1652.2,376.7 1654.2,375.2 1655.6,374.5 1656.8,372.9 1658,371.9 1658.7,370.5 1659.9,369.6 1661.2,368.2" fill="none" stroke="#000" stroke-width="1.9" stroke-linejoin="round" stroke-linecap="round"/>
<polyline points="1661.2,368.2 1663.5,368.2 1665.7,367.9 1667.6,368 1669.3,367.7 1670.8,367.1 1672.2,366.9 1674.6,366.8 1676,366.5 1678,366 1679.4,366 1681.1,366 1683.1,366.1 1684.6,365.9 1686.8,366.5 1688.8,366.2 1691,365.4 1692.7,365.1 1694.6,363.7 1696.2,362.5 1697.8,361.6 1699.1,361.2 1700.9,360 1703,359.7 1704.3,358.8 1705.7,359.6 1703.6,361.2 1701.8,362.1 1700.6,363.3 1699,364.6 1698,365.3 1700,365 1701.8,364 1704,363.7 1705.5,363.4 1707.5,363.4 1709.2,363 1711.2,363.2 1713.3,363 1714,364 1712,364.9 1710.6,365.3 1709.3,366.2 1707.5,366.9 1705.7,367.7 1704.4,368.2 1703,369 1701.1,370.1 1699.6,371.1 1697.5,371.8 1696.1,372.5 1694.6,373.2 1692.7,373.5 1691.2,374.8 1689.6,375.3 1688.5,376.1 1686.5,376.3 1685,377 1683.2,377.9 1681.1,378.5 1679.8,379.2 1677.5,379.9 1676,380.2 1674,380.4 1672.6,381 1670.7,381.2 1669.2,381.1 1667.3,381.2 1665.7,381.7 1663.6,381.6 1662.2,382.3 1660.1,381.8 1658.8,382.3 1656.7,382.4 1654.9,382.2 1653.2,382.7 1651.4,382.4 1649.6,382.4 1650,380.5 1651.1,377.9 1652.2,376.7 1654.2,375.2 1655.6,374.5 1656.8,372.9 1658,371.9 1658.7,370.5 1659.9,369.6 1661.2,368.2" fill="none" stroke="#000" stroke-width="3.0" stroke-linejoin="round" stroke-linecap="round" stroke-dasharray="0.1 2.7"/>
<polyline points="1739.1,350.2 1741,349.5 1743,348.7 1744.6,347.5 1746.6,347.7 1748.2,347.3 1749.7,348.2 1752.2,349.3 1753.7,350.1 1754.8,352.8 1753.4,352.6 1751.5,352.7 1749.9,353 1748.2,353 1746.1,353.1 1744.4,353.9 1742.8,353.9 1741.7,352.4 1740.6,351.2 1739.1,350.2" fill="none" stroke="#000" stroke-width="1.9" stroke-linejoin="round" stroke-linecap="round"/>
<polyline points="1739.1,350.2 1741,349.5 1743,348.7 1744.6,347.5 1746.6,347.7 1748.2,347.3 1749.7,348.2 1752.2,349.3 1753.7,350.1 1754.8,352.8 1753.4,352.6 1751.5,352.7 1749.9,353 1748.2,353 1746.1,353.1 1744.4,353.9 1742.8,353.9 1741.7,352.4 1740.6,351.2 1739.1,350.2" fill="none" stroke="#000" stroke-width="3.0" stroke-linejoin="round" stroke-linecap="round" stroke-dasharray="0.1 2.7"/>
<polyline points="1875.8,250 1877.5,250.2 1879.3,250.3 1880.9,250.3 1882,250 1884.3,250.1 1885.9,249.8 1887.2,249.8 1888.9,250.1 1890.1,249.8 1891.9,250.3 1893.9,249.8 1895.6,249.8 1897.1,249.8 1898.2,250.3 1900,249.8 1902.2,250.3 1903.3,250.3 1905.1,250.1 1906.5,250.3 1908.5,250.3 1910.3,249.9 1911.5,249.8 1913,249.7 1914.7,250.1 1916.2,250.1 1918.1,250 1916.6,251.4 1915.5,253.1 1913.9,254.7 1912.4,255.8 1911.3,256.6 1910.1,257.7 1908.3,259.2 1906.8,260 1904.7,260.5 1903.2,260.9 1901.6,261.4 1900.2,262.5 1899.2,264.7 1898.3,265.8 1896.6,267.5 1895.6,269.1 1893.9,270.3 1892.3,271.7 1891,273.4 1889.7,272.2 1888.2,270.8 1887.2,269.2 1886.7,267.6 1885.5,265.9 1884.9,263.7 1884.6,262.3 1883.8,260.3 1881.9,259.8 1880.2,258.7 1878.3,258 1877.6,256.2 1877,254.6 1876.9,253.6 1876.1,251.3 1875.8,250" fill="none" stroke="#000" stroke-width="1.9" stroke-linejoin="round" stroke-linecap="round"/>
<polyline points="1875.8,250 1877.5,250.2 1879.3,250.3 1880.9,250.3 1882,250 1884.3,250.1 1885.9,249.8 1887.2,249.8 1888.9,250.1 1890.1,249.8 1891.9,250.3 1893.9,249.8 1895.6,249.8 1897.1,249.8 1898.2,250.3 1900,249.8 1902.2,250.3 1903.3,250.3 1905.1,250.1 1906.5,250.3 1908.5,250.3 1910.3,249.9 1911.5,249.8 1913,249.7 1914.7,250.1 1916.2,250.1 1918.1,250 1916.6,251.4 1915.5,253.1 1913.9,254.7 1912.4,255.8 1911.3,256.6 1910.1,257.7 1908.3,259.2 1906.8,260 1904.7,260.5 1903.2,260.9 1901.6,261.4 1900.2,262.5 1899.2,264.7 1898.3,265.8 1896.6,267.5 1895.6,269.1 1893.9,270.3 1892.3,271.7 1891,273.4 1889.7,272.2 1888.2,270.8 1887.2,269.2 1886.7,267.6 1885.5,265.9 1884.9,263.7 1884.6,262.3 1883.8,260.3 1881.9,259.8 1880.2,258.7 1878.3,258 1877.6,256.2 1877,254.6 1876.9,253.6 1876.1,251.3 1875.8,250" fill="none" stroke="#000" stroke-width="3.0" stroke-linejoin="round" stroke-linecap="round" stroke-dasharray="0.1 2.7"/>
<polyline points="1600.9,532.4 1601.4,534 1601.8,535.9 1602.3,537.4 1603.2,538.8 1603.6,540.8 1603.9,542.3 1604.7,544 1604,542.3 1604.8,543.8 1605.5,545.2 1606,546.7 1606.8,548.6 1607.5,550 1608.1,551.6 1608.9,553 1609.2,554.6 1610.1,556.5 1610.5,557.8 1610.9,559.6 1611.6,561.4 1611.2,563.2 1610.9,564.9 1611,566.2 1610.5,568 1610.1,569.7 1610.2,571.2 1609.8,573 1607.6,573.7 1605.3,574.8 1603.8,575.8 1602.1,576.2 1600.5,577.3 1599,577.9 1597.7,579.2 1596.1,579.7 1594.7,580.4 1593.1,581.5 1591.7,582.6" fill="none" stroke="#000" stroke-width="2.3" stroke-linejoin="round" stroke-linecap="round"/>
<polyline points="1756.9,352.8 1758.2,353.7 1759.9,354.6 1761,355.5 1763.3,356.1 1765.5,356.6 1767.9,354.8 1766.6,353 1765.7,351.2" fill="none" stroke="#000" stroke-width="2.2" stroke-linejoin="round" stroke-linecap="round"/>
<polyline points="1612.6,429.8 1609.9,425.6 1607.5,421.8 1612,410.9 1609.6,409.3 1604.2,409.7 1601.3,413.5" fill="none" stroke="#000" stroke-width="1.3" stroke-linejoin="round" stroke-linecap="round"/>
<polyline points="1760,266.7 1761.6,266.1 1762.3,265.4 1762.2,264 1764.3,263.4 1764.5,261.7 1765.9,260.8 1767,261.9 1767.7,260.4 1770.6,260.3 1771.1,260 1771.7,259 1774.1,258.4 1774.3,258.3 1776.1,257.4 1776.7,256.7 1777.3,256.4 1778.7,255.1 1780.3,255.8 1782.3,255 1783,254.9 1784,253.5 1784.9,254.1 1787.5,252.8 1787.6,252 1789.2,252.5" fill="none" stroke="#000" stroke-width="2.53" stroke-linejoin="round" stroke-linecap="round"/>
<polyline points="1760,266.7 1761.6,266.1 1762.3,265.4 1762.2,264 1764.3,263.4 1764.5,261.7 1765.9,260.8 1767,261.9 1767.7,260.4 1770.6,260.3 1771.1,260 1771.7,259 1774.1,258.4 1774.3,258.3 1776.1,257.4 1776.7,256.7 1777.3,256.4 1778.7,255.1 1780.3,255.8 1782.3,255 1783,254.9 1784,253.5 1784.9,254.1 1787.5,252.8 1787.6,252 1789.2,252.5" fill="none" stroke="#000" stroke-width="4.6" stroke-linejoin="round" stroke-linecap="round" stroke-dasharray="0.1 3.7"/>
<polyline points="1760,262.3 1760.5,261.9 1762.5,260.7 1762.8,260.6 1765,259.3 1765.6,258.1 1766.7,257.8 1766.9,257 1769.1,255.9 1770.6,255.7 1770.7,254.8 1773.1,255.5 1773.4,254.5 1775.3,254.4 1775.1,253.5 1777.2,252.8 1779.3,253 1779.1,253.5 1780.3,253.3 1782.3,252.2" fill="none" stroke="#000" stroke-width="1.7600000000000002" stroke-linejoin="round" stroke-linecap="round"/>
<polyline points="1760,262.3 1760.5,261.9 1762.5,260.7 1762.8,260.6 1765,259.3 1765.6,258.1 1766.7,257.8 1766.9,257 1769.1,255.9 1770.6,255.7 1770.7,254.8 1773.1,255.5 1773.4,254.5 1775.3,254.4 1775.1,253.5 1777.2,252.8 1779.3,253 1779.1,253.5 1780.3,253.3 1782.3,252.2" fill="none" stroke="#000" stroke-width="3.2" stroke-linejoin="round" stroke-linecap="round" stroke-dasharray="0.1 2.6"/>
<polyline points="1760,258.4 1761.9,257.1 1761.4,257.9 1762.8,255.7 1764.7,255.4 1765.6,255 1767.6,254 1769.1,253.7 1769.8,254.3 1771.2,253.7 1772.2,252.5" fill="none" stroke="#000" stroke-width="1.375" stroke-linejoin="round" stroke-linecap="round"/>
<polyline points="1760,258.4 1761.9,257.1 1761.4,257.9 1762.8,255.7 1764.7,255.4 1765.6,255 1767.6,254 1769.1,253.7 1769.8,254.3 1771.2,253.7 1772.2,252.5" fill="none" stroke="#000" stroke-width="2.5" stroke-linejoin="round" stroke-linecap="round" stroke-dasharray="0.1 2"/>
<polyline points="1774.9,254.5 1774.5,255.6 1773.3,254.4 1771.5,255.3 1770.2,255.1 1768.4,256 1767.3,256.3 1766.6,256.7 1764.8,256.8 1765.2,258.3 1763.9,259.8 1762.8,259.5 1762.1,261.2 1762.1,262.4 1761.3,263.6 1761.3,264.3 1760.4,265.4 1759.3,266.7 1758.8,268 1757.7,268 1757.3,270.1 1756.8,270.6 1756,271.7" fill="none" stroke="#000" stroke-width="1.7600000000000002" stroke-linejoin="round" stroke-linecap="round"/>
<polyline points="1774.9,254.5 1774.5,255.6 1773.3,254.4 1771.5,255.3 1770.2,255.1 1768.4,256 1767.3,256.3 1766.6,256.7 1764.8,256.8 1765.2,258.3 1763.9,259.8 1762.8,259.5 1762.1,261.2 1762.1,262.4 1761.3,263.6 1761.3,264.3 1760.4,265.4 1759.3,266.7 1758.8,268 1757.7,268 1757.3,270.1 1756.8,270.6 1756,271.7" fill="none" stroke="#000" stroke-width="3.2" stroke-linejoin="round" stroke-linecap="round" stroke-dasharray="0.1 2.6"/>
<polyline points="1726.4,334.6 1727.7,336.1 1727.6,337.3 1728.6,337.6 1730,338.2 1729.1,340.1 1729,341.3 1729.8,342.8 1729.1,343.7 1729.6,345.6 1731.2,345.4 1730.9,347.3 1729.8,347.6 1729,346 1727.3,345.5 1726.7,345 1726.1,343.3 1727.2,340.8 1726.4,340.1" fill="none" stroke="#000" stroke-width="3.0250000000000004" stroke-linejoin="round" stroke-linecap="round"/>
<polyline points="1726.4,334.6 1727.7,336.1 1727.6,337.3 1728.6,337.6 1730,338.2 1729.1,340.1 1729,341.3 1729.8,342.8 1729.1,343.7 1729.6,345.6 1731.2,345.4 1730.9,347.3 1729.8,347.6 1729,346 1727.3,345.5 1726.7,345 1726.1,343.3 1727.2,340.8 1726.4,340.1" fill="none" stroke="#000" stroke-width="5.5" stroke-linejoin="round" stroke-linecap="round" stroke-dasharray="0.1 4.4"/>
<polyline points="1732.8,348.2 1733.7,348.1 1735.7,346 1736.8,345.9 1737.3,344.8 1737.6,344.9 1739.2,343 1740.6,342.8 1741.9,341.9 1742.3,341.5 1744.7,340.5 1745.8,340.1 1746.4,339.1 1747.8,337.7 1747.9,337.4 1749,336.6" fill="none" stroke="#000" stroke-width="1.6500000000000001" stroke-linejoin="round" stroke-linecap="round"/>
<polyline points="1732.8,348.2 1733.7,348.1 1735.7,346 1736.8,345.9 1737.3,344.8 1737.6,344.9 1739.2,343 1740.6,342.8 1741.9,341.9 1742.3,341.5 1744.7,340.5 1745.8,340.1 1746.4,339.1 1747.8,337.7 1747.9,337.4 1749,336.6" fill="none" stroke="#000" stroke-width="3.0" stroke-linejoin="round" stroke-linecap="round" stroke-dasharray="0.1 2.4"/>
<polyline points="1739.1,350.2 1740.9,349.4 1741.3,349.9 1742.4,349.9 1744.6,349.2 1746.4,348.4 1747.7,349.4 1748.9,350.3 1750.1,349.6 1752.1,350.2 1753.1,351.6 1753.7,351.9" fill="none" stroke="#000" stroke-width="1.4300000000000002" stroke-linejoin="round" stroke-linecap="round"/>
<polyline points="1739.1,350.2 1740.9,349.4 1741.3,349.9 1742.4,349.9 1744.6,349.2 1746.4,348.4 1747.7,349.4 1748.9,350.3 1750.1,349.6 1752.1,350.2 1753.1,351.6 1753.7,351.9" fill="none" stroke="#000" stroke-width="2.6" stroke-linejoin="round" stroke-linecap="round" stroke-dasharray="0.1 2.1"/>
<polyline points="1592,429.1 1592.6,430.8 1593.4,431.2 1592,433.6 1592.8,434.1 1593.9,435 1594.3,436.9 1593.8,438.2 1592.9,440.3 1593.7,440 1594.1,442.6 1593.8,443.7 1594.1,443.8 1593.9,446.3 1592.9,447.3 1591.8,446.4 1591.3,445.3 1591.3,443.9 1590.2,442.7 1589.6,441.3 1590,440.6 1591.2,439.3 1590.6,437 1591,435.8 1591.6,434.4 1590.8,433.6 1592.1,431.4 1592.2,430.6 1592.2,429.6" fill="none" stroke="#000" stroke-width="2.4200000000000004" stroke-linejoin="round" stroke-linecap="round"/>
<polyline points="1592,429.1 1592.6,430.8 1593.4,431.2 1592,433.6 1592.8,434.1 1593.9,435 1594.3,436.9 1593.8,438.2 1592.9,440.3 1593.7,440 1594.1,442.6 1593.8,443.7 1594.1,443.8 1593.9,446.3 1592.9,447.3 1591.8,446.4 1591.3,445.3 1591.3,443.9 1590.2,442.7 1589.6,441.3 1590,440.6 1591.2,439.3 1590.6,437 1591,435.8 1591.6,434.4 1590.8,433.6 1592.1,431.4 1592.2,430.6 1592.2,429.6" fill="none" stroke="#000" stroke-width="4.4" stroke-linejoin="round" stroke-linecap="round" stroke-dasharray="0.1 3.5"/>
<polyline points="1592,447.3 1592.3,447.6 1594.1,448.6 1594.2,450.1 1595.7,450.6 1596.8,452 1597.1,450.8" fill="none" stroke="#000" stroke-width="1.6500000000000001" stroke-linejoin="round" stroke-linecap="round"/>
<polyline points="1592,447.3 1592.3,447.6 1594.1,448.6 1594.2,450.1 1595.7,450.6 1596.8,452 1597.1,450.8" fill="none" stroke="#000" stroke-width="3.0" stroke-linejoin="round" stroke-linecap="round" stroke-dasharray="0.1 2.4"/>
<polyline points="1590,459.1 1591.2,459.6 1592.9,460.3 1593.4,461.1 1594.4,463 1595.7,462.9 1596.4,462.5 1598.1,462.1 1600,462 1601.2,463.2 1600.7,464.7 1601.1,466.2 1600.3,467.6 1601.1,469.1 1601.2,471 1601.7,471.3 1602.1,472.9 1602,474.6 1601.7,475.3 1601.2,477.5 1601.1,478.7 1601.2,479.6 1600.6,480.5 1600,481.9 1598.9,483.3 1597.3,483.7 1596.4,483.1 1596.7,480.3 1596.1,479.3 1596.6,478.2 1595.7,476.7 1596.1,475.8 1596.1,474.9 1596.3,472.5 1595.9,471.4 1596.1,470.6 1595.8,469.6 1595.4,467.5 1593.8,467.7 1592.9,466.5 1593.3,464.6" fill="none" stroke="#000" stroke-width="2.8600000000000003" stroke-linejoin="round" stroke-linecap="round"/>
<polyline points="1590,459.1 1591.2,459.6 1592.9,460.3 1593.4,461.1 1594.4,463 1595.7,462.9 1596.4,462.5 1598.1,462.1 1600,462 1601.2,463.2 1600.7,464.7 1601.1,466.2 1600.3,467.6 1601.1,469.1 1601.2,471 1601.7,471.3 1602.1,472.9 1602,474.6 1601.7,475.3 1601.2,477.5 1601.1,478.7 1601.2,479.6 1600.6,480.5 1600,481.9 1598.9,483.3 1597.3,483.7 1596.4,483.1 1596.7,480.3 1596.1,479.3 1596.6,478.2 1595.7,476.7 1596.1,475.8 1596.1,474.9 1596.3,472.5 1595.9,471.4 1596.1,470.6 1595.8,469.6 1595.4,467.5 1593.8,467.7 1592.9,466.5 1593.3,464.6" fill="none" stroke="#000" stroke-width="5.2" stroke-linejoin="round" stroke-linecap="round" stroke-dasharray="0.1 4.2"/>
<polyline points="1602.8,478.2 1602.4,479.1 1601,481 1600.9,481.6 1600.8,483.5 1601.4,484.4 1600.9,486.6 1599.1,486.2 1599.1,488.2 1598.3,490.2 1598.8,491.6 1599.3,492.4 1598.3,492.7 1597.1,495.3 1598,496.5 1597.5,497.3 1597.4,498.9 1597.4,500.6 1596.2,501.2 1596.4,503 1597.3,503.3 1596.4,505" fill="none" stroke="#000" stroke-width="1.6500000000000001" stroke-linejoin="round" stroke-linecap="round"/>
<polyline points="1602.8,478.2 1602.4,479.1 1601,481 1600.9,481.6 1600.8,483.5 1601.4,484.4 1600.9,486.6 1599.1,486.2 1599.1,488.2 1598.3,490.2 1598.8,491.6 1599.3,492.4 1598.3,492.7 1597.1,495.3 1598,496.5 1597.5,497.3 1597.4,498.9 1597.4,500.6 1596.2,501.2 1596.4,503 1597.3,503.3 1596.4,505" fill="none" stroke="#000" stroke-width="3.0" stroke-linejoin="round" stroke-linecap="round" stroke-dasharray="0.1 2.4"/>
<polyline points="1620.2,465.5 1618.7,466 1618.7,468.2 1617.6,468.3 1617.2,470.6 1616.4,471.8 1616.6,471.9 1615.7,473.7 1615.2,474.7 1614.4,476.9 1613.2,476.2 1614.2,478.1 1612.3,479.1 1612,481.3 1611.2,481.1 1611.1,482.8 1610.7,484 1610.8,485.7 1609.2,485.7 1609.5,488.2 1607.4,488.9 1608.4,489.9 1606.6,491.3 1606.6,491.9 1606.4,492.5 1605.6,493.8 1603.9,495.2 1603.9,496.5 1603.8,498.6 1602.9,499.2 1603.2,501.2 1602.7,502 1600.9,502.1 1600.8,503.9 1600,505" fill="none" stroke="#000" stroke-width="1.87" stroke-linejoin="round" stroke-linecap="round"/>
<polyline points="1620.2,465.5 1618.7,466 1618.7,468.2 1617.6,468.3 1617.2,470.6 1616.4,471.8 1616.6,471.9 1615.7,473.7 1615.2,474.7 1614.4,476.9 1613.2,476.2 1614.2,478.1 1612.3,479.1 1612,481.3 1611.2,481.1 1611.1,482.8 1610.7,484 1610.8,485.7 1609.2,485.7 1609.5,488.2 1607.4,488.9 1608.4,489.9 1606.6,491.3 1606.6,491.9 1606.4,492.5 1605.6,493.8 1603.9,495.2 1603.9,496.5 1603.8,498.6 1602.9,499.2 1603.2,501.2 1602.7,502 1600.9,502.1 1600.8,503.9 1600,505" fill="none" stroke="#000" stroke-width="3.4" stroke-linejoin="round" stroke-linecap="round" stroke-dasharray="0.1 2.7"/>
<polyline points="1578.2,429.1 1577.6,429.9 1578.3,432.4 1578.8,433.4 1578.3,434.3 1579.9,435.6 1580.2,437.6 1579.7,438.2 1579.6,438.6 1580.4,440.1 1579.2,442.5 1580.8,444 1581.1,444.2 1579.7,445.3 1580.6,447.3 1581.6,447.9 1580.3,449 1580.3,450.4 1581,451.9 1581.1,454.6 1581.1,455.7 1581.8,456.4 1582.7,457.8 1582.8,459.4 1583.2,459.7 1583.1,461 1583.8,462.8" fill="none" stroke="#000" stroke-width="1.9800000000000002" stroke-linejoin="round" stroke-linecap="round"/>
<polyline points="1578.2,429.1 1577.6,429.9 1578.3,432.4 1578.8,433.4 1578.3,434.3 1579.9,435.6 1580.2,437.6 1579.7,438.2 1579.6,438.6 1580.4,440.1 1579.2,442.5 1580.8,444 1581.1,444.2 1579.7,445.3 1580.6,447.3 1581.6,447.9 1580.3,449 1580.3,450.4 1581,451.9 1581.1,454.6 1581.1,455.7 1581.8,456.4 1582.7,457.8 1582.8,459.4 1583.2,459.7 1583.1,461 1583.8,462.8" fill="none" stroke="#000" stroke-width="3.6" stroke-linejoin="round" stroke-linecap="round" stroke-dasharray="0.1 2.9"/>
<polyline points="1578.2,429.1 1579.3,428.6 1580.8,427.2 1581.5,427.5 1583,425.5 1583.5,425.5 1584.3,425.4 1585.3,423.7 1587.1,423.3 1587.3,422.3 1588.2,421.6 1589.9,420.7 1591.4,421.6 1592.3,421.4 1594.5,420.5 1595,420" fill="none" stroke="#000" stroke-width="1.7600000000000002" stroke-linejoin="round" stroke-linecap="round"/>
<polyline points="1578.2,429.1 1579.3,428.6 1580.8,427.2 1581.5,427.5 1583,425.5 1583.5,425.5 1584.3,425.4 1585.3,423.7 1587.1,423.3 1587.3,422.3 1588.2,421.6 1589.9,420.7 1591.4,421.6 1592.3,421.4 1594.5,420.5 1595,420" fill="none" stroke="#000" stroke-width="3.2" stroke-linejoin="round" stroke-linecap="round" stroke-dasharray="0.1 2.6"/>
<polyline points="1597.3,419.3 1596.3,420.2 1595.7,421.5 1594.7,421.2 1593.7,422.1 1591.7,423 1590.3,423.2 1589.5,424.3 1588,426.1 1587.3,426.9 1586.8,428.3 1584.6,428 1583.9,429.9 1583.4,430.8 1582.5,431.3 1581.2,430.9 1578.9,430.8" fill="none" stroke="#000" stroke-width="1.6500000000000001" stroke-linejoin="round" stroke-linecap="round"/>
<polyline points="1597.3,419.3 1596.3,420.2 1595.7,421.5 1594.7,421.2 1593.7,422.1 1591.7,423 1590.3,423.2 1589.5,424.3 1588,426.1 1587.3,426.9 1586.8,428.3 1584.6,428 1583.9,429.9 1583.4,430.8 1582.5,431.3 1581.2,430.9 1578.9,430.8" fill="none" stroke="#000" stroke-width="3.0" stroke-linejoin="round" stroke-linecap="round" stroke-dasharray="0.1 2.4"/>
<polyline points="1567.3,462.8 1568.6,463.8 1570.3,464.5 1570.7,465.2 1572.5,465.4 1573.6,465.5 1575.2,467 1575.4,466.6 1577.2,467.7 1578.3,468 1579.8,468 1580,469.6 1581.5,470 1581.3,471.3 1582.4,471.2 1583.9,471.7 1584.7,472.2 1586.4,473.7" fill="none" stroke="#000" stroke-width="1.54" stroke-linejoin="round" stroke-linecap="round"/>
<polyline points="1567.3,462.8 1568.6,463.8 1570.3,464.5 1570.7,465.2 1572.5,465.4 1573.6,465.5 1575.2,467 1575.4,466.6 1577.2,467.7 1578.3,468 1579.8,468 1580,469.6 1581.5,470 1581.3,471.3 1582.4,471.2 1583.9,471.7 1584.7,472.2 1586.4,473.7" fill="none" stroke="#000" stroke-width="2.8" stroke-linejoin="round" stroke-linecap="round" stroke-dasharray="0.1 2.2"/>
<polyline points="1567.3,468.2 1568.2,469.6 1570.5,469.9 1571.4,470.4 1571.2,470.4 1572.9,471.1 1574.6,471.1 1575.5,471.9 1576.7,472.6 1578.3,474 1578.4,474.3 1580.5,474.2 1580.1,475 1581.8,475.7 1583.4,476.3 1583.5,477.1 1584.8,478 1585.6,478 1587.3,478.4" fill="none" stroke="#000" stroke-width="1.54" stroke-linejoin="round" stroke-linecap="round"/>
<polyline points="1567.3,468.2 1568.2,469.6 1570.5,469.9 1571.4,470.4 1571.2,470.4 1572.9,471.1 1574.6,471.1 1575.5,471.9 1576.7,472.6 1578.3,474 1578.4,474.3 1580.5,474.2 1580.1,475 1581.8,475.7 1583.4,476.3 1583.5,477.1 1584.8,478 1585.6,478 1587.3,478.4" fill="none" stroke="#000" stroke-width="2.8" stroke-linejoin="round" stroke-linecap="round" stroke-dasharray="0.1 2.2"/>
<polyline points="1569.1,476.9 1570.5,477 1571.4,479.2 1572.8,479.4 1573.5,480 1574.3,480.4 1575.7,482.1 1576.4,482.8 1577,483.5 1578.9,484.5 1580.4,486.4 1581.2,485.7 1580.9,487 1582.7,488.2 1583.6,489.5 1585.5,490.2 1586.3,491.1 1586.3,491.9 1588.2,492.8" fill="none" stroke="#000" stroke-width="1.87" stroke-linejoin="round" stroke-linecap="round"/>
<polyline points="1569.1,476.9 1570.5,477 1571.4,479.2 1572.8,479.4 1573.5,480 1574.3,480.4 1575.7,482.1 1576.4,482.8 1577,483.5 1578.9,484.5 1580.4,486.4 1581.2,485.7 1580.9,487 1582.7,488.2 1583.6,489.5 1585.5,490.2 1586.3,491.1 1586.3,491.9 1588.2,492.8" fill="none" stroke="#000" stroke-width="3.4" stroke-linejoin="round" stroke-linecap="round" stroke-dasharray="0.1 2.7"/>
<polyline points="1572.3,492.8 1573.5,493.4 1574.7,493.5 1575.6,494.8 1576.4,495.2 1576.9,496.2 1578.2,497.3 1579,498.5 1580.3,499.7 1581.5,499.1 1582.6,500.4 1582.9,501.2 1584.6,501.9" fill="none" stroke="#000" stroke-width="1.7600000000000002" stroke-linejoin="round" stroke-linecap="round"/>
<polyline points="1572.3,492.8 1573.5,493.4 1574.7,493.5 1575.6,494.8 1576.4,495.2 1576.9,496.2 1578.2,497.3 1579,498.5 1580.3,499.7 1581.5,499.1 1582.6,500.4 1582.9,501.2 1584.6,501.9" fill="none" stroke="#000" stroke-width="3.2" stroke-linejoin="round" stroke-linecap="round" stroke-dasharray="0.1 2.6"/>
<polyline points="1567.5,503.3 1568.2,503.5 1569.4,503.9 1571.3,504.8 1571.9,504.7 1573,505.9 1574.5,506.4 1575.3,505.3 1577.3,506.6 1578.3,507 1580.1,508.4 1580.8,508 1582.4,508.9 1582.8,509.2 1583.5,510.5 1584.7,510.1 1586.7,511.3" fill="none" stroke="#000" stroke-width="1.9800000000000002" stroke-linejoin="round" stroke-linecap="round"/>
<polyline points="1567.5,503.3 1568.2,503.5 1569.4,503.9 1571.3,504.8 1571.9,504.7 1573,505.9 1574.5,506.4 1575.3,505.3 1577.3,506.6 1578.3,507 1580.1,508.4 1580.8,508 1582.4,508.9 1582.8,509.2 1583.5,510.5 1584.7,510.1 1586.7,511.3" fill="none" stroke="#000" stroke-width="3.6" stroke-linejoin="round" stroke-linecap="round" stroke-dasharray="0.1 2.9"/>
<polyline points="1568.4,500.1 1569.6,501.3 1570.2,500.6 1573.2,501.8 1573,501.6 1575,502.4" fill="none" stroke="#000" stroke-width="1.1" stroke-linejoin="round" stroke-linecap="round"/>
<polyline points="1568.4,500.1 1569.6,501.3 1570.2,500.6 1573.2,501.8 1573,501.6 1575,502.4" fill="none" stroke="#000" stroke-width="2.0" stroke-linejoin="round" stroke-linecap="round" stroke-dasharray="0.1 1.6"/>
<polyline points="1625.8,442 1626.3,440.5 1626.7,440.7 1628.1,439.3 1628.7,438 1629.5,436.7 1630.5,435.9 1631.2,434.9 1632,433.4 1632.1,432.4 1632.3,430.7 1634.1,429.6 1634.8,429.3 1635.4,428 1635.5,427.6 1636.4,426.8 1638.8,424.7 1639.5,424.7 1639.4,423.6 1641,422.4 1641.2,422.3 1643.1,421.5 1642.8,419.4 1644.7,419 1645.4,418 1645.7,417.5 1647.7,415.4 1647.3,414.9 1648.8,413.5 1649,412.3 1649.5,410.3 1649.9,409" fill="none" stroke="#000" stroke-width="1.6500000000000001" stroke-linejoin="round" stroke-linecap="round"/>
<polyline points="1625.8,442 1626.3,440.5 1626.7,440.7 1628.1,439.3 1628.7,438 1629.5,436.7 1630.5,435.9 1631.2,434.9 1632,433.4 1632.1,432.4 1632.3,430.7 1634.1,429.6 1634.8,429.3 1635.4,428 1635.5,427.6 1636.4,426.8 1638.8,424.7 1639.5,424.7 1639.4,423.6 1641,422.4 1641.2,422.3 1643.1,421.5 1642.8,419.4 1644.7,419 1645.4,418 1645.7,417.5 1647.7,415.4 1647.3,414.9 1648.8,413.5 1649,412.3 1649.5,410.3 1649.9,409" fill="none" stroke="#000" stroke-width="3.0" stroke-linejoin="round" stroke-linecap="round" stroke-dasharray="0.1 2.4"/>
<polyline points="1622.1,447.3 1622.5,447.8 1622.1,449.5 1623.2,451.7 1623,452.8 1623.8,453.4 1623.1,454.6 1622.8,456.9 1623.4,458.2 1622.2,459 1623,461 1621.9,462.5 1622.1,463.7 1621.7,463.7 1620.2,465.5" fill="none" stroke="#000" stroke-width="1.6500000000000001" stroke-linejoin="round" stroke-linecap="round"/>
<polyline points="1622.1,447.3 1622.5,447.8 1622.1,449.5 1623.2,451.7 1623,452.8 1623.8,453.4 1623.1,454.6 1622.8,456.9 1623.4,458.2 1622.2,459 1623,461 1621.9,462.5 1622.1,463.7 1621.7,463.7 1620.2,465.5" fill="none" stroke="#000" stroke-width="3.0" stroke-linejoin="round" stroke-linecap="round" stroke-dasharray="0.1 2.4"/>
<polyline points="1596.4,514.1 1595.9,515.6 1596.3,516.4 1597.6,518.2 1597.5,518.9 1597,520 1597.9,522 1598.5,523 1598.7,523.7 1598.9,524.4 1599.9,526.8 1599.4,526.7 1599.9,528.7 1600.7,530.1 1600.6,531.3 1600.9,532.4" fill="none" stroke="#000" stroke-width="1.9800000000000002" stroke-linejoin="round" stroke-linecap="round"/>
<polyline points="1596.4,514.1 1595.9,515.6 1596.3,516.4 1597.6,518.2 1597.5,518.9 1597,520 1597.9,522 1598.5,523 1598.7,523.7 1598.9,524.4 1599.9,526.8 1599.4,526.7 1599.9,528.7 1600.7,530.1 1600.6,531.3 1600.9,532.4" fill="none" stroke="#000" stroke-width="3.6" stroke-linejoin="round" stroke-linecap="round" stroke-dasharray="0.1 2.9"/>
<polyline points="1577.3,542.8 1577.6,544.1 1578.8,544.7 1578.6,546.5" fill="none" stroke="#000" stroke-width="1.4300000000000002" stroke-linejoin="round" stroke-linecap="round"/>
<polyline points="1577.3,542.8 1577.6,544.1 1578.8,544.7 1578.6,546.5" fill="none" stroke="#000" stroke-width="2.6" stroke-linejoin="round" stroke-linecap="round" stroke-dasharray="0.1 2.1"/>
<polyline points="1581.7,541.2 1581.7,542.4 1581.7,543.4 1582.8,544.9" fill="none" stroke="#000" stroke-width="1.4300000000000002" stroke-linejoin="round" stroke-linecap="round"/>
<polyline points="1581.7,541.2 1581.7,542.4 1581.7,543.4 1582.8,544.9" fill="none" stroke="#000" stroke-width="2.6" stroke-linejoin="round" stroke-linecap="round" stroke-dasharray="0.1 2.1"/>
<polyline points="1585.6,539.8 1586.8,541 1586.7,543.1 1587.1,543.8" fill="none" stroke="#000" stroke-width="1.4300000000000002" stroke-linejoin="round" stroke-linecap="round"/>
<polyline points="1585.6,539.8 1586.8,541 1586.7,543.1 1587.1,543.8" fill="none" stroke="#000" stroke-width="2.6" stroke-linejoin="round" stroke-linecap="round" stroke-dasharray="0.1 2.1"/>
<polyline points="1589.5,538.4 1589.8,539.5 1590.5,540.7 1591.1,542.3" fill="none" stroke="#000" stroke-width="1.4300000000000002" stroke-linejoin="round" stroke-linecap="round"/>
<polyline points="1589.5,538.4 1589.8,539.5 1590.5,540.7 1591.1,542.3" fill="none" stroke="#000" stroke-width="2.6" stroke-linejoin="round" stroke-linecap="round" stroke-dasharray="0.1 2.1"/>
<polyline points="1593.4,536.7 1593.9,537.5 1594.6,539.2 1594.6,540.9" fill="none" stroke="#000" stroke-width="1.4300000000000002" stroke-linejoin="round" stroke-linecap="round"/>
<polyline points="1593.4,536.7 1593.9,537.5 1594.6,539.2 1594.6,540.9" fill="none" stroke="#000" stroke-width="2.6" stroke-linejoin="round" stroke-linecap="round" stroke-dasharray="0.1 2.1"/>
<polyline points="1580.5,447.3 1578.9,445.9 1578.3,445.3 1578.2,443.7" fill="none" stroke="#000" stroke-width="1.32" stroke-linejoin="round" stroke-linecap="round"/>
<polyline points="1580.5,447.3 1578.9,445.9 1578.3,445.3 1578.2,443.7" fill="none" stroke="#000" stroke-width="2.4" stroke-linejoin="round" stroke-linecap="round" stroke-dasharray="0.1 1.9"/>
<polyline points="1579.6,438.2 1578.4,436.4 1577.3,435.5" fill="none" stroke="#000" stroke-width="1.32" stroke-linejoin="round" stroke-linecap="round"/>
<polyline points="1579.6,438.2 1578.4,436.4 1577.3,435.5" fill="none" stroke="#000" stroke-width="2.4" stroke-linejoin="round" stroke-linecap="round" stroke-dasharray="0.1 1.9"/>
<polyline points="1575,543.9 1575.7,543.5 1576.8,543.7 1578,542.8 1580.4,542.1 1580.8,541.8 1582.8,541.6 1583.1,540.9 1584.2,540 1585.7,539.5 1587.9,539.3 1588.4,539.2 1590.6,538.9 1590.2,536.9 1592.3,536.5 1593.5,536.8 1594.2,536.2 1595.8,536.3 1597.3,535.6" fill="none" stroke="#000" stroke-width="1.87" stroke-linejoin="round" stroke-linecap="round"/>
<polyline points="1575,543.9 1575.7,543.5 1576.8,543.7 1578,542.8 1580.4,542.1 1580.8,541.8 1582.8,541.6 1583.1,540.9 1584.2,540 1585.7,539.5 1587.9,539.3 1588.4,539.2 1590.6,538.9 1590.2,536.9 1592.3,536.5 1593.5,536.8 1594.2,536.2 1595.8,536.3 1597.3,535.6" fill="none" stroke="#000" stroke-width="3.4" stroke-linejoin="round" stroke-linecap="round" stroke-dasharray="0.1 2.7"/>
<polyline points="1594,553.4 1594.9,554 1594.5,556.2 1594.9,557.4 1594.2,559" fill="none" stroke="#000" stroke-width="1.87" stroke-linejoin="round" stroke-linecap="round"/>
<polyline points="1594,553.4 1594.9,554 1594.5,556.2 1594.9,557.4 1594.2,559" fill="none" stroke="#000" stroke-width="3.4" stroke-linejoin="round" stroke-linecap="round" stroke-dasharray="0.1 2.7"/>
<polyline points="1566.7,565.1 1568.1,566 1569,566 1571.1,565.9 1571.9,566.5 1573.3,565.5 1573.3,567.4 1575,566.8 1576.8,565.6 1578.1,564.7 1578.9,564.5 1580,565.4 1581.1,565.7 1582.8,567.3 1584,568.1 1584.7,568.6 1587,568 1586.9,568.6 1588.7,569.7 1589.5,570.3" fill="none" stroke="#000" stroke-width="2.2" stroke-linejoin="round" stroke-linecap="round"/>
<polyline points="1566.7,565.1 1568.1,566 1569,566 1571.1,565.9 1571.9,566.5 1573.3,565.5 1573.3,567.4 1575,566.8 1576.8,565.6 1578.1,564.7 1578.9,564.5 1580,565.4 1581.1,565.7 1582.8,567.3 1584,568.1 1584.7,568.6 1587,568 1586.9,568.6 1588.7,569.7 1589.5,570.3" fill="none" stroke="#000" stroke-width="4.0" stroke-linejoin="round" stroke-linecap="round" stroke-dasharray="0.1 3.2"/>
<polyline points="1578.9,569 1580.4,569.5 1580.5,571.2 1581.2,572.3 1581.1,573.4 1579.4,575.1 1578.6,576.2 1578.2,578.2 1578.9,579.1 1577.2,580.9 1577.8,581.2" fill="none" stroke="#000" stroke-width="1.7600000000000002" stroke-linejoin="round" stroke-linecap="round"/>
<polyline points="1578.9,569 1580.4,569.5 1580.5,571.2 1581.2,572.3 1581.1,573.4 1579.4,575.1 1578.6,576.2 1578.2,578.2 1578.9,579.1 1577.2,580.9 1577.8,581.2" fill="none" stroke="#000" stroke-width="3.2" stroke-linejoin="round" stroke-linecap="round" stroke-dasharray="0.1 2.6"/>
<polyline points="1598.7,522.2 1598.2,524.4 1598.6,525.3 1600.1,526.7 1599.5,527.3 1600.1,528.9 1600.8,531.1 1600.9,531.8 1600.7,532.9 1601.2,534.5" fill="none" stroke="#000" stroke-width="2.2" stroke-linejoin="round" stroke-linecap="round"/>
<polyline points="1598.7,522.2 1598.2,524.4 1598.6,525.3 1600.1,526.7 1599.5,527.3 1600.1,528.9 1600.8,531.1 1600.9,531.8 1600.7,532.9 1601.2,534.5" fill="none" stroke="#000" stroke-width="4.0" stroke-linejoin="round" stroke-linecap="round" stroke-dasharray="0.1 3.2"/>
<polyline points="1693.1,367.8 1695,367.2 1695.3,366.3 1696.9,366.4 1697.4,364.2 1698.7,363.9 1699.5,362.6 1701.1,363.6 1701.5,362.6 1702.6,362.3 1704.2,360.9" fill="none" stroke="#000" stroke-width="1.4300000000000002" stroke-linejoin="round" stroke-linecap="round"/>
<polyline points="1693.1,367.8 1695,367.2 1695.3,366.3 1696.9,366.4 1697.4,364.2 1698.7,363.9 1699.5,362.6 1701.1,363.6 1701.5,362.6 1702.6,362.3 1704.2,360.9" fill="none" stroke="#000" stroke-width="2.6" stroke-linejoin="round" stroke-linecap="round" stroke-dasharray="0.1 2.1"/>
<polyline points="1876.9,252.2 1876.4,253.6 1876.7,254.7 1878.8,255.5 1879.1,257.4 1878.6,258.4 1880.4,258.1 1881.2,259.5 1882.1,259.8 1883.9,260.9 1884.2,261.2 1885,262.7 1885.2,264.1 1885.8,264.9 1885.4,266 1885.9,267.3 1886.9,268.8 1887.5,269.5 1888.6,270.2 1889.4,270.8 1891.1,272.9 1891.2,273.2 1892,271.6 1893.1,271.2 1894.2,269.8" fill="none" stroke="#000" stroke-width="2.09" stroke-linejoin="round" stroke-linecap="round"/>
<polyline points="1876.9,252.2 1876.4,253.6 1876.7,254.7 1878.8,255.5 1879.1,257.4 1878.6,258.4 1880.4,258.1 1881.2,259.5 1882.1,259.8 1883.9,260.9 1884.2,261.2 1885,262.7 1885.2,264.1 1885.8,264.9 1885.4,266 1885.9,267.3 1886.9,268.8 1887.5,269.5 1888.6,270.2 1889.4,270.8 1891.1,272.9 1891.2,273.2 1892,271.6 1893.1,271.2 1894.2,269.8" fill="none" stroke="#000" stroke-width="3.8" stroke-linejoin="round" stroke-linecap="round" stroke-dasharray="0.1 3"/>
<polyline points="1898.1,265.8 1899.2,264.2 1900.3,264.4 1900.2,262.4 1902,261.4 1903.1,260.6 1905.3,261.3 1906.5,259.9 1908,258.9 1908.7,259.2 1909.6,258.3 1909.8,257.7 1911.2,256.6 1911.7,256.3 1912.6,254.4 1914.2,254.5 1915.8,253.2 1916.3,253 1917,251.7" fill="none" stroke="#000" stroke-width="2.09" stroke-linejoin="round" stroke-linecap="round"/>
<polyline points="1898.1,265.8 1899.2,264.2 1900.3,264.4 1900.2,262.4 1902,261.4 1903.1,260.6 1905.3,261.3 1906.5,259.9 1908,258.9 1908.7,259.2 1909.6,258.3 1909.8,257.7 1911.2,256.6 1911.7,256.3 1912.6,254.4 1914.2,254.5 1915.8,253.2 1916.3,253 1917,251.7" fill="none" stroke="#000" stroke-width="3.8" stroke-linejoin="round" stroke-linecap="round" stroke-dasharray="0.1 3"/>
<g fill="#000">
<circle cx="1721.4" cy="358.7" r="1.6"/>
<circle cx="1880" cy="271.7" r="1.5"/>
<circle cx="1876.5" cy="263.9" r="0.8"/>
<circle cx="1791.7" cy="255" r="1.0"/>
<circle cx="1797.9" cy="256.9" r="1.2"/>
<circle cx="1801.4" cy="254.5" r="0.7"/>
<circle cx="1748.8" cy="290.3" r="1.0"/>
<circle cx="1743.2" cy="356" r="1.0"/>
<circle cx="1748.7" cy="290" r="1.2"/>
</g>
<path d="M1784 251.4H1966.5V582.3H1591" fill="none" stroke="#000" stroke-width="1.3"/>
</g>
<path d="M1595.6 251.4v-8.8M1595.6 582.3v9.1M1652.5 251.4v-8.8M1652.5 582.3v9.1M1709.5 251.4v-8.8M1709.5 582.3v9.1M1766.4 251.4v-8.8M1766.4 582.3v9.1M1823.4 251.4v-8.8M1823.4 582.3v9.1M1880.3 251.4v-8.8M1880.3 582.3v9.1M1937.2 251.4v-8.8M1937.2 582.3v9.1M1567.2 548.4h-8.8M1966.5 548.4h9.1M1567.2 476.3h-8.8M1966.5 476.3h9.1M1567.2 403.3h-8.8M1966.5 403.3h9.1M1567.2 328.4h-8.8M1966.5 328.4h9.1M1567.2 251.4h-8.8M1966.5 251.4h9.1" stroke="#000" stroke-width="2.9" fill="none"/>
<path d="M1567.1 251.4v-2.9M1567.1 582.3v2.4M1581.4 251.4v-2.9M1581.4 582.3v2.4M1609.8 251.4v-2.9M1609.8 582.3v2.4M1624.1 251.4v-2.9M1624.1 582.3v2.4M1638.3 251.4v-2.9M1638.3 582.3v2.4M1666.8 251.4v-2.9M1666.8 582.3v2.4M1681 251.4v-2.9M1681 582.3v2.4M1695.2 251.4v-2.9M1695.2 582.3v2.4M1723.7 251.4v-2.9M1723.7 582.3v2.4M1737.9 251.4v-2.9M1737.9 582.3v2.4M1752.2 251.4v-2.9M1752.2 582.3v2.4M1780.7 251.4v-2.9M1780.7 582.3v2.4M1794.9 251.4v-2.9M1794.9 582.3v2.4M1809.1 251.4v-2.9M1809.1 582.3v2.4M1837.6 251.4v-2.9M1837.6 582.3v2.4M1851.8 251.4v-2.9M1851.8 582.3v2.4M1866.1 251.4v-2.9M1866.1 582.3v2.4M1894.5 251.4v-2.9M1894.5 582.3v2.4M1908.8 251.4v-2.9M1908.8 582.3v2.4M1923 251.4v-2.9M1923 582.3v2.4M1951.5 251.4v-2.9M1951.5 582.3v2.4M1965.7 251.4v-2.9M1965.7 582.3v2.4M1567.2 582.3h-2.9M1966.5 582.3h2.4M1567.2 565.3h-2.9M1966.5 565.3h2.4M1567.2 530.4h-2.9M1966.5 530.4h2.4M1567.2 512.4h-2.9M1966.5 512.4h2.4M1567.2 494.3h-2.9M1966.5 494.3h2.4M1567.2 458.1h-2.9M1966.5 458.1h2.4M1567.2 439.8h-2.9M1966.5 439.8h2.4M1567.2 421.6h-2.9M1966.5 421.6h2.4M1567.2 384.6h-2.9M1966.5 384.6h2.4M1567.2 365.9h-2.9M1966.5 365.9h2.4M1567.2 347.1h-2.9M1966.5 347.1h2.4M1567.2 309.2h-2.9M1966.5 309.2h2.4M1567.2 290h-2.9M1966.5 290h2.4M1567.2 270h-2.9M1966.5 270h2.4" stroke="#000" stroke-width="1.9" fill="none"/>
<text x="1550.4" y="260.4" font-size="21.9" font-weight="normal" font-style="normal" text-anchor="end">44°N</text>
<text x="1550.4" y="337.4" font-size="21.9" font-weight="normal" font-style="normal" text-anchor="end">42°N</text>
<text x="1550.4" y="412.3" font-size="21.9" font-weight="normal" font-style="normal" text-anchor="end">40°N</text>
<text x="1550.4" y="485.3" font-size="21.9" font-weight="normal" font-style="normal" text-anchor="end">38°N</text>
<text x="1550.4" y="557.4" font-size="21.9" font-weight="normal" font-style="normal" text-anchor="end">36°N</text>
<text x="1599.9" y="633.6" font-size="22.3" font-weight="normal" font-style="normal" text-anchor="middle" transform="rotate(-45 1599.9 633.6)">76°W</text>
<text x="1656.8" y="633.6" font-size="22.3" font-weight="normal" font-style="normal" text-anchor="middle" transform="rotate(-45 1656.8 633.6)">74°W</text>
<text x="1713.8" y="633.6" font-size="22.3" font-weight="normal" font-style="normal" text-anchor="middle" transform="rotate(-45 1713.8 633.6)">72°W</text>
<text x="1770.7" y="633.6" font-size="22.3" font-weight="normal" font-style="normal" text-anchor="middle" transform="rotate(-45 1770.7 633.6)">70°W</text>
<text x="1827.7" y="633.6" font-size="22.3" font-weight="normal" font-style="normal" text-anchor="middle" transform="rotate(-45 1827.7 633.6)">68°W</text>
<text x="1884.6" y="633.6" font-size="22.3" font-weight="normal" font-style="normal" text-anchor="middle" transform="rotate(-45 1884.6 633.6)">66°W</text>
<text x="1941.5" y="633.6" font-size="22.3" font-weight="normal" font-style="normal" text-anchor="middle" transform="rotate(-45 1941.5 633.6)">64°W</text>
<rect x="1684" y="657.7" width="165.3" height="143.4" rx="4" ry="4" fill="#fff" stroke="#cccccc" stroke-width="1.6"/>
<path d="M1692.4 677.4H1739.7" stroke="#0000ff" stroke-width="2.5"/>
<circle cx="1716.1" cy="677.4" r="5.85" fill="#0000ff"/>
<text x="1757.2" y="685.6" font-size="22.5" font-weight="normal" font-style="normal" text-anchor="start">gi_486</text>
<path d="M1692.4 711.4H1739.7" stroke="#ff0000" stroke-width="2.5"/>
<circle cx="1716.1" cy="711.4" r="5.85" fill="#ff0000"/>
<text x="1757.2" y="719.6" font-size="22.5" font-weight="normal" font-style="normal" text-anchor="start">RTOFS</text>
<path d="M1692.4 745.3H1739.7" stroke="#008000" stroke-width="2.5"/>
<circle cx="1716.1" cy="745.3" r="5.85" fill="#008000"/>
<text x="1757.2" y="753.5" font-size="22.5" font-weight="normal" font-style="normal" text-anchor="start">ESPC</text>
<path d="M1692.4 780H1739.7" stroke="#ff00ff" stroke-width="2.5"/>
<circle cx="1716.1" cy="780" r="5.85" fill="#ff00ff"/>
<text x="1757.2" y="788.2" font-size="22.5" font-weight="normal" font-style="normal" text-anchor="start">CMEMS</text>
</svg></body></html>
